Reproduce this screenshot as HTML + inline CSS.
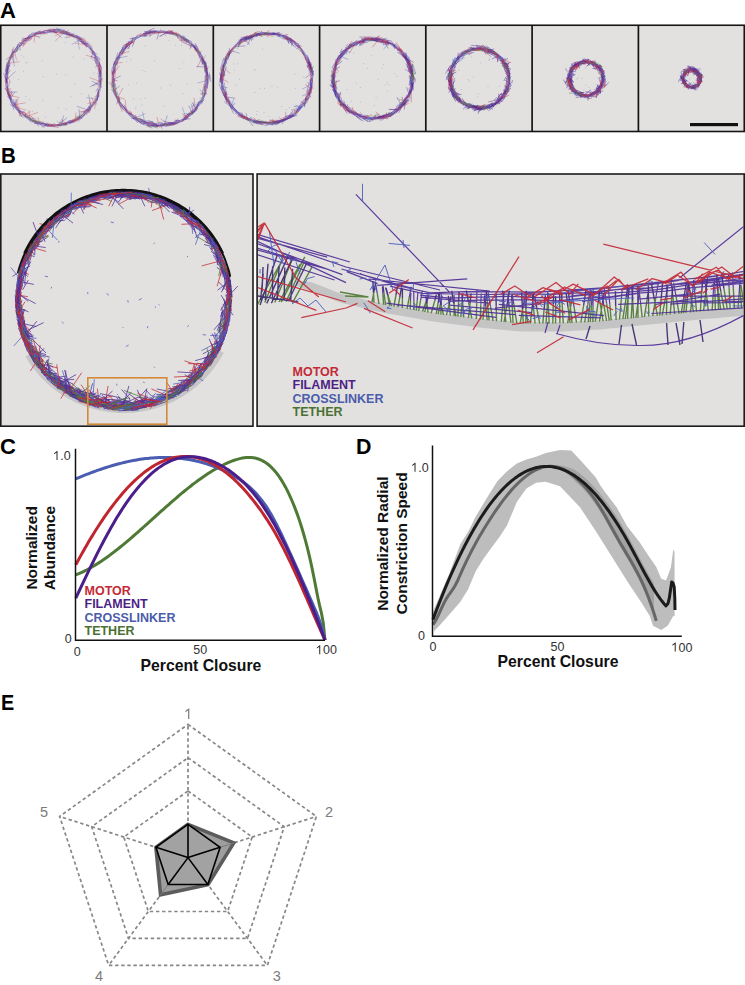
<!DOCTYPE html>
<html><head><meta charset="utf-8"><style>
html,body{margin:0;padding:0;background:#fff;}
body{width:745px;height:985px;overflow:hidden;font-family:"Liberation Sans", sans-serif;}
svg{position:absolute;left:0;top:0;}
text{font-family:"Liberation Sans", sans-serif;}
</style></head><body>
<svg width="745" height="985" viewBox="0 0 745 985">
<text transform="translate(0.0 17.8) scale(1.0 1)" font-size="22" font-weight="bold" fill="#000">A</text>
<text transform="translate(0.9 163.1) scale(0.93 1)" font-size="22" font-weight="bold" fill="#000">B</text>
<text transform="translate(0.1 453.6) scale(1.0 1)" font-size="22" font-weight="bold" fill="#000">C</text>
<text transform="translate(355.9 454) scale(0.97 1)" font-size="22" font-weight="bold" fill="#000">D</text>
<text transform="translate(0.9 710) scale(0.9 1)" font-size="22" font-weight="bold" fill="#000">E</text>
<rect x="0.75" y="25.25" width="743.5" height="106.25" fill="#e2e1e0" stroke="#151515" stroke-width="1.6"/>
<line x1="107" y1="25" x2="107" y2="131.5" stroke="#151515" stroke-width="1.7"/>
<line x1="213.3" y1="25" x2="213.3" y2="131.5" stroke="#151515" stroke-width="1.7"/>
<line x1="319.6" y1="25" x2="319.6" y2="131.5" stroke="#151515" stroke-width="1.7"/>
<line x1="425.8" y1="25" x2="425.8" y2="131.5" stroke="#151515" stroke-width="1.7"/>
<line x1="532.1" y1="25" x2="532.1" y2="131.5" stroke="#151515" stroke-width="1.7"/>
<line x1="638.4" y1="25" x2="638.4" y2="131.5" stroke="#151515" stroke-width="1.7"/>
<rect x="690" y="123" width="48" height="3.2" fill="#111"/>
<circle cx="53.5" cy="78.2" r="47.4" fill="none" stroke="#5a3ea8" stroke-width="2.4" stroke-opacity="0.3"/><path d="M5.7 74.6L10.5 63.3M10.7 100.6L7.1 90.1M101 86.5L96.4 95.6M67.2 123.6L62.6 124.3M97.8 72.8L100.2 84.8M45.5 125.2L41.4 127.2M61.6 30.5L70 32.7M7 75L7.1 64.8M96 102.1L88.2 110.5M46.3 125.5L44.9 123.3M11.3 100.5L7.1 93.1M74 120.8L68.3 122.8M90.8 107.5L83.4 112.3M25.9 38.1L32.3 36M100.6 69.7L100.6 80.1M15.8 51.9L22.6 42.2M6.3 81.6L6.2 77.6M98.9 68L99.2 74.1M77.5 41L84.1 42M23.5 41.3L28.5 38M7 80.1L9 68.1M102.2 77.9L99 82.4M69.1 35.8L77.8 37.2M12.5 92.4L7.1 88.1M61.7 125.1L53.7 126.4M83 43.1L91.3 48.7M62.8 33.6L68.4 30.3M60.4 32.3L67.9 33.4M71.2 120.3L62.9 124M8.4 67.5L8.9 60.7M87.7 109.5L83.3 113M34.8 34.8L37.8 33.1M63.2 123.3L57.2 125.6M34.7 120.3L32.1 121.5M97.7 67.8L100.9 77.3M91 102.7L88.4 111.6M77.4 118L75.3 118M98.5 62.6L100.9 67.8M11.5 99.8L8.9 92.1M97.6 94.4L97.5 101M15.6 106L7.4 96.3M69.4 34.4L74.6 34.2M18.8 42.6L25.4 44.2M5.7 71.5L9.9 65.3M99.1 89L97 100M71.4 35.1L82.7 39.6M9.4 95.8L5.3 87.8M101.7 67.7L98.9 77.5M99.5 61.6L99.6 72.7M17.8 109.4L11.5 103.2M38.6 124.4L29.2 118.7M42.6 34.1L46.3 32.2M98.1 89.2L95.6 91.2M46.6 31.8L57.7 32.7M11.3 102.6L8.4 93.3M50.3 125.2L44.1 125.6M12.7 100.5L8.6 94.7M10.4 60.3L13.2 48.6M84.9 114.8L78 118.9M43.6 32.7L51.3 31.8M55.8 27.7L61 30M47.2 124.8L38.8 123M90.5 48.2L94.4 53.4M62.7 30.9L64.8 30.7M7.2 68.8L7.2 62.7M61.4 33.2L73.3 34.9M65.9 32.2L74.2 36.2M53.3 30.5L56 30.8M43.5 30.9L48.9 30.2M88.9 48.1L97.3 54.4M87.1 43.1L88.9 46.1M75.6 35.8L84.1 44.4M31.4 34.3L40.8 31M60.8 126.1L57.9 125.3M73.7 119.3L64.3 124.6M63.8 123.3L60.2 122.9M97.6 98.6L95.6 100.7M5.4 70.6L7.1 62.8M9.8 97.3L6.7 86.3M74.1 122.3L63 123.3M59.2 33.3L71.1 34.9M25.9 117.4L25.5 113.6M93.3 51.5L98.4 61.7M13.8 53.1L19.4 48.4M82.8 40.9L86.1 46.7M56.4 31.2L60.1 30.2M78.6 36.6L81.2 40.3M8.3 94.5L7.3 86.3M91.8 105.3L89.2 113M6.5 70.9L8.9 60.5M20.5 114.4L19.2 109.3M22.5 44.4L30.6 37.6M24.8 112L19 111.1M22 117.1L18 109.8M47.5 30.8L54.1 31.6M64.8 37.6L70.1 37M16.7 108.4L13 99.4M53.6 29.4L63.6 29.3M91.1 109.2L85.9 115.3M54.1 31.7L57.3 32.6M94.8 53.2L96.6 65.8M47.1 124.4L38.7 121.6M14.4 106.2L9.9 100.9M100.5 70.1L98.6 81.8M49 124.6L37.8 122.2M30.9 121.1L21.4 113.5M81.6 43.4L88 43.8M16 106.6L16.1 101.8M13.3 53L19.3 42.6M44.1 122L40.3 125.1M85.7 114.1L77.7 121.9M38 34.2L40.6 32.1M6.3 74.8L8.9 65.4M89.7 46.3L94.1 55.6M73.2 120.8L69.2 124.2M80.9 116.4L77.9 119M20.9 114.1L19.6 112.6M55 123.4L50.9 125.5M35 33.2L40.1 30.8M37.1 122.8L34.5 123.6M11.3 55.2L18.6 44.4M27.7 38.4L29.2 34.9M54.7 32L63.6 31.3M21.9 40.4L25.8 38.2M30.4 117.8L25 114M26 117L18.6 109.3M98 65.1L100.3 73.7M60.7 32.6L70.5 35.2M22.3 41.1L30.5 39.9M34.6 119.3L25 116.2M99.9 63.4L101 67.4M52.5 124.4L48.2 125.8M97.5 95.9L95.9 104.9M96 58.9L98.3 67M85.4 41.5L87 47.2M52.9 125.2L45.1 124.3M12.7 57L13.3 50.7M7.7 88.8L7.5 82M15 105L15.2 99.5M100.3 78L100.6 86.5M100.6 82.8L101 88M80.1 41.2L85.2 43.5M6.4 83.1L7.2 70.8M5.9 59.6L11.7 56.2M76.2 35L85 43.9M40.1 33.5L43.9 32.5M20.2 50.8L19.7 44.4M97.2 91.3L98.8 96.4M38.5 121.8L31.7 120.6M98.6 90L98.2 97.4M44.5 127.5L40.6 124.6M8.8 57.9L14.1 51.8M85.7 113.3L81.6 117.6M65.1 33.7L76.6 37.4M100.4 72.4L100.3 77.4M6.8 82.6L6 78.7M27.9 37.7L32.4 32.4M66 32.8L72.1 35.9M81.9 117.9L72 121M28.9 37.8L31.4 37.4M67 124.4L63.5 124M7.1 82.9L5.2 73.7M18.3 110.6L11.7 104.5M6.6 82.6L7.6 76M33.3 34.6L45.1 32.1M7.2 74.5L7.6 66.5M89.6 51.2L100.6 59.8M69.2 120.8L64.8 125.1M51.8 29L59.6 29.9M82.6 118.4L77.9 116.5M21.9 38.1L32.1 38.9M8 83.2L3.4 73M21.3 40.4L26.4 38M33.7 34.2L44 31.7M76 35.4L84.7 39M5.2 72.6L6 70.6M84.6 43.5L88.3 47.2M88.7 106.3L86.6 113.7M78.3 39.5L83.4 43.7M11.4 99.4L10.4 97.7M81.9 112.6L78.6 116.1M39.3 124.3L33.9 123.3M17.8 108L12.7 105.3M89.9 105.5L88.3 111.5M49.1 29.7L61.7 30.4M34.2 118.4L29.2 120.3M49.9 30.9L55.3 31.3M41.7 124.5L34.6 121.2M7.9 87.5L5.2 86.2M84.4 40.2L92.8 48.5M72.5 122.5L69.6 122.6M48.8 30.3L50.6 30.1M80 119.3L68.4 122.5M8.3 87L9.8 81.5M99.5 95.7L92 106.2M25.7 39.3L32.9 35.7M67.2 125.1L58.5 124.7M20.7 112.6L15.6 108.8M48.9 30.3L51.8 31.6M13.9 110L11 101.6M54.2 126.7L43.7 125.9M16.9 51.8L17.9 44M89.3 106.4L83.2 113.3M8.5 91.8L4.3 88.1M56.4 125.5L46.2 125.2M79.2 118.1L75.9 115.6M14.3 104.8L18.2 98.7M24.8 40.4L19.3 47M100 87.2L96.4 84M96.7 58.8L90.7 56.1M93.2 52.3L90.8 58.5M6.2 75.3L10.6 70M100.9 80.3L89.9 87M30.3 36.8L35.6 35.4M100.4 85.2L91.9 81.2M52.6 30.8L61.9 37.7M79.7 117.7L79 109.2M9.5 60.5L9.1 66.4M99 64.8L95.2 67.4M12 55.4L13.5 62.1M100.7 82.5L92.1 86M61.4 124.9L63.6 115.5M88.5 110.2L76.9 106.4M10.5 98.2L15.2 91.7M6.1 80.1L15.6 71.3M17.8 109.4L23.6 113.1M57 125.5L67.1 117.7" stroke="#4a2896" stroke-width="0.6" stroke-opacity="0.55" fill="none"/><path d="M64.7 31L67.9 33.8M28.9 36.6L34.6 32.3M19.7 116.6L18.6 108M37.4 34.6L44.2 31.4M45.9 124L42.7 123.6M25.3 39L33.3 35.9M96.5 96.9L95.9 99.1M75.2 120.3L67.8 120.8M16.9 104.4L11.2 101.4M42.3 124.3L29.8 121.5M31.4 118.8L23.8 115.2M97.7 88.4L96.8 90.3M79 36.5L87.8 45.7M73.4 36.8L82.3 42.5M6.3 74.7L5.7 68.7M5.3 80.9L7.1 71.8M96.3 100.8L87.4 108.2M42.4 34.1L54.7 30.6M7.9 86.2L4.6 81M7.8 68.2L7.2 66.1M98.1 55.9L97 64.2M62.8 31.3L65.3 29.1M19.7 111.2L9.5 104M38.7 126.8L34.9 117.6M77.3 37.2L79.4 49.7M91.2 106.9L88.5 94.5M86.7 112L83 113.3M96.1 99L86.3 97.6M13 53.6L14.3 66.5M61 125L62.9 121.6M34.1 35L39.9 38.1M81.2 39.7L75.2 37.5M89.2 109.4L80.7 112.3M9.9 96.8L12.1 91.4M97.6 60.7L94.1 56.8M25.3 40.1L20.3 46.2M57.2 125.5L61.8 119.8M8.2 92.1L17.6 92M98.8 64.3L91.7 58.2M94.5 54.4L95.5 63.5M80.3 39.1L71.8 44.6" stroke="#5060c0" stroke-width="0.6" stroke-opacity="0.55" fill="none"/><path d="M37.9 123L31.9 119.9M6.6 69.7L8.4 63.1M15.1 52.8L16.8 48.4M77.4 38.1L82 39.9M101.4 67.1L99.9 70.9M75.2 36.8L85.8 41.9M58.8 32.9L63.3 30.5M78.1 119.5L72.8 122.2M28.4 116.9L23 111.5M55.5 124.5L50.9 125.7M38.3 33.3L41.5 33.4M66.9 122.4L62.4 124M63.8 32.3L68.9 32.7M86.2 110.7L79.2 117.4M67.9 123.7L55.3 124.7M8.5 95.1L7.6 91.1M80.1 116.9L74.4 122M66.3 35.6L75.9 35.7M50.4 125.8L46.2 122.6M18.6 108.3L15 104.3M20.2 46L22.3 43.9M64.5 31.4L74.9 37.4M76.7 118.2L73.5 122.3M98.3 91.7L97.8 94.1M52.3 30.1L55.3 32.8M45.2 125L34.4 120.3M6.8 85.1L4.5 76.3M62.2 125.3L58.5 124.7M99.7 78.8L100.5 82.3M92.5 51.3L92.1 54.8M52.4 32.8L57.9 32.6M8.6 97.2L6.5 88.9M32.9 117.6L22.9 111.8M58.9 127.9L48.8 125.6M21.6 116.9L17.1 110.1M23.2 45.2L32.6 37.7M91.7 48.5L93.2 53.2M5.3 85.6L7.5 80.4M58 124.6L46.7 126.6M61.1 32.1L65.9 30.9M13.2 96.4L6.2 86.8M99.1 62.1L99.2 72.9M40.2 32.3L51.4 28.7M9.2 98.2L12.4 92M87.3 41.5L92.1 46.9M68 34.3L72.9 36.4M57.4 125.6L47.1 123.2M91 108.9L80.8 115.8M99.2 57.9L99.3 70.9M51 31.1L63.3 32.9M6.2 72.6L9 68.6M83.7 42.7L86.7 47.7M19.9 43.6L27.2 37.5M88.5 110.6L85.4 113.4M99.6 94.8L94.1 97M102 78L97.4 89.6M78.8 38.8L86.3 40.3M9.6 59.1L13.7 46.8M27.7 39.6L37.7 33.4M47.5 30.5L55.1 29.8M7.6 61.8L15.1 54.5M77.8 117.8L69.6 122.4M11.5 97.3L7.3 88.1M79.3 116.4L75.1 122.5M93.8 57.5L98.1 68M23.6 117.8L19.9 113.2M33.8 34.3L41.8 31.5M100.8 64.7L101.9 76.6M25.6 41.7L29.8 34.2M20.3 43.5L28.8 37.2M8.1 61.8L11.9 54.6M25.5 113L18.2 112.5M96.2 99L94.5 109M95.3 98.6L90.8 107.3M20.5 45.8L23.9 44.8M100.8 81.8L89.5 77.5M30.1 119.4L28.9 110.2M8.6 63.1L19.5 61.6M63.7 31.9L55.2 41.3M32.5 35.7L40.4 36.9M79.4 38.5L85 45.6M88.3 110.3L79.5 111.9M6.3 73.4L10.3 82M14.5 51.2L16.5 60.1M94.4 102.1L87.4 103.6M34.9 34.6L34.1 42.4M78.7 118.3L69.8 120.8M62.4 31.6L55 36.1M18.5 110.2L16.6 99M25.7 116.6L37.9 112.5M13.1 103L19.6 107.6M14.3 104.8L25.8 102.7M94 102.8L91.4 97.1M7.1 87.9L11.4 89.1M96.5 58.2L85.9 55.2M38.8 33.1L47.6 33.8M16.2 107.4L26 110M87.3 45L74.6 43.1M9.3 95.3L19.4 97.7M35.6 122.1L31.4 116.2M66.4 123.8L61.2 119.2M39.3 123.4L38.1 117.2M27.8 38.4L22.6 47.4M90.2 108.2L89.7 99.8M23.7 115.1L30.9 111.5M74.4 120.8L76.1 112.6" stroke="#c8303f" stroke-width="0.6" stroke-opacity="0.55" fill="none"/><path d="M102.9 79.1L100.3 84.8M67.2 124.3L61.7 126M43.3 121.9L31.2 120.3M57.4 29.9L66.6 33.3M62.9 124.8L56.9 120.9M95.7 102.7L91.3 106.1M39.8 122.7L34.5 120.2M69.1 33.6L74.3 38.5M33.6 120.9L23.7 115.5M34.1 122L24.1 114.3M15.8 52.5L19.6 45.4M6.5 65.4L12.2 54.1M39.3 34.2L42 35.2M11 96.3L8.6 93.3M83.7 113.8L73.7 120.1M82.5 115.1L75.3 118" stroke="#4f8a40" stroke-width="0.6" stroke-opacity="0.55" fill="none"/>
<path d="M23.3 57.2h0.8M74.4 84h0.8M20.8 55.6h0.8M83.8 59.1h0.8M65.8 109.3h0.8M44.9 117.2h0.8M25.6 62.6h0.8M23.1 71.3h0.8M13.3 77.7h0.8M18.1 79.5h0.8M93.4 72.8h0.8M42.5 100.9h0.8M64.9 42.6h0.8M25.4 96.4h0.8M70.5 96.7h0.8M81.2 94h0.8M41.8 60.7h0.8M56 74h0.8M42.8 76.6h0.8M57.7 107.7h0.8M32.2 111.3h0.8M72.7 57h0.8M29 99.8h0.8M65.5 74.8h0.8M26.6 62.9h0.8" stroke="#7080c8" stroke-width="0.8" stroke-opacity="0.6"/>
<circle cx="160" cy="78.6" r="47" fill="none" stroke="#5a3ea8" stroke-width="2.3" stroke-opacity="0.35"/><path d="M156.6 124.9L152.2 121.5M153.5 31L157.4 31.3M144.5 36.5L146.1 32.5M114.8 73.9L115.4 65.8M134.1 120L130.8 112M146 33.5L152.3 30.5M175.5 122.7L172.1 123.8M205.2 84.3L202 94.3M124.3 44.9L131.2 41.5M118.1 57.5L124 51.2M142.2 34.5L150 33.1M202 57.9L204.7 67.9M182.7 35.6L185.4 37.2M114.1 71.8L114.8 70.1M165.9 33.4L168.7 31M207.6 71.6L207 80.2M123.9 110.2L119.7 104.8M115.7 65.2L120.8 56.3M205.9 69.2L207.4 71.1M149.2 32.1L153.2 32.7M205.7 79.5L204.2 90.8M157.7 126L151.3 122.6M145.1 35.3L147.5 34M143.1 33.6L154.6 31M124.5 107.7L119.4 101.7M147.2 122.4L138.3 120.8M139 35.7L146.8 36.4M200.1 52.5L199.2 58.3M158.6 32.6L160.8 30.8M114.7 82.2L111.7 70.4M177.7 123.6L170.3 123.2M126.5 49.2L130 46.1M205.6 65.8L204.7 69.7M210.1 75.1L207.1 87.9M121 50.7L125.4 45.7M130.9 114.5L128.8 112.9M125.2 46.8L127.6 44.3M144.4 120.3L134.2 117.3M138 123L135.2 120M145.4 123.2L143.9 120.6M169.3 123.2L167.6 124.3M183.8 39.7L188.5 42.5M157.8 126.7L151.3 124.4M144.2 125L133.5 118.4M149.1 36.8L153.7 33.1M183.5 118.7L181.8 122M127 109.8L124.1 104.7M112.6 82.5L113.9 70.2M178.2 35.9L187.6 42.7M162.1 128.7L159.7 123.2M165.4 33.3L174.5 33.6M175.5 34.1L181.2 35.6M198.8 103.9L194 112.6M168.9 32.2L171.3 31.9M192.1 112.5L184.9 116.8M124.6 45.5L127.4 43.8M143 120.3L131.3 118M173.8 124.9L168.8 121.9M126.4 43.2L129.1 43.4M114.2 64.8L117.9 52.6M126.7 47.4L133.2 41M158.7 33L160.7 31.1M112.7 86.1L113.8 81.8M127.1 112.6L124.9 108.4M185.3 39L188.5 40.7M180.7 37.3L189.6 41.9M205.7 86L207.7 89.2M151.5 123.1L141.4 120.7M124.8 48.6L133.1 41.7M119.2 57.9L120.1 52M172.2 32.8L174.1 34.1M113.7 87.2L108.8 82.1M202.3 59.5L206 67.3M117.4 58.1L118.3 56.6M205.2 62L205.2 64.4M198.1 104.8L192.4 114M143 33.8L155.6 32.9M185.8 116.4L183.3 118.5M188 117.7L183.6 118.5M119.8 101.3L119 98.1M143.6 35.6L150.9 34.7M168.4 124.2L158 125.8M157.6 128.2L147.6 124.2M205.2 60.5L205.9 70.8M160.4 29.5L164.3 32.5M202.3 58.4L206.2 66.7M122.8 53.5L125 50.6M123.3 51.1L122.5 46.7M206.5 62.5L206.1 68.1M187.6 39.9L190.6 45.6M209.1 72.4L210.9 81.8M112 74.5L114.6 67.6M176.9 121.8L164.6 123.4M157.3 126L148.5 125.1M166.7 125.2L163.3 124.6M115.9 65.1L119.3 57.4M204.2 67.9L205.3 71.4M159.9 123L151.6 123.7M120.3 52.7L123.8 45.2M206.7 73.9L206.4 78M190.5 118.7L181.4 119.6M175.3 124.2L166.7 125.4M193.6 46.2L195.5 48.3M165.6 32.8L173.4 31.6M164.7 124.4L160.3 122M114.2 70.5L115.1 68.2M157.5 125.6L146 122.4M145.1 32.3L154.5 28.1M175.8 122.5L167.3 124.1M152.6 121.7L142.7 123.9M132.1 115.3L129.8 110.5M172.3 122.9L162.2 125M119.6 53.2L128.6 44.9M202.1 58.6L205.9 65.2M188.3 118.4L182.2 120.9M115 91.9L111.2 89.5M194.6 44.8L196.9 47.1M198.9 102.5L195.7 111.7M207.9 77.5L207.2 87.7M198.3 103.4L195.4 108.2M128.5 112.2L122 105.4M176.5 33.6L177.7 38.3M128.4 43.8L129.3 41.1M119.5 102.7L114.8 93M182.8 121.1L175.5 123.2M202 57.8L202.1 64.5M116.4 89.4L114.7 83.3M205.3 92.5L200.8 102.8M197.9 51.2L201.3 62M205.5 64.4L207.4 74.2M129 114.3L123.5 106.7M170.1 31.1L173.3 32.5M116.7 104.4L119 97.7M209.1 74L206.5 86M154.4 126.1L146.2 125.4M119.7 103.4L118.8 95.8M134.6 116.9L129.7 113.4M121.5 53.9L128.2 44.2M179.4 40.4L185.1 39.7M111.6 69.9L115.1 61.4M205.4 92.8L201.7 104.1M124.8 51.1L126.6 44.2M200.7 100L196.1 106.7M205.4 74.7L204.8 79.6M206.2 89.6L204.7 96.2M205.1 70.1L208.8 78.3M115.6 58.8L120.2 57.2M190.9 45.3L198.6 50.1M131.1 114.5L127.7 112.6M193.5 45.6L197.1 51.8M156.5 32.4L166.2 32.6M197.6 109.1L191.4 114M144 31.4L155.2 32.9M200.6 56.5L202.7 64.2M114.4 92.5L113 89M189.8 114.8L186.6 114.5M132.9 118.5L128.4 113.9M204.4 99.7L198.4 104.8M121.9 105.7L119.7 103.1M190.8 43.6L195 49.5M195.6 108.1L190.4 111.9M202.8 56.8L201.9 59.4M178.9 122.4L174 124.4M203 59.7L205.2 62.9M157 124.9L147.1 123.1M191.6 44.3L195.9 46.2M141.4 123.9L133.8 116.8M115.6 96.8L112.9 91.3M205.3 76.2L207.2 81M194.5 110.9L185.4 118.1M114.5 86.4L112 81.7M113 88.5L113.4 84.9M195 43L198.4 49M205.7 65.7L207.9 75.9M207.1 80.9L206 84.1M115.5 65.9L116.3 63M191.3 110.6L184.3 117.8M146.3 123.6L139.8 120.7M167.4 122.9L155.4 126.6M154.6 32.4L157.8 30.8M164.6 125.3L156.2 125.9M190.3 42.4L197.7 50.9M114.7 86.3L113.8 84.4M116.2 98.3L116.9 94.7M117.3 57.2L121.3 51.9M178.5 118.9L174.3 122.1M193.2 113.5L182.8 120.4M202.2 100.5L197.4 102.5M144 33.2L151.1 30M126.9 45.5L134.9 41.1M185.1 38.2L192.1 42M145.3 122L139.6 118.2M149.4 31.6L155.6 30.9M199.9 55.9L206.4 64.6M112.6 74.2L115.8 71.7M182.2 36.9L186.8 40.3M207.9 68.7L204.9 71.2M206.5 68L208.1 76.4M152.3 128.2L140.8 122.6M128.2 49.3L133.1 37.5M172.3 124.1L169.7 124.5M113.7 81.4L114.8 79.4M130.3 38.7L137.7 36.9M197.6 108L190.4 114M112.6 73.5L114.4 60.9M192.9 44.8L199.2 50.6M150.3 127.2L146.1 121.7M113.3 64.8L119.2 55.4M203.9 61.7L205.6 66.5M195.1 47.2L198.8 56.3M125.7 108.7L119.5 101.4M170.9 124.7L160.6 123.6M146.7 33.7L155.7 30.9M181.4 41.7L192.2 46.6M117 66.5L117.4 58.4M169.8 30.8L174.2 33.4M207.3 66.2L206.1 73.8M158.9 125.2L156.3 123.6M194.2 111.3L191.8 114.9M166.1 33.3L178.2 35.7M163.7 31.2L168.1 31.5M202.7 61.1L202.4 64.7M177.9 36.5L179.3 39.4M193.9 46.7L200.8 55M123.5 49.3L127.2 46.3M167 32.7L176.3 33.5M205.3 83.6L204.4 93.8M202.3 93.4L202.9 96.5M121.4 56.2L123.8 50.5M190.7 113.7L183.3 119.3M180 36.5L184.4 37.5M134.7 118.2L133.3 114.7M204.4 94.1L199.7 89.5M135.4 38.5L132.3 46.8M191.5 43.7L190.1 49.1M113 79.7L117.6 80.9M136.5 119.3L135.4 115.2M196 108.9L191.8 102.1M158.1 125.6L148.4 120.3M192.2 112.9L188.7 105.5M167.1 32.1L160.1 36.5M167 32.1L158.8 36.7M113 79.9L120.8 75.7M181.8 37L187.4 42.4M205.6 67L196.5 66.5M179.9 121.2L176.2 120.9M180.5 120.9L175.1 120M159 31.6L156.9 39.5M173.2 123.7L163.5 121" stroke="#4a2896" stroke-width="0.6" stroke-opacity="0.6" fill="none"/><path d="M134.4 39.7L141.3 36M117.7 100.9L115.9 92.2M122.6 108.9L121 105.3M118.3 95L115 90.9M199.6 51.1L203.7 61.8M206 70.6L208.2 75.1M155 31.8L159.7 31.9M141.9 124L136.9 118.7M113.7 93L114 81.6M152.7 121.6L141.3 120M119.5 53.8L124.6 46.2M117 95.3L117.5 91.7M205.2 63.4L206.6 75.4M199 51.4L202.2 56.7M132.3 40.4L136.3 38.7M135.2 37.5L138 35.1M127.7 41.6L131.7 41.1M205.6 55.3L202.6 60.1M179.5 122.4L168.5 122.6M181.2 37.2L186.9 40.1M175 124.7L165.3 126.4M204.6 65.7L205.9 75.2M129.5 38.9L139.4 37.4M152.5 30.7L160.9 33.1M139.8 36.5L147.4 35.6M114.3 89.7L120 86M185.7 117.9L182.4 107.2M117.6 58.3L127.5 56.2M192 113L193.9 102.3M207 80.5L197.4 83M192.9 112.1L191.4 104.2M134.6 118.1L145.3 113.6M203.2 97L199.5 98.8M164 125.4L167.4 115.3M180.3 121L174.5 120.4M191.6 113.4L183.7 113.8M200.9 101.8L190.9 107.1M163.5 125.5L159.9 123.8M164.6 125.4L159 121.9M144.9 123.1L142.5 111.5M197.8 106.5L199.3 101.4" stroke="#5060c0" stroke-width="0.6" stroke-opacity="0.6" fill="none"/><path d="M167.7 31.1L173.4 30.6M139.8 35.8L150.4 32.2M125.6 48.8L133 41.1M122.2 111.9L117.5 99.5M209 66.6L206.6 69.7M195.9 45.8L197.5 48.4M205.4 67.8L208.2 69.1M125.4 44.9L132.1 41.6M132.2 115.2L126.4 108.9M118.2 101.9L118.4 96.6M201.8 55.4L204.7 62M150.1 33.2L156.6 31.3M125 46.6L132.8 42.2M200.7 56.4L203.6 60M112.6 73.6L116.5 68.4M163.9 124.8L160.4 126.6M120.9 107.3L117.5 100.3M116.4 96.3L113.5 88.1M132.2 41.3L133.1 37.8M197.9 49.4L199.9 52.5M204.6 87.1L206.8 94.8M168.1 30.7L180.1 34.9M112.7 82.8L111.8 71.4M188.8 115.8L184.8 117.2M181.6 120.5L170.9 122.8M203.6 63.3L206.8 70.1M111.7 88.2L112.2 77M195.3 107.8L190.3 114.2M136.4 36L141.4 33.3M197.4 106.4L196.1 108.1M188.7 116.1L182.4 121.3M139.7 122L137.1 119.5M153 122.8L143.1 121.8M204.5 65.2L207.4 76.5M130.5 114.2L126 109.3M177 123.8L166 125.7M207.4 74.4L205.5 77.5M192.6 111.5L182.5 117.2M141 35.5L146.8 35M205.5 79.2L203.1 88.6M175 32.1L178.8 33.8M168.3 32.6L176.8 33.7M115.6 95L115.7 87.8M166.7 124.7L162.2 124.3M115.8 92L113.9 88.2M141.6 119.3L133.7 117.6M208 78.5L204.7 80.2M194.4 49.8L198.8 52.7M153.6 33.9L163 32.2M163.1 31L166 36.1M120.2 55.6L125.2 48.6M174.6 34.7L184.8 41.1M114.1 88.1L112.3 85.4M149.9 35.9L150.5 30.3M179.3 39.2L187.1 43.1M154.2 33.1L163.7 31.6M114.4 68.3L117.2 58.2M123.1 45.3L133.2 42.6M159.9 127.2L150.7 124.6M122.7 54.2L122.8 51.6M194.9 48.8L200.7 56.6M205.6 85.7L205.7 90.9M149.3 125.5L146.2 123.9M166.8 32.2L172.7 33.4M195.4 109.5L194 97.6M113.1 81L115.8 85.2M127.1 112.2L136.8 116.6M113.4 72.3L114.5 82.6M159.2 125.6L156.8 117.1M113.2 74.2L119.5 65.8M115.6 63.3L122.5 62.4M114.6 66.5L115.3 77.7M126.2 111.2L125.3 100M168.3 124.9L160.6 118.8M198.3 51.3L194.2 48.5M117.2 98L123 88.1M116.1 95.3L120.5 99.8M185.7 39.2L191.5 47.9M204.5 93.8L200 93.8M187.1 117L182.1 113.9M119.7 54.4L129.4 51.4M132.3 40.6L133.4 44.1M116.6 96.5L124.8 99.2M181 36.6L181.8 41.6M202 57.6L197.2 67.4" stroke="#c8303f" stroke-width="0.6" stroke-opacity="0.6" fill="none"/><path d="M116.6 94L114 89.3M203.7 62.5L206.9 66.2M143 120.8L134.6 116.5M115.6 60L119.8 57.7M203.1 88.9L202.1 95M194.7 112.7L187.6 114M119 52.2L122.9 51M114.6 67.8L115.3 63.6M194.7 50L201.6 52.1M119.9 102.8L115.4 93.8M183.6 38.1L193 45.6M205 93.3L200.1 101.8M207 76.4L205.5 81M205.1 68.1L204.3 72.6M157.7 126.7L146.7 126.7M113.1 91.1L111.7 82.4M184.1 39.3L185 41.2M116.5 91.7L111.9 81.5M172.8 33.9L184.7 37.8M170.2 124.2L160 125.4" stroke="#4f8a40" stroke-width="0.6" stroke-opacity="0.6" fill="none"/>
<path d="M135.4 108.6h0.8M130.3 59.4h0.8M179.2 68.5h0.8M135.5 106.7h0.8M166.3 117.5h0.8M144.9 46.1h0.8M186.9 83.9h0.8M126.2 61.7h0.8M144.7 98.4h0.8M141.5 105h0.8M140.4 99.2h0.8M160 88h0.8M175.2 45.3h0.8M127.9 84.6h0.8M181.1 45.4h0.8M142 70.5h0.8M168.7 40.5h0.8M136.2 83.2h0.8M183.5 62h0.8M132.9 98.8h0.8M182.7 93.5h0.8M163.7 106.4h0.8M170.2 85.2h0.8M154.2 61h0.8M144.6 71.6h0.8" stroke="#7080c8" stroke-width="0.8" stroke-opacity="0.6"/>
<circle cx="266.7" cy="78.3" r="45" fill="none" stroke="#5a3ea8" stroke-width="2.4" stroke-opacity="0.4"/><path d="M305.9 101.7L302.3 104.4M225.9 96.5L224.5 89.8M300.3 107.4L296.3 111.7M263.2 32.7L275.2 34.5M248.8 120.4L237.5 116.2M273.5 32.3L275 35.4M307.7 59.5L310 62.8M248.9 38.7L258.4 34M294.5 114.8L286.4 119.7M285.8 119.1L276.2 120.8M278.4 32.4L279.5 37M276.8 122.1L265.9 122.7M220.6 80.4L221.5 69.2M224.6 66.1L228 57.6M236.8 110.8L231.2 105.2M226.7 64L225.8 59.6M223.5 70.7L223 66.6M222.5 83.7L222.7 81M241.3 116.8L238.1 113.4M229 56.8L229.3 53.8M254.3 34L257.2 34.8M244.6 40.7L248.3 36.5M268.4 122.5L265.2 121.6M222.9 68.1L226.6 56.8M245.7 41.1L255.2 35.5M308.1 61.2L311.7 68M293.3 40.4L295.4 44.6M262.3 124.7L252.8 122.7M223.1 94.4L218.8 83.4M241.9 117.1L235.3 109.3M242.3 37.7L254 36.1M244.7 40.3L249.5 38.6M276.8 34.2L283.7 35.6M257.8 33.2L260.5 33.8M261 122.7L255.3 121.5M242.7 40.5L251.7 37.7M228.1 95.2L223.1 90.4M303.5 52.2L307 62.9M256.6 35.4L266 33.4M244.6 38.7L250.3 38M284 120.1L281.9 124.2M220.6 82.6L222.1 71.9M283.2 34.9L292.5 40.1M224.9 61.4L225.4 57.5M224.5 75.7L223.2 64.8M284 119.7L272.1 124.4M223.9 88.8L224.4 82.6M309.8 79.1L311.1 85.7M288.8 41.3L293.4 45M310.6 91.9L308.1 95.6M247 117.5L246.1 113.2M261.1 31.5L266.2 34.3M228.8 55.1L230.2 51.3M287.6 38.6L288.8 43.5M278.3 36.6L280.9 34.6M262.4 122.7L256.9 121.5M278.5 122L269.1 122.5M313.2 70.8L312.2 82.6M225.2 57.4L228.3 52.7M309.3 93.8L310.6 97.6M220.3 80.4L222.4 73.8M294.5 43.9L298.8 47.1M264.2 33.2L273.5 33.7M228.1 59.2L230.5 51.3M309.6 64.4L310.8 66.4M281.8 34.7L288.3 41.8M282.9 38.3L291.5 39.7M284.2 120.5L274 122.6M254 33.2L259.8 33.9M224.1 71.5L221.7 67.5M229.8 51L232.4 49.3M308.5 62L310.2 67.7M271.1 124.1L261.5 121.2M229.9 104.4L224 94.8M285.8 119L278.9 122M236.8 112L234.4 109.2M311.6 78L312.4 81.8M310.4 79.4L311 89.8M311.3 86.7L308.5 95M239.4 45.3L247.4 35M281.5 120.2L275.4 121.7M302 106.2L295.7 114.9M254.9 36.3L262.7 33.6M251.1 41.3L252.5 37.2M255.8 35L263 32.6M306.3 102.1L303.2 105.8M240.1 40L250.9 37.4M226.9 54.9L228 53M285.7 119.6L284.7 121.5M225.4 67.4L225.1 64.2M229.7 101.7L223.1 95M219.4 82.2L221.4 74.1M291.6 117.9L281.4 119.4M309 63.4L312.2 70.1M286.2 35.5L289.7 40.2M287.7 39.4L298.9 43.8M279.2 121.8L275.6 122.5M305 58L308.9 63.3M309 63.2L310 66.7M243.9 119.2L240.6 114.9M288.3 39.4L295.4 47.7M239.3 41.1L250.8 36.4M233.6 113.6L228.2 102.2M307.3 98.9L306.5 101.6M238.1 40.3L246.7 38.1M293.2 110.6L287.8 117.9M293.9 115L285.1 116.4M262.1 123.3L254.1 119.6M231.4 109.3L228 97.2M271.5 35.1L277.8 33.3M247.8 118.5L237.6 113.5M245 39.8L254.4 35.8M310.6 65.9L310.9 70.7M296.9 47L299.7 47.7M256.3 36.9L257.6 35M264.1 34.2L274.4 33.8M292 115.4L286.1 118.5M283.2 120.3L275.4 124.9M256.7 121.5L249.4 118.9M228.4 55.4L229.5 48.1M306.9 97.7L302.7 100.9M233.3 109.2L230.8 106.8M290.3 38.1L290.6 42.9M242.6 113.4L236.1 111.8M240.6 41.5L241.4 39M263.4 34.8L269.5 34.5M227.1 59.9L230.5 51.5M305.2 102.3L304.6 106.8M293.2 114.8L286.2 116.3M255.2 120.8L249.9 117.5M226.4 102.8L226.1 99.9M301.7 101.9L296.3 112M265.2 122.5L253.4 122M225.8 99.9L225.5 93.6M268.7 34.6L276.4 34.2M274.6 120.6L269.4 120M311.7 82.7L309.7 95.3M223 89.7L221.1 84.5M290.2 37.7L292.1 41.1M275.5 120.9L270.9 125.3M308.9 59L311 70.1M222.6 81.8L221.2 71.9M243.9 115.5L242.4 114.2M248.9 37.8L257.5 34.3M220.8 68.2L223.7 58M310.7 67.5L313.6 75.8M248.6 119.8L237.9 114.6M245.9 38.5L254.3 33.8M302.8 51.6L303.5 55.1M275.9 122.3L264.7 125.9M271.3 34.5L279.8 32.4M247.6 118.8L239.7 113.4M253 126L245.8 116.8M291.4 40.1L291.9 46.2M251.3 37.4L261.3 35.1M267.6 122L264.9 123.1M309.2 97.7L304.8 101.2M228.8 52.2L236.4 44.1M222.8 76.5L226.5 67M307.2 98.9L305.1 100.3M294.3 116L286.3 119.4M271.7 32.7L276 34.4M309 82.7L306.4 93.6M223.2 81.2L224.4 72.5M295.1 46L300 45.7M307.8 62.4L312.5 71.6M237 114.3L234.9 113.1M259.9 34.8L268 34.1M234.7 110.6L231.5 104.1M236.4 44.9L239.6 40.4M223.7 89.8L219.9 78.6M222.5 65.5L226.2 61.2M309.9 65.2L312.9 74.9M250.9 38.2L261.9 31.6M268.7 123.3L256.7 120.7M308.6 89.3L307.7 93.5M310.1 61.9L311.3 65.6M286.6 119L279.1 122.4M278.8 123.1L271.8 125.1M298 44.9L302.7 51M223.1 70.9L219.9 68.1M308.8 98.5L305.3 99.8M312.6 67.1L312 72.6M273.4 32.5L278.5 34.7M308.2 56.8L310.2 67M307.9 63.2L308.4 67M279.9 122.6L272.2 121.3M221.4 83.2L220.2 73.9M227 101.6L226.1 91.1M275.8 33.3L280.8 35.5M310.9 63.7L309 72M238.7 45.8L241.7 36.8M299.1 111L297.1 111.8M267.3 122.8L259.5 122M310.5 83.6L311.6 93.5M292.6 111.6L288.6 116.1M238.1 47.1L241.5 38.7M288.3 118.4L277.5 123.9M220.9 88.2L222.7 85.5M225.8 99.6L221.2 88M313.3 71L312.8 75.7M260.9 35.4L262.6 34.8M256.9 33.4L259.7 34.4M223.6 76.2L223.1 65.9M280.9 120.7L276.8 122.4M225.7 98.3L224 93.7M293.2 116.1L281.5 120M309.7 65.5L312.1 73.5M283.5 36.8L287.8 39.9M311.1 85.2L312.7 88.3M301.5 104.4L300 109.4M281.7 36.1L287.8 34.5M222 74.5L222.4 71.5M242.9 37.7L250.6 38M225.2 90.1L222.7 89.1M300.4 104.7L296.9 110M295.7 114.5L285 119.3M310.5 96.3L306.9 98.6M244 40.9L253.3 34.7M284 118.5L279.2 122.4M291.3 39.2L294.7 42M292.1 39.8L292.2 44.5M226.4 94.8L225.4 86.9M241.8 117.6L242.2 113.3M227.2 56.2L232 52.3M312.2 82.6L310.8 91M282.5 35.9L291.5 38.7M309.2 87.1L309.4 94.5M245.9 116.5L244 116.3M294.6 42.2L301.5 46.5M249.3 36.8L252.1 35.5M307.1 55L308.6 62.9M286.8 36.7L288.9 43.7M222.8 84.3L219.8 72.3M222.9 67.1L227.4 56.4M293.5 114.7L291.8 117.6M311.7 83L310.8 84.6M264.2 125L252.7 121.3M306.3 94.5L304.3 107.2M309.2 94.8L305.6 98.2M258 123.9L247.2 117.8M296.5 115.7L288.8 117.1M250.5 120.5L246.9 116.7M236.8 113L228.7 104.7M224 68.2L224.6 66.4M243.7 37.1L251.5 36.9M287.3 116.7L282.7 117.8M301.1 50.2L306.9 59.7M264.8 123.6L257.5 120.6M240.7 39.3L246.6 36.3M308.4 61.4L313.3 71.6M253.5 121.3L257.7 121M225.7 96.8L235.3 98.3M251.4 36L247.5 44.9M311.2 71.3L308.4 73.7M225.2 95.6L225.6 91.9M311.5 73.7L305.3 78M223 67.6L224.4 72.7M310.4 67.5L306.6 65.8M311.7 77.8L309.3 83.6M303.6 104L301.2 100.8M301.2 107.3L293.7 106.4M232.1 107.1L234.8 102.7M311.4 73.1L306.8 65.4M235 46.4L245.4 46M276.2 122.3L271.9 121.9M299.7 108.8L295.2 110.4" stroke="#4a2896" stroke-width="0.6" stroke-opacity="0.62" fill="none"/><path d="M221.7 83.8L222.2 76.2M233.6 109.2L223.8 101.4M284.1 36.7L293.9 41.3M222.1 75L222.3 69.7M297.3 115L286.7 118.2M277.7 124.2L266.1 124.1M235.2 45.5L242.7 38.9M234 110.8L230.3 100.7M277.7 32.6L280.4 34.4M275.8 34L286.1 38.1M227.2 101.3L227.2 98.6M277.1 36.5L279.4 34.8M307.7 59.9L307.9 68.1M240.7 43.6L241 39.7M302.9 106.3L296.8 110.1M284.3 120.4L276.3 123M221.8 90.5L222 86.4M285.1 36.4L291.4 42.7M310.6 61.8L312.1 68.2M303.5 100.2L299.3 109.7M305.7 55L306.4 58.1M276.4 35.1L284 39.2M225.9 98.7L222.9 92.7M244.8 117.7L236.3 112.3M292.7 113.4L292.6 116.2M236.8 43.1L246.6 36.8M301.8 49.2L303.3 52.2M222.2 79.8L223.1 75.5M302.8 106.4L298.2 110.5M311.5 79.6L311.3 87.8M248.9 119.6L251.7 116.8M222.5 86.5L227.4 87.7M299.4 47.4L295.9 49.1M311.1 85.6L306.9 81.8M243.8 39.6L250.1 44.7M267.3 123.3L264.1 121.6M281.5 120.8L275.5 120.1M243.8 39.6L254.1 38.9M231.3 106L233.8 98.8M309.2 93.1L302.1 96M301 107.4L291.1 110M305 54.7L301.8 52.5M301.1 107.3L295.4 105M231.2 50.7L239.7 53.3M311.3 84.3L302.2 89.2M231.7 106.6L228.8 98.9" stroke="#5060c0" stroke-width="0.6" stroke-opacity="0.62" fill="none"/><path d="M251.8 35.8L255.9 32.3M264.4 34.8L273.5 36.3M300 46.4L301.3 49.1M259.5 123.1L253.2 117.4M305.1 57.5L308.9 60M223.6 60.3L228.6 51.5M308.1 92.6L305.5 100.1M221.9 79.7L221.4 69.3M238.3 43.9L246.3 40.8M277.1 121.4L269.6 120.6M313.2 84.6L309.6 93.1M237.8 44.9L243.9 36.4M272 123.3L269.6 121.5M311.2 91.4L306.9 103.1M292 114.7L287.4 118.8M226.5 98.8L222.3 91.1M276.9 121.1L267.6 122.3M275.5 35.1L282.1 33.3M244.8 39.4L251 34.8M284.6 36.8L288.7 38.2M222.8 77.9L223.5 68.7M253 35.6L257 31.8M221.7 78.6L225.2 74.4M251.1 120.1L241.9 116.6M228.7 55.3L232.6 49.3M294 40.5L296.9 45.4M294 109.6L295.6 114.2M244.9 118.4L244.2 115.2M313.2 88.1L308 94.1M247.1 36.3L255.8 34.8M264.1 33.9L269.6 30.3M239.8 42.3L247.2 40.8M224.6 59.8L229 53M311.1 90.6L304.3 99.5M310.8 77.5L312.6 83.6M220.1 82.3L222.1 74.3M221.7 81L223.5 74.6M232.2 49.4L236.7 45.9M271 122.6L258.7 122.8M285 118.7L275.3 123.5M250.9 119.8L240.6 115.1M232.8 107.4L225.6 97.7M249.6 119.2L240.3 115.5M310.6 63.5L311.5 70.2M297.6 112.4L294.4 113.8M227.4 104L223.9 91.6M284 37.3L292.4 41.5M303.9 55.9L308 64.5M284.9 34.8L295.7 41.8M298.6 44.6L304 56.1M248.3 38.3L252.5 36M307.2 62L311.2 71.6M222.2 72.2L222.9 65.6M278.3 121.7L275.1 121.1M296.5 110.6L296.2 113.7M229.8 103.2L225.1 92.3M266.2 121.9L261.8 122.2M264.8 32.7L267.1 33.8M227.4 52.4L236.1 46.6M246.3 119.1L237.5 115.2M254.8 32.6L259.9 31.4M257.5 34.3L262.1 36M302.7 105.3L303.7 101.3M310.6 88.3L305 84.3M285.3 119.3L285.8 111.7M230.9 51L234.2 51.4M274.4 122.6L272.5 118.7M283.4 120.1L278.7 117.5M311.7 76.2L310 72.5M271.6 33.6L266.5 36.9M297.2 111.4L293.7 110.3M311.5 74.4L310.8 79.3M309.9 65.6L309.2 69.3M223.1 67.1L230.3 73.7M308.2 60.8L308.8 69.7M308.8 94.2L306.8 90.2M221.7 78.6L228.4 82.4M288.7 39L284.5 39.4M263.2 33.4L259.3 36.1" stroke="#c8303f" stroke-width="0.6" stroke-opacity="0.62" fill="none"/><path d="M236.9 49L241.4 42M296.7 112.6L293.5 113.4M270.6 124L266 121.6M261.3 34.6L269.4 32.2M305.7 101.3L305.9 104.4M313.5 65.7L310.9 72.7M221.3 71.9L220.6 69.1M263.2 122.6L251.2 121.8M221.3 73.5L226 62.6M260.7 36.9L266.6 33.9M247.1 120.4L245.6 116.6M224.5 60.6L229.7 52.1M297.2 48.2L304 54.6M246.1 39.5L257.1 33.5M276.8 122.7L273.2 123.1M251 120.7L247.1 120.3M266.6 122.5L257.8 119.3M275.4 121.5L270.3 123" stroke="#4f8a40" stroke-width="0.6" stroke-opacity="0.62" fill="none"/>
<path d="M253.6 70.4h0.8M256.5 111.5h0.8M235.9 85.4h0.8M233.5 64h0.8M268.5 116.4h0.8M259.6 88.7h0.8M234 70h0.8M303.4 77h0.8M285.9 109.6h0.8M262.2 49.3h0.8M288.9 107.5h0.8M294.9 88.3h0.8M237.1 63.7h0.8M277 87.2h0.8M239 79.3h0.8M294.5 74.3h0.8M256 114.6h0.8M264 88.4h0.8M263.7 112.7h0.8M255.2 69.5h0.8M281.3 106.5h0.8M271.5 86.2h0.8M254.7 92.5h0.8" stroke="#7080c8" stroke-width="0.8" stroke-opacity="0.6"/>
<circle cx="372.7" cy="79" r="39.6" fill="none" stroke="#5a3ea8" stroke-width="2.8" stroke-opacity="0.5"/><path d="M412.4 64.2L412.7 71.6M344.3 106.9L340.8 97.5M332.1 67.5L338.5 57.9M389.6 113.6L382.4 116.2M397.1 106.2L393.8 112.5M407.6 69.7L411.4 74M409.7 64.1L413.2 71.2M334.5 81L334 72.6M335.3 88.6L334.7 83.5M411 69.8L415.7 80.5M405.4 59.7L409.3 65.5M346.1 105.3L339.3 104.3M411.1 68.1L413.7 79M386.7 41.6L389.1 43M375.7 116.5L368.7 121.5M361.7 41.4L364.6 43.1M333.2 79.2L332.1 74M408.3 94L407.3 97.8M334.7 83.6L335.1 80.9M340.1 56.1L347.8 47.8M359 41.9L363.8 40.6M370 38.9L373.6 38.1M412.2 81L411.3 85.5M347.7 107.8L341.1 104.1M344.9 48L353.9 43.6M335.9 70.7L335.8 59.8M392.8 44.9L397.5 48M406.8 61.6L410.8 69.3M344.3 108.9L342.5 104.3M406.2 98.7L401 104.6M406.5 87.1L410.3 98.2M344.7 51.9L347.2 48.2M402.7 54.1L405.9 60.4M409.2 57.6L407.9 67.8M403.4 103.1L396.7 111.3M332.4 87L334.2 83.7M330.8 86.1L333 75.8M412.7 64.1L415.7 74.1M358.3 113.8L351.9 111.2M371.2 118.6L366.9 119M392.6 115.3L388.4 116.6M334.9 68.1L337.2 62.1M405.9 102.5L402.7 105.2M370.8 40.1L382.2 39.5M402.8 55.6L413.7 62.4M372.9 120.2L370.9 117M359.4 37.1L371.9 37M333.8 83.7L333.3 72.9M411.4 73.8L413.1 79.8M358.6 41.9L362.2 43.4M353.6 113.7L345 108.8M336.4 95.5L332.6 89.4M373.1 120.6L370 118.8M407 100.3L401.2 106.4M336.8 65.3L340.9 59.4M410.7 79.8L412 88M405.2 104.1L396.9 105.4M334.6 74.3L333.4 71.2M369.3 41.1L373.4 40.3M348.2 47.9L350.4 47.8M384.8 114.9L377.3 118.8M340.8 106.8L341 100M383 116.3L377.8 117.9M345.2 50.8L354.9 44.8M370.1 117.5L359.3 116M397.4 49.6L403.3 52.6M358.3 115.1L353.9 114.2M404.5 56.2L406.8 57.8M410.2 79.8L409.2 85.7M389.1 115.4L383.2 114.7M402.9 103.1L395.4 112.4M373.1 40.4L380.4 39M409.8 98.8L404.4 105.5M402.3 56L408.8 60.5M338.6 59.1L345.8 52.7M399.9 107.2L395.8 113.3M387.3 115.2L381.1 117.4M407.5 101.3L403.3 105.8M374.9 38.8L386.8 38.7M412.2 76.2L413.2 85M407.1 97.7L405.2 99.9M392.8 45.9L402.3 50.9M403.8 57L410 61.7M361.3 116.2L357.3 115.2M387.6 42.4L393.9 44.5M366.9 118.5L364.3 117.9M401.7 106.8L396.7 107M351.4 111.8L343.2 103.6M332 83.6L331.9 74.7M352.1 111.2L349.6 108.8M381.2 42L383.3 40.6M405.4 99.9L404.3 109.5M359 46.4L365.4 37.5M337.9 93.3L329.6 84.8M353.9 44.6L356.5 43.6M333.1 88.2L335.7 84.9M347.3 48.9L352.4 44.7M336.7 98.4L332.8 89.4M409.5 81.5L412.9 86.8M392 112.7L382.7 116.6M350 112.7L347.1 110.1M362.6 40.4L369 38.9M342.5 104.6L338.5 98.6M407.2 94.8L401.9 104.7M385.5 115.6L374.7 118.6M336.4 93.8L333.6 89.4M382.1 120L379.3 119.8M409.2 70.5L411.7 75.4M404.8 102.3L400.7 107.8M340 56.2L348.3 50.4M361.4 43.2L369.2 37.4M382.6 39.1L391.3 41M384.7 42.4L388.2 48.5M382.7 41.5L387.1 41.6M392.5 115.3L388.9 116.7M412 70.5L410 81.6M372.3 40L381.7 43M369.4 39.1L378.1 38.8M413.5 75.1L410.6 79.1M374.1 38.2L380 38.9M351.8 112.3L346.6 110.5M407.1 59.9L409.4 64.7M412.2 69.6L412 77.3M348 108.1L343.2 104.5M337.5 73.2L331.8 67.5M411.2 82.7L411.2 85.3M384 118.8L375.3 118M362.8 43.5L364.3 41.3M412.5 84.6L409.9 93.7M360.1 41.2L367.2 42.7M405.2 56.7L407.2 61.2M393.6 114.5L391.3 113.9M384.8 44.2L388.2 44.9M394.8 112.7L386.9 114.8M335.4 96.2L335.3 89.6M410.6 65.2L411.9 75.6M395.9 108.7L390.5 113.5M404.8 53.5L409.6 64.1M390.5 112.3L387.8 113.4M347.9 46.4L357.8 44.5M337.4 59.5L345.2 53.6M406.2 101.6L402.6 105.9M390.7 114.2L389.3 115.7M339.8 58.5L342.8 55.9M347.4 110.5L343.7 100.7M333.2 87.4L332.9 81.1M337.2 59.4L343.2 50.6M363.5 121.2L356.6 116.5M349.3 113.6L347.1 104.2M412.4 82.7L412.4 88.7M409 76.7L412.8 85.7M393.6 46.5L395.1 49.2M401.1 106.6L399.7 110.4M335.9 92.9L332.1 82.1M339.5 101.7L337.4 93.8M333.7 79.2L335.9 76.5M361.2 39L373.6 39.9M412.8 85.9L413.3 90.4M367.8 115.8L356.7 114.3M382.3 40.7L393.5 44.4M414 81.7L410.9 93.1M334.9 90.6L331.6 85.5M410.2 60.5L410.9 71.4M399.8 102.8L398.2 110.7M391.2 40.8L394.9 46.6M371 39.5L382.6 40M406.8 62L408.7 70.3M353.7 44L358.3 42.6M409.3 100.8L404.6 100.5M333.6 83.2L339.9 80.4M347.2 113.7L345.2 109.9M330.4 76.5L335.4 72.7M356.3 42.4L364 41.6M337.4 94.1L334.6 89.9M361.9 114.7L350.5 112.3M347.2 48.9L353.7 45.5M372.5 40.1L382.9 41.6M337 92.7L334 89.7M403 53L409.2 61.7M367 117.7L362.7 116.6M337.6 56.4L346.6 51M331.8 76.8L334.6 73.3M356.5 112.4L347.9 106.3M370.7 38L375.3 39.2M387 40L388.1 44.9M411.7 64.7L410.6 71.1M333.2 80L335.8 74.7M395.4 43.7L396.5 45.7M409.6 67L413.3 76.5M405.6 97.7L400 105.4M401.3 107.9L398.7 112.8M404.1 102.7L399.9 102.7M388.1 118.8L377 115.7M398.8 52.1L404.2 55.2M408.4 71.3L412.3 72.9M335.9 96.2L333.9 84.7M370.6 38.7L378 41.6M397.2 52.2L405.6 57.5M413.7 87.5L409.9 93.2M366.6 119.1L365.3 117M394.4 113.5L390.2 115.5M340.5 102.3L339.9 100.6M354.4 115.2L351.6 110.6M403.4 53.5L407.5 60.9M397 50.2L399.4 50.1M411.5 87.6L409.8 94.9M367.9 38.9L378.4 37.2M409.8 65.2L412.1 74.9M359.1 42.2L361.9 45.4M340.1 102.2L337.7 93M360 114.9L353.5 112.6M339.5 52.5L349 47.7M367.9 121.7L363.2 118.5M332.3 81.7L335 74.4M391.2 116.4L379 117.4M341.1 106.5L338.7 98.5M396.8 110.6L391 115.3M371.6 121.1L369.1 121.2M346 46.2L348.3 43.9M349 45.1L357.3 40.4M394.2 44L394.8 47.6M381.1 42.5L391.2 43.4M412.2 89.6L409.1 95.6M374.2 40.2L378.6 40.5M409.2 59.5L409.2 70.3M406 63.6L412 73.4M335.9 60.5L342.9 51.9M375.8 40L378.7 36.9M371.6 38.8L373.6 36.5M335 73.8L335.3 63.8M348.9 44.1L352 45.3M408.9 96.5L406.2 98M350.1 109.3L342 103.2M404.3 52L409.1 58.1M383.1 115.3L372.9 118.5M404.5 102.3L399.9 108.2M374.5 40.6L384.3 42.4M364.9 117.2L359 116.4M385.2 116.4L378.5 116.8M335.6 62.2L343.5 55.4M407.2 99.4L401.4 106.2M410.3 83.8L411.6 90.3M353.4 46.7L360.5 41.8M411.5 73L415.4 82.2M334.6 88.7L331.2 85.5M382 40.7L384.9 39.5M339.1 100.5L336.8 94.5M402.2 54.3L408.8 62.9M411.4 66.1L412.7 73.7M406.3 52.7L406.2 60.3M361.2 120.4L355.7 115.9M334.3 68.1L336.9 61.7M363.2 116.8L360.3 115.2M409.6 75.3L413.3 87M369 121.5L361.8 118M410.5 89L407.9 97M339 98L335.5 96.3M334.8 86L330.5 79.8M361.7 41L367.2 39.7M355.8 46.2L359.8 41.8M413.9 82.2L411.3 86.7M407.7 60.2L408.1 64.1M333.8 87.7L332.2 81.6M397.6 109.8L388.7 109.3M402 105.6L396.8 97.3M411.7 72L409.2 69.5M373.3 118.6L376.4 114.2M404.3 102.8L401.8 96.9M390 43.4L385.4 43.3M336.2 94.4L341.1 93.9M374.2 118.6L383 115.8M382.2 40.6L383.9 45.5M333.1 79.7L337 88.3M409.6 93.5L409.3 89.5M338.8 99.4L340.6 92M398.1 109.3L389.6 109.6M334.2 69.8L339.9 66.9M335.1 66.4L342.1 61.2M333.9 87L334.8 79.5M408.4 96.2L404 99.3" stroke="#4a2896" stroke-width="0.6" stroke-opacity="0.68" fill="none"/><path d="M340.6 97.9L332.2 89.5M339.9 56.7L341.7 48.7M405.2 98.2L398.8 106.9M361.2 39.2L366.3 38.5M400.5 53.5L404.9 59.1M374.8 41L383 39.7M347.6 110.2L342.8 102.3M336.3 69.6L336.2 64.5M407.9 58.3L408.5 61.8M410.6 67.8L411.7 75.6M372.3 40.6L377.1 38.7M340.8 56L346.9 49.9M412.1 77.6L411.5 84M375.5 117.9L367.2 119.7M337.6 57.5L345.9 53.1M346.6 110.2L343.8 102.3M360 45.8L367.9 40M340.2 57.6L342.7 53.7M388.3 114.4L386.2 117.3M388.6 115.1L382.3 119.9M375 117.5L363.2 119M395.4 113.1L388.8 115.6M410.6 76L411.1 83.8M351.5 42.8L360.4 43.6M386 42.2L388.5 44.2M354.7 115.5L346.4 108.3M365.2 38.1L373.4 38.9M338.7 101.4L339.8 94.1M401.5 50.4L409.3 58.7M371.1 118.6L366.6 115.3M402.8 104.7L398.7 105.7M344.7 51L350.1 52.2M385.3 116.5L386.8 112.7M340.2 56.4L348.3 59.4M389.8 43.3L383.4 49M370.3 39.5L367.1 42.6M336.1 94.2L336.7 87.5M348 110L357 112.8M346.6 49.2L346.6 54.6M412.3 80.8L408.9 84.3M412 73.8L404.7 69.3" stroke="#5060c0" stroke-width="0.6" stroke-opacity="0.68" fill="none"/><path d="M408.9 75.4L414.1 80.5M376.7 117.1L374.3 116.5M403.5 105.5L395.6 113.5M378.7 38.8L384.3 39.8M345 50.1L354.4 44.9M349.4 53.3L354.4 44.7M392.8 114.6L382.7 117.6M361.5 38.7L372.1 38.6M353.5 113.2L353.3 110M342.5 107L337.1 102.8M335 71L336.5 62M399.2 49.5L403.1 55.8M371.3 39.9L381.7 37.4M346 111.6L339.2 102M408.8 60.7L413 66.1M336.2 90.1L334.5 82.3M410.2 60.6L406.9 67.7M365.2 38.6L368.9 37.5M342.2 103.5L339.3 101.1M340.9 54.1L345.2 49.7M398.4 45.9L403.9 57M408.1 69.5L413.3 70.3M363.2 44.4L364 41.3M410.3 93.3L404.3 100.6M335.8 67.5L336.1 64.4M352.3 113.6L344.2 109.6M335.2 89.1L336.6 80.3M383.8 117.8L382 117.8M335.6 59.9L342.1 52.8M346.4 105.5L337.6 101.7M381.4 40.5L388.4 41.3M331.9 82.9L334.7 72.8M368.2 117.8L362.5 116.5M383.4 41.6L389.1 40.6M334.9 66.5L338 59.8M408.1 67.9L413.4 77.6M414.5 78.6L414 80.3M400.9 48.4L403.1 51.9M401.8 105.9L393.7 110.3M389.1 113.4L379.8 118.1M405.5 102.7L402.2 103.8M370.8 40.3L380 35.7M372.2 114.6L363.3 117.3M389.1 117.2L382.4 118.8M350.1 112.2L341.7 104.5M386.3 112.6L386 118.8M411.3 90.1L411.3 102.4M361.5 113.4L360.2 112.6M357.4 42.9L363.9 39.1M410.2 67.1L410.1 74.3M347.5 48.8L351.7 41.3M375.1 119.6L372.1 119.7M395.4 48L400.5 50.4M378.8 118.5L373.6 116.7M335.2 63.9L337 61.8M405.2 57.2L411.1 65.5M347.5 107.1L343.8 107.1M408.5 63.3L410.4 66.6M384.8 43.3L391.2 43.4M399.3 48.1L400.4 49.3M365.2 39.9L372.2 39.3M346.9 107.6L343.3 108.8M412.4 84.7L408.4 89M340.9 97.8L337.3 92.4M364.1 37.7L372.2 37.9M332 81.9L333.6 79.3M332.9 77.2L333.3 70.1M354.8 42.4L364.9 41.5M395.9 42.4L402.6 51.8M379.7 40.6L386.7 42.6M355.6 114L346.3 107M408.8 102.9L402.3 107.1M335 74.5L334 68M405.6 101.1L399 99.3M378.6 39.8L372.2 47.4M367.2 39.8L370.5 40.2M405.4 56.7L402.4 56M343.4 52.4L346.5 50.5M382.2 117.4L375.7 111.9M351.4 112.4L352.9 107M334.7 67.9L338.9 71.4M333.3 83.1L335.5 85.3M359.8 116.4L355.4 111.7M402.9 104.6L407.1 95.6M384 41.1L385.2 45.3M385.8 41.6L376.3 41.2M336.2 63.8L341.7 58.1M361.6 41L359.2 45M355.7 114.7L353.4 111.1" stroke="#c8303f" stroke-width="0.6" stroke-opacity="0.68" fill="none"/><path d="M332.5 81.9L331.6 70.1M335.4 85.8L333.8 80M370.2 118.1L368.1 116M379.2 114L370.4 117.2M412.7 74.6L413 82.9M412.1 63.1L413.7 74M368.1 39.8L374.8 41.1M394.5 114.3L388.6 112.9M349.7 48.8L353 44.5M412.6 71.8L411.9 80.9M415.1 72.5L411.7 79.5M406 100.1L403.4 101.8M414 72.7L412.3 79.6M402.5 99.9L401.6 105.9M343.6 106.4L337.4 99.7" stroke="#4f8a40" stroke-width="0.6" stroke-opacity="0.68" fill="none"/>
<path d="M375.7 97.6h0.8M381.9 67.9h0.8M397.5 97.9h0.8M363.2 63.6h0.8M346.6 89.6h0.8M371.2 55.7h0.8M394.3 73.4h0.8M387 91.1h0.8M388.6 84.8h0.8M353.5 53h0.8M387.2 82.4h0.8M351.3 101.4h0.8M359.9 87.5h0.8M384.9 84.9h0.8M377.7 79.3h0.8M360 102.2h0.8M356.2 83.3h0.8M374.1 105.7h0.8M366.9 68.4h0.8M382.9 64.4h0.8M396.6 76.4h0.8" stroke="#7080c8" stroke-width="0.8" stroke-opacity="0.6"/>
<circle cx="479.4" cy="78.4" r="29.6" fill="none" stroke="#5a3ea8" stroke-width="3" stroke-opacity="0.6"/><path d="M458.5 97.2L453.1 94.8M506.7 78.3L506.4 85.2M466.8 53.1L467.6 50.1M451.8 77.8L451.1 72.5M489.8 50.2L492.6 54.2M488.5 49.7L490.9 53.3M453.5 77.3L451.1 71.2M453.3 97.5L450 87.2M488.2 50.4L491.5 50.9M495.3 55.8L498.7 59.2M460 57.3L468.6 53.4M505 91.2L500.7 99.4M477.8 108.9L472.7 104.2M488.8 104.5L485 107.6M449.2 82.1L446.4 76.2M486.9 51.8L491.4 53.4M497.5 102.9L494.6 104.9M485.5 107.6L478.5 109.3M452.7 93.8L448 86.9M455.8 101.8L451.8 93.9M497.5 59.4L503.1 62M449.7 82.7L448.2 73.2M446.2 80.1L448.6 72.6M512.8 81.9L507.3 84.9M447.9 78.1L449.9 71.5M508.7 62.9L506.9 67.5M490.6 108.7L485.3 106.4M493.7 106.8L490.6 103.7M456.3 58.9L463.2 51.1M457.2 95.4L451.7 88.9M504.7 97.9L498.3 104.3M459.9 94.9L451.5 88.9M457.3 100.9L455.9 95.7M483.1 106.7L481.3 109.3M495.8 102.9L487.6 109.4M502 60.3L506.8 69M453.6 96.1L449 88.6M508.6 68.3L506.3 74.9M489.1 51.1L492.9 51.8M450.1 78.4L452 68.5M450.1 83.3L450 73.7M479.5 109L475 107.1M488.6 104.8L481.7 106.3M503.6 89.8L506.5 94.6M480.5 107.9L471.9 105.7M506 66.2L510.5 74.4M470 105L464.7 102.6M478.6 109.6L470 103.9M470.1 50.2L480.6 46.6M456.1 64.6L455.5 61.7M450.9 74.5L454.5 67.4M452.6 67.7L452.7 65.8M487.3 49.2L495.7 55.2M506.1 90.2L504.2 94.4M504.5 62.7L505.6 72.1M492.3 51.3L500.8 57.2M481.5 110.1L473.7 109M489.6 104.1L488.3 108.2M492.8 103.3L486 107.2M502.7 63.7L508.2 63.1M486.2 109.1L477.6 108.9M494.3 103.5L489.3 107.7M451.4 86L451.2 83.6M505.5 71.1L508.3 77M471.6 103.7L468.4 108.4M473.7 107.4L464.8 107M482.6 109.1L476.3 106.5M505 97.7L497 99.3M451.8 88.8L448.4 79.7M447.3 71L454.7 65.8M506.4 68.3L510.9 68.9M453.5 72L455.2 64.4M454.8 96.1L452.6 87.3M454.1 95.9L451.7 91.1M468.2 54L474.1 52.3M460.2 102.6L459.4 97.5M461.6 94.6L453.8 93.4M467.3 50.8L468.7 49.9M453.1 87.5L450 84.4M501.3 93.4L498.7 96.6M500.9 60.3L502.3 62.6M449.3 79.3L454.2 72.5M452.3 91.4L450.2 90.7M477.8 105.9L467.4 107.9M506.8 89.9L501.5 96.4M481.8 108.8L472.6 107.3M502.1 101.6L497.2 98.6M496.4 100L488.2 102M487.8 107.7L478.9 106M451.7 67.4L456.4 60.4M449.5 80.5L450.7 78.1M505.2 90.6L503.8 94.9M445.6 73.5L450.5 65M503.5 58.8L502.7 62.5M469.7 108.2L466.3 109.1M485.4 108.3L480.2 109.4M451.2 80.8L452.7 73.2M481 106.8L478 113.8M482.3 50.1L485.5 45.6M457.7 61.5L459.1 57M450.8 86.5L449 84.2M507.5 88.8L509.2 92M487.1 53.8L490.5 52.6M480.5 49.5L489.5 52.1M507 85.8L503.5 93.8M484.9 106.8L475 108M499.8 95.1L494.9 104.6M452.2 67.5L454.4 64.6M510.9 83.9L505.8 87.4M452 82.3L449.6 80.8M487.1 51.2L491.7 52.5M497.2 57.9L503.3 59M511.7 84.5L508.1 90.4M506.7 88.5L505.1 91.4M499.4 101.8L490.9 105.1M486.3 46.1L495.5 52.3M462 55.2L462.5 52M452.4 65L453.2 61.3M463.6 51L470.7 51.6M460.6 98.5L454.2 90.9M488.1 50L494.2 49.1M501.9 62.3L505.2 71.3M449.5 86L448.4 79.4M506.9 75.2L509.4 76.4M471.4 47.6L475.3 50.4M454.3 62.7L461.2 55.6M493 109.7L489.2 105.9M481 108.7L473.9 110.6M483.8 107.1L473.7 111.1M494.4 104.8L489 107.2M449.3 71.9L451.3 67M454.9 68.2L455.8 65.9M481.2 106.8L470.9 107.4M500.7 99L495.3 103.9M448.8 86L450.6 77M453.3 86.9L450 79.6M455.6 62.2L460.9 55.2M461.1 99.7L452.1 93.4M500.4 63.2L507.4 63.4M479.4 47.5L485.5 52M506.9 75.6L503.9 80.9M508 76.9L510.4 86M452.8 90.8L450.9 88.1M453.2 66L458.4 56.9M494.3 106.2L488.4 110.9M451.5 83.9L448.5 82.8M470.1 103.2L465.8 105.5M476.1 106.7L471.1 107M487.1 47.8L490.2 52M468.5 47.9L475.8 49.8M486.8 49.3L488.6 49.9M496.1 103.9L494.1 104.2M461.2 53.6L468.2 52.2M479.5 48.6L483.5 45.7M503.6 61.7L502.5 66.5M469.4 47.7L480 48.9M456.2 97.6L452.1 96.3M470 51.4L474.1 47.3M502 98.3L496.6 100.5M502.8 60.7L509.4 67.4M498.7 100.8L493.6 106.9M488 109.6L484.9 107.2M505.4 95.5L498.3 102M479.7 108.6L477.9 108.8M501.9 60.5L505.7 68.7M508.9 71.3L509.6 79.3M456.8 97.9L452.4 88.9M479.8 106.7L473.8 106.1M491.8 53L498.6 55.9M499.6 59.2L501.7 62.2M456.1 97.8L453.6 96.8M459 103L452.7 94.2M502.6 97.7L498 101.1M476 45.6L481.3 49.8M464.6 105.1L456.2 99.3M451.1 85.5L450.5 83.8M458.3 58.9L458.7 57.3M460.7 102.4L459.4 98.9M484.7 50.2L487.3 53M477.9 107.5L468.4 105.6M451.7 85.1L449.5 80.9M492.8 52.7L497.8 54.2M506.9 92.8L502.8 96.4M498.3 54L497.4 62.1M488.5 52.7L496.5 57.4M463.7 105.8L458.2 97.3M480 48.2L482.4 49M452.4 88.1L450.3 83.5M468.3 106L465.2 105.5M494 106.1L486 106.9M461.4 55.7L468.8 51.1M507.2 63.4L508.6 73.7M505.8 90.4L504.2 94M499.6 99.6L498.4 100.9M452 91.2L451 88.2M448.7 92.8L453.2 85.2M486.7 52.3L491.5 51M449.8 74L448.3 67.9M458.1 99.2L451.4 93.2M470.5 46.9L476.5 50.5M459.2 102.2L454.3 94.8M502.6 94L500.4 100M478.6 106L469.2 105.5M482.9 107.7L472.1 109.7M448.6 76.3L450.1 70.5M453.7 83.8L449.5 77.9M503.7 62.8L506.5 64.7M452.5 94.5L451 87.2M505.5 77.9L507.6 79.2M508.9 85.8L506.2 91.8M485.7 107.8L477.8 111.7M454.5 95.2L451.2 85.7M470.4 107L463.1 103.3M457.4 99.4L453.7 95.5M510.2 72.9L507.8 78.3M487.8 107.6L479.6 109.8M459.5 100.4L451.9 93.1M478.9 105.3L472 107.3M454.8 64.3L460.4 60.5M454.2 66.6L460.2 58.9M452.5 88.4L454.4 78.5M499.5 101L498.6 102.7M476.9 48.6L486.4 49M496.5 104.9L493.8 103.3M502.1 60.4L508 58.7M504.9 80L510.4 83.8M510.4 69.5L505.3 73.3M499 96L498.1 97.9M450 84.2L451 76.5M490.9 54.6L494.1 52.9M451.4 83.4L450.3 75.2M500.3 98.6L497.1 102.8M448.8 80.5L449.9 78M475.1 106.2L468.6 104.2M497 97.4L494.2 100M451.4 88.1L450.2 86.2M461.1 99.6L457.5 96.2M497.6 101.3L489.3 108.8M451.7 95.3L455.2 88.2M510.8 88L506.7 93.9M455 99.9L453.5 91.9M481.1 108.9L471.8 106.3M471.1 45.4L482.8 46.2M466.4 106.4L463 109.3M507.7 88L507.5 89.9M456.3 64L452.4 59.2M509.2 75.7L509.7 82.8M451.2 67.4L454.5 63.8M499.8 103.6L497.3 103.6M508.9 86.5L505.9 92.2M454.2 92.7L454.1 90.1M505.7 96.5L500.4 97.3M505.2 63.2L508.7 66.4M509.6 62.4L504.6 68.3M506.5 69.6L506.2 71.3M491.7 105.9L487.4 108M470.1 49.2L474.8 50.5M491.2 103.3L488.6 106.3M466.3 102.8L458.7 99.8M504.5 91.2L505 93.2M512.4 80L512.1 81.7M457.4 58.7L458.3 52.7M488.8 49.6L495 52.2M509.5 74.3L508.8 80.8M458.7 99.5L455.9 93.4M498.8 56L492 58.9M483 49L486.1 54.7M450.7 85.8L455.1 80.7M450.6 71.4L450.8 74.1M457.4 98.3L457.5 95.8M499.6 100.1L498.4 93.7M493.2 104.6L491 103.1M507.9 86.3L505.4 86.4M466.9 51.6L465.7 53.9M466.7 105.2L462.5 99.5M450 74.9L456.3 72.2M505.1 63.6L503.7 66.2" stroke="#4a2896" stroke-width="0.6" stroke-opacity="0.74" fill="none"/><path d="M465.1 50.7L473.4 50.6M456.5 99.7L455.3 91M497.7 57.4L503 57.8M450.8 78.2L450.8 70.4M464.4 50L470.1 55.1M479.5 106.2L477.6 106.9M454.8 92.4L451.3 86.5M483.4 105.6L479.9 106M476.2 45.2L487.5 47.9M478.1 48.2L488.4 47.5M505.1 57.9L505.2 61.6M452.1 93L449.6 87.6M491.9 51.6L496.5 59M507.7 92.3L502 102M505.2 64.1L507.8 72.5M451.6 67.1L455.7 57.2M497.6 55L500.9 60.5M495.3 53L504 59.1M505.1 67.6L508.8 71.5M481.5 49.5L483.1 48.8M509.8 81.5L506.9 88.8M454.9 96.1L455.3 93.6M461.4 60.5L463.7 55.4M499.8 55.9L500.9 57.6M482.7 50.7L492.5 50.1M505.6 85.4L507 92.4M498.6 55.7L504.4 61.5M511 76L509.2 80.8M453.1 95.5L453.2 90.1M450.6 67.6L454.9 57.3M501.2 93.3L496.2 100.1M464.1 56L463.6 50.8M500.7 97.9L497.9 100.5M493 50.9L494.4 52.2M456 60.2L464.6 57.6M504.4 85.2L507.6 91.9M500.6 97.9L498.6 100.2M504.3 94L501.7 96M459.3 100.6L454.6 97.2M456.1 61L457.1 59M491.8 51.9L496.8 53.9M470.1 103.5L463.4 104.4M469.1 107.4L466.1 106.6M450.2 83.1L453.5 85.4M502.9 96.3L504.2 88.9M507.8 69.9L502.8 65.6M450.8 86.2L455.7 90.4M492 51.6L484.6 52.9M457.4 98.2L458.1 93.4M504 94.9L499.4 94.4M508 85.9L506.2 83.8" stroke="#5060c0" stroke-width="0.6" stroke-opacity="0.74" fill="none"/><path d="M508 90.6L500.3 94.7M502.6 60.5L505.1 69.4M506 94.3L497.6 99.1M461.1 56.1L462.4 53.7M452 80L450 73.2M468.2 52.8L472 52.9M465 102.6L462 98.1M506.9 80.7L504.5 90.3M464.1 51.9L470 50.2M453.8 91.8L452.4 85.7M494 53.7L498.4 56.2M484.2 48.2L490.8 50.7M505.9 71.2L509.6 77.9M460.5 102.7L456.1 94.9M448.5 87.2L452.2 81.9M494.2 51.5L497.1 58.2M501.2 100.5L498.5 103.4M485.2 104.5L475.2 109.3M448.7 81.5L450.6 75.1M483.4 48.5L489.1 52.8M451.9 86.8L449.3 83.1M482.5 45.1L487.9 49.4M485.1 51.6L491.2 56.9M504.5 60.1L511.1 62.8M491.9 52.2L500.5 57.2M485.4 104.3L478.5 107.8M509.1 95.1L502.8 97.8M504.2 63.2L509.7 72.1M475.7 108L472.6 106.4M482.4 51.1L489.7 52.4M508.7 89.7L505.8 95.7M474.2 50.5L483.3 48.7M463.7 52L469.4 48.2M471.1 105.5L467.6 107.3M499 102.4L494.8 100.7M451.1 73L448.8 70.4M508.9 80.7L507.2 88.9M501.9 61.4L504.8 64.1M448.6 89.5L450.3 79.3M466.2 104.8L459.6 102.9M448.5 68.6L453.1 64.1M487.2 108.8L476.5 106.8M458.3 54.8L461.6 52.1M506.8 65.8L508.1 67.6M452.2 88.2L449.1 81.1M502.8 59.5L507.2 68.9M483.4 48.9L485.2 48.6M475.8 48.6L486.1 49.6M491.3 50.7L493.9 51.2M476.3 47.1L485.1 47.2M451 79.2L450.7 73.6M506.3 70.4L509.1 73.5M507.4 71.3L508.4 81M450 70.5L451.9 66.9M489.7 49.9L497.1 54M450 85.9L453.3 78.3M457.5 93.5L448.4 88.8M477.6 50.1L482 49.3M453.7 72.9L448.4 70M492.8 102.5L489.9 104.4M504.1 59.4L502.4 63.4M470.8 49.7L478.3 50.1M458.4 97.6L452.3 93.5M509 86.2L506.9 92.6M457.2 100.6L456.1 97.4M477.3 50.5L481.2 46.8M448.4 78.8L451.4 71.6M500.9 58.1L503.6 63.6M449.8 79.4L452.5 78.6M450.2 83.4L452.3 79.7M449.8 79.8L451 74.4M486.8 49.7L488.1 51.8M500.5 99.1L501.7 92.8M490.6 51L486.7 52.7M496.7 54.4L497.9 61.6M475.9 49L479.7 50.8M450.6 71.6L456 70.2M500.5 99.2L500.1 96.4" stroke="#c8303f" stroke-width="0.6" stroke-opacity="0.74" fill="none"/><path d="M489.3 51L497.7 54.1M503 60.7L505.3 69.5M474.6 49.9L483.1 50.9M467.3 105.4L463.3 102.2M490.9 106.2L481.9 107M468.1 104.1L462.5 102.2M471.4 106.7L466.4 104.5M454.7 94.1L453.2 85.6M464.8 104L459.8 101.8M461.3 98.6L454.4 96M470.7 105.3L467.5 103.6M449.2 80.5L451.1 71.7M509.1 88.6L505.8 92.8M501.8 65.1L510.3 70.9M485.9 106.4L483.6 111M473.6 106.8L469.6 107.5M451.3 65.7L456.9 60.5M447.8 75.1L450.3 72.9M507.9 75.5L509.4 80.1M480.3 50.8L489.4 48.3M462.5 55.3L467.9 51.6M465.4 52.8L474.5 48.4M484.8 109.7L477.7 105.3M456.8 99.6L453.6 96.8M448.1 76.9L451.9 71.2M481 47.4L483.2 45" stroke="#4f8a40" stroke-width="0.6" stroke-opacity="0.74" fill="none"/>
<path d="M471.2 56.9h0.8M487.6 86.7h0.8M479.8 63h0.8M461 89.6h0.8M488.5 60.4h0.8M473.1 76.9h0.8M489.4 58.9h0.8M467.7 79.6h0.8M477.9 93.6h0.8M458.5 70.1h0.8M477.5 97.2h0.8M498.9 86.2h0.8M454.6 78.3h0.8M468.7 81h0.8M489 59.4h0.8" stroke="#7080c8" stroke-width="0.8" stroke-opacity="0.6"/>
<circle cx="586.1" cy="78.7" r="17" fill="none" stroke="#5a3ea8" stroke-width="3" stroke-opacity="0.65"/><path d="M574.4 75.8L571.1 71.3M600.4 67.6L601.6 71.5M597.3 66.2L602.4 71.6M594.9 65.1L597.6 64.5M569.5 74.1L572.4 66.9M570.7 68.6L576.2 69.7M573.9 87.8L569.1 84.9M589.9 59.6L594.3 67.2M594.7 91.3L588.1 96M590.9 89.8L584.9 94.1M605.6 78.2L604.7 84.1M598 85.1L598.3 91.7M586.1 96.1L579.7 94.7M602.3 82.9L599.8 85M598.3 89.7L596.2 97.9M568.3 86.9L563.2 79.6M584.8 95.7L581.6 96.5M594.7 65.6L597.6 65.5M573.8 64.2L576.7 64.6M600.5 91.8L597.3 96.2M600.3 64.6L603.3 73.3M596.6 93L590.1 93M576.2 63.7L578.8 64.7M591.4 64.2L593.8 66.5M571.3 68.8L577.1 65.2M602.5 84.9L597.7 87.1M577.1 90.9L573.4 89.4M587.7 96.7L585.8 96.4M598 84.7L596.2 89.1M601.5 82.9L599.4 87.1M582 62.2L588.1 61.3M596.9 88.2L595.8 92.1M584.4 92.7L580.5 93M579.5 94L577.7 94M569.3 82.9L567.6 78.2M597.4 87.9L598.7 91.4M595.3 66.2L598 70.5M599.1 69.6L602 71.6M581.6 96.3L575.7 91.5M587.3 93.4L584.6 97.5M578.8 61.5L583.7 63.9M592.2 61.7L596.5 66M602.5 83.7L597.2 89.2M599.6 64.3L603.5 71.7M598.2 65.6L603.9 71.7M573.5 67.5L575.2 63.5M573.6 90.1L570.3 85.3M567.3 71.5L565.5 68.3M599 64.2L599 73.3M573.5 87.4L571.3 83.2M605.8 84.2L597.7 89M603.2 90.9L597.4 92.1M582.1 59.2L589.2 59.4M572.7 85L571 79.1M578.8 93.7L576.9 93.4M604.5 80.5L603.8 83.1M571.1 83.2L571.2 75.7M568.8 71.2L573.2 70.9M592.7 92.1L589.9 94.9M589.6 98.3L581.2 97M600.5 70.3L605.6 77.1M604.2 70.4L602.6 79.4M584.6 63.7L588.8 59M572.3 75L573.3 74.3M572.7 67.5L574.9 64.6M570.3 77.2L573.4 73.3M578.6 62.9L583.8 60.4M581.6 63.6L584.9 63.2M565.2 84.3L568.1 79.3M568.7 90.1L571.4 85.8M569.5 73.8L573.4 70.7M569.8 82.6L569.8 75.1M602.1 82.1L600.7 84.4M593 63.2L595.8 62M569.3 88.2L569 84.3M601.9 80.6L602.7 83.3M599.1 88.4L592.9 92.8M567.8 79.8L569.4 72.7M583.6 62.8L586 62M602.4 73.7L602.3 77.5M601.1 70.3L603.1 75.9M569.8 82.8L567.6 75.9M593.8 94.8L585.4 95.9M598.7 68.8L601.5 69.7M595.4 92.5L590.7 95.6M567.6 79.8L566.3 78.4M597.3 64.5L600.5 70.4M583.8 60.2L585.4 62.2M569.1 74.6L568.2 72.2M598.6 73L602.3 76.7M574.5 88.2L569.3 83.1M575.8 93.8L574 89.7M602.5 85L599.1 88M572.5 84L569.4 78.4M580.4 93L576.2 96M590.6 62.9L597 64.3M596.6 87.6L597.8 92.1M579.4 68.5L578 62.7M569.7 72.2L571.8 69M578.7 90.7L570.5 89.7M572.9 85.4L568.6 82.7M570.9 73.8L570.8 70.8M576.6 67.7L579.3 61.8M597.4 89.7L597.1 94.5M594.1 92.7L586.9 97.1M603.2 79.4L601 86.1M590.7 61.7L593.4 61.8M575 91L571.6 92M574.2 92.8L570.5 89.5M574.2 86.2L571 83M601.6 86.7L598.1 93.3M575.8 94.4L575 92.3M573.4 82.6L570.6 78.9M578.2 62.2L582 65.2M597.2 97L589.3 96.3M582 60.1L589.1 64.4M583.4 92.3L579.9 93.1M599.7 91.8L592.2 92.6M572.6 66.2L579.7 67M585.2 94.7L579.8 97M573.4 91.2L570.9 90.8M576.8 92.8L574.9 88.3M574.6 64.3L580.1 65.8M604.7 75.3L603.6 82M572.7 71.9L576 71M573.1 88.1L568.7 86M603.6 80.1L600.8 83.5M596.7 66.4L601.1 68.9M582.3 64L589.9 62.5M600.8 84.4L598.8 87.9M571.6 70.8L574.2 69.3M573.2 91.3L568.3 84.5M602.2 75.7L603.7 79.6M595.2 66.7L599.4 67.9M579.8 96.7L575.6 97.8M588 63.4L592.9 63.2M598.7 70.5L602.4 70.6M597.3 64.6L599.2 66.2M575.2 88.2L568.8 88.3M574.7 64L582.4 61.4M582.7 60.8L588.8 59.8M586.9 65.9L590.4 63.6M570.6 79.1L571 77.7M568.1 78.8L567.6 73.6M608.9 82.3L603.3 88M569.8 68.3L574.1 66.5M576 65.7L578.5 63M582.9 92.6L575.7 91.7M601.4 76.5L605.4 80M566.3 78.8L570.7 75.3M591.6 62.8L595.5 69.9M604 75.6L603.6 81.7M601.6 76.4L598.7 78.4M567.8 79.1L570.9 74.2M573.6 66.1L579 62.6M603.2 74.6L602.4 80.9M567.9 83.5L572.7 76.5M568.7 80.5L571.3 77.8M590.7 92.3L585.2 91.9M582.2 63L584.1 63.6M582.6 95.6L573.9 94.6M570.6 72.2L573 71.1M564.8 82.4L569.5 80M591.6 62L595.1 65.9M571.4 77.2L571.8 70.8M591.8 64.9L594.2 64.9M590.2 92.5L587.7 100.5M573.3 65.7L577.5 64M583.4 94.6L578.5 95.8M588.8 98.4L584 94.8M601.9 86.5L597.5 88.6M595.8 63.9L600.6 69M584.2 61.2L585.7 59.5M579.2 63.4L582.4 62.8M569 84.5L572.5 76.8M580.7 98.1L579.1 90.9M570.5 89.7L571.9 80.6M571.8 68.3L572 65.8M581.8 96.7L580.3 91.3M580.3 66L584.4 58.7M596.7 89.8L591 94.8M573.5 81.8L568.3 77.3M599 88.4L600.6 93.2M577.4 66.9L579 64.3M578.3 93.5L574.9 90.5M568.1 75.9L571.5 73.9M570.4 69.2L575.7 66.1M576.9 66.9L575.3 62.2M569 85.6L570.9 78.7M601.5 78L602.9 83.7M574.7 66.4L580.2 63.5M590.5 65.1L593.2 62.6M575.2 89.4L571.2 86.5M586.7 66.3L592.3 61.2M600.1 86.6L600.5 93.6M566.7 88.3L568.5 80.3M599.7 79.9L602.9 89M579.6 61.4L582.2 60.9M574.1 62.7L577.8 61.6M592.6 61.9L596.7 68M577.5 92.4L573.8 93.1M570.2 82.9L566.2 77.3M571.9 72L575.8 65.2M599.1 65.4L602.5 66.5M600.6 92.2L595.5 95.9M572.3 65.2L580.2 64M571.5 71.9L569.7 67.1M592.4 68.4L597.6 68.8M580.7 95L573.3 91.8M602.3 71.5L601.6 78M595.5 65.3L596.1 66.3M572.8 80.1L568.1 76.9M583.7 93.5L578.5 92.4M598.1 90.3L596.2 92.4M570.2 71.5L571.6 64.1M569.7 70.9L569.7 68.8M595.6 65.1L597.6 66.2M566.1 81.6L569.4 76.7M600.2 90.3L596.5 92.1M585 61.6L589.6 62.3M601.6 78L603.8 79.5M573 69.1L572.3 64M585.9 95.2L577.9 93.9M604.9 72.9L601.8 75.4M568.8 78L575.6 74M595.4 63.9L597 65.2M572.2 85.2L570.1 79.1M578.8 63.4L576.8 68.4M599.4 68.1L595.8 67M601.9 72.5L602.5 77.5M599.6 89.1L597 84.5M581.8 95.1L585.8 94.5" stroke="#4a2896" stroke-width="0.6" stroke-opacity="0.78" fill="none"/><path d="M576.5 96.1L572.7 90.1M572.9 75.3L569.6 72.4M591.2 63L598.3 66.9M600.7 84.4L596.7 88.7M573.7 81.8L572.6 80.4M591.3 95.3L584 97.4M604.2 72.3L603.2 80.1M601.4 82.1L605.3 85.1M595.3 60.7L594.8 65.4M584.1 94.7L576.6 92M601.3 87.1L597.8 90M578.3 64.6L581.6 60.8M570 86.6L569.1 79.5M593.8 60L595.9 66.4M598.5 67.8L602.5 71.3M569.1 78.6L567.6 74.1M588.9 64.1L592.6 64.1M588.4 60.1L590.1 64M571.6 72.8L573.4 72.4M601.5 89.5L597.5 91.6M570.1 70.6L577.3 66.9M586 62.5L593.6 63.6M571.4 63.4L577.2 63.5M600.5 87.7L596.1 90.7M602.7 68L602.9 76.7M569.9 75.9L572.5 73.8M588.9 65L590 64.7M600.9 69.1L603.1 77.1M579.3 95.2L573.4 89.5M599.2 77.8L603.7 81.6M595.6 94.3L590.5 91.2M584.8 95.6L579.8 93.2M600.8 70.1L600.6 72.3M569.2 80.2L569.8 76.1" stroke="#5060c0" stroke-width="0.6" stroke-opacity="0.78" fill="none"/><path d="M594.9 66.6L596 67M604.7 84.5L604.5 87.8M575.5 67.8L576.8 66.4M569.6 85.3L568.5 79.7M567.8 84.1L570.1 78.5M587.4 97L580.5 94.9M587.7 63.9L592.8 63.2M591.5 95.1L583.4 94.9M580.6 95.4L579.2 93.7M572 83.4L568.9 81.2M592.7 60.9L594.1 61.9M571.9 84.3L566 81.8M567.9 71.7L573.6 66.7M580.7 63L585.6 64.5M572 67.8L577.5 69.2M602.2 72.2L600.9 74.3M566.2 81.5L567.1 78.4M572.3 86.4L569.7 83.7M592.1 98L589.1 98.5M600.5 82.7L599.8 91.1M592.9 93.8L591 92.8M570.9 87.5L568.9 81.7M606.7 85.5L601.3 86.6M600.1 67.5L603.8 71.4M569.9 80.1L568.1 78.3M584.1 96L576.4 92.4M592.1 93.5L589.8 93.1M595.1 64L597.6 71.2M577.7 90.2L573.9 90.6M573.7 62.9L578.4 62.7M601.6 87L598.7 91.6M569.3 84.8L572.8 81.4M597.1 65.1L601 66.8M596.1 94.4L592.9 92.2M599 69.6L604.2 71.6M581.2 97.3L579.4 91.7M572.3 68L578.8 66.3M571.5 91.9L571.2 84.5M598.9 78.8L602.5 82.6M570.7 86.4L568 84.7M575.2 92.7L571.6 89.6M570.8 70.1L573.2 66.4M603.4 77.5L600 85.1M568.6 81.4L569.1 76.2M583.8 62.9L589.9 61.8M595.7 89.4L594.2 89.5M598.7 87.4L595.8 97M575.6 70.5L578 61.8M591.9 61.2L594.8 66.2M585.7 62L594.2 62.2M597 65.8L602.1 66.5M600.5 71.8L601.5 77.4M601.4 71.2L603.3 75.3M569.3 75.9L572.3 69.4M582.9 61L591.1 61.2M574.7 90.2L570 86.6M598 91.7L591.2 97.2M574.1 86.7L572.8 85.9M589.7 95.2L584.1 96.1M589.3 94.5L584.6 95.2M573.8 68.7L574.8 65.6M594.8 93.7L593.6 96.5M582.4 61.6L588.4 59.9M589.3 62.1L596 62.7M584.2 92.3L580.9 94.3M600.7 88.4L599.5 92.2M577 91L570.3 87.5M569.2 84.3L568.1 77M606.4 81.2L603.1 85.7M581.6 95.6L579.5 93.1M595.8 92.7L593.4 91.1M596.5 65.2L598.2 69.9M596.7 65.4L592.5 65.8M577.9 63.8L576.2 67.9M574.5 66.3L577.5 65.3M576.4 64.7L573.4 69.3M582.2 62.2L586.1 62.6M600.9 87.1L600.3 82.8M580.8 62.6L579.8 65.4M602.5 83.4L599.3 81.1M577.7 63.9L576.6 68.9" stroke="#c8303f" stroke-width="0.6" stroke-opacity="0.78" fill="none"/><path d="M600.4 74.8L605.7 76.5M590.1 63.5L598.8 63.2M567.7 81.4L567.9 79M573.5 89.1L569.1 82.6M581.2 93.7L574.1 90.8M569.7 73.1L574.2 66.3M580.1 62.5L585.1 62.6M595.3 64.5L601.5 67M599.2 70.9L599.3 73.8M583.7 95.6L576.1 93.8M573.9 93.3L568.9 93.1" stroke="#4f8a40" stroke-width="0.6" stroke-opacity="0.78" fill="none"/>
<path d="M597.6 78.1h0.8M581.6 78.5h0.8M588.6 87.5h0.8M573 75.3h0.8M583.6 89.7h0.8M585 68h0.8M585.5 85.1h0.8M577.9 78h0.8M576.3 79h0.8" stroke="#7080c8" stroke-width="0.8" stroke-opacity="0.6"/>
<circle cx="691.6" cy="78.5" r="8.9" fill="none" stroke="#5a3ea8" stroke-width="3" stroke-opacity="0.65"/><path d="M685.7 72.6L690.5 71.4M699.6 70.4L697.7 73.4M685.2 78.3L684.4 75M699.8 80.8L695.5 80.1M699.5 74L697.6 78.2M699 79L702.1 81.5M684.4 86.2L685.8 83.7M696.4 74L700.1 75.4M691.1 68L692.5 69.4M687.1 87.6L686.4 85.5M698.9 77L701.7 78.7M697.7 72.3L702.3 75.1M684.3 75.1L683.5 70.9M701.5 80.9L697 84.7M691.7 72L692.7 69M697.6 84.3L692.5 85.7M697 73L699.7 74M699.8 74.9L698.2 76.3M693 73.5L695.8 73.2M694.9 88.4L691.7 84.1M686.1 81.9L680.4 77.5M698.8 76.2L699.9 77.9M689.2 67.1L693.7 70.6M695.1 90L692.9 86M695.6 72.2L699.2 69.9M688.6 73.8L688.6 68.7M692.2 71.9L698.6 69.5M691.7 88.1L690.1 86.2M695.9 86L691.9 88.4M701.4 74.5L699.6 78.7M695.1 87.7L690.9 89M699.6 85.3L693.9 83.9M696.6 86.6L697.1 89.9M699.9 75.5L697.8 78.3M686.8 71.2L687.8 70.3M693.9 74.3L697.2 73.3M693.3 85.9L691.4 86.4M691.7 71.4L696.4 68.6M692.3 69.7L693.8 69.8M697.4 74.6L700.9 75.3M688.8 67.2L690.8 70.5M693.4 74.9L699.3 73.2M692 70.1L693.7 70.2M691.5 69.6L698.4 68.9M696.6 70.9L700.1 74.6M692.3 66.8L697.2 70.3M686 83.8L680.8 83.4M686.4 82.9L683.2 81M695.7 71.1L699.3 75M697.2 75.5L702.7 74.7M695.7 86.8L691.8 87.4M696.2 90.3L689.4 86.6M685.1 79.6L684.8 78.9M689.5 67.8L693.6 66.9M698 84.8L698.9 87.6M696.7 72.4L699.9 74M682 76.3L681.1 72M684 78.6L683.4 72.6M697.7 81.2L698.6 83.8M692.2 69.4L695.7 73.1M700.2 74.9L702.1 76.2M700.6 76.5L701 80.6M687 81.2L680.2 78.8M690 66.8L691.3 70.8M689.6 67.9L693 72.1M686.6 73.1L688.9 70.6M691.6 71.4L696.8 69.4M684.3 80.1L682.3 76.1M684.4 83.3L681.7 80.1M685.2 84.4L683.2 81.8M694.2 73.5L698.9 71.5M683.3 81.4L680.8 76.5M685.3 76.1L685.3 71.3M682.8 83.3L684.4 80.7M698.2 78.5L696.8 80.1M683.4 73.9L688.1 70.4M696.8 73.9L697.3 76.5M694.6 72.9L698.9 74.6M682.1 81.1L684.7 78.1M690 72.6L693.5 71.7M695 71.1L696.7 73.3M686.2 71.6L688.6 70.3M682.9 79.8L680.7 75.6M685.4 81.7L681.6 77.8M688.3 85.3L685.6 82.4M686.4 70.7L690.5 69.7M691.3 86.2L688.4 86.2M683 81.8L683 77.6M689.9 86.7L685.6 83.5M696.4 86.5L693 87.6M693.1 72.9L696 69.8M683.2 83.3L683.9 78M693.1 67.8L694.9 69.8M689.9 82.3L686.8 86.8M699.3 78L702 82.8M702.9 75L700.2 79.9M696 88.5L692.9 88M696.3 75L701.5 77.1M697.3 78.6L698.5 83M690.6 87.3L685.5 86.8M681.5 77.5L679.8 75.9M682.9 69.4L688.3 70.6M692.2 67.1L696 70.8M697.9 70.9L700.1 73.6M684.2 80.1L681.4 78.4M690.3 87.4L687.1 85.4M697.4 73.4L699.2 75.7M681.1 71.4L688.4 70.1M686.8 83.7L682.8 81M700.6 80.9L700 84.1M684.8 75.3L687.1 71.6M686 76.7L685.6 75M685.2 72.6L689.1 68.6M686.8 67L691.9 66.4M696.1 76.1L701.2 75.3M691.3 69.1L695.1 68.1M697.1 77.9L698.2 81.5M692.6 73.4L694.4 69.4M683.2 80.9L683.5 76.8M690.4 84.1L688.6 86.8M680.5 81L681.4 77.6M687.3 86.2L684.3 82.6M691.9 69.8L694.1 72.1M690.9 70.1L693.1 68.7M696.8 84.1L692.2 87.5M696 75.6L698.5 75.3M694.1 66.9L697.9 72.8M697.8 76.2L700.9 81.3M684.3 83.4L686.6 79.9M684.7 84.5L682.2 82.1M691.8 68.8L695.8 69.8M692.5 86.9L690.2 87.7M685.2 85L685.8 81.7M689.1 71.4L693.5 69.6M699 80.1L699.1 83.1M685.4 73.4L688.5 71.9M696.6 78.2L697.7 79.8M699.7 75.9L697.1 77.4M685.2 76.4L684.9 75.3M699.5 80L698.7 86.4M688.1 65.4L689.9 68.3M693.3 87.3L692.4 87.6M695.4 84.2L691.2 89M699.5 84.3L698.2 86.4M695 70.9L698.7 72.8M693.2 71.8L696.8 70.8M688.9 67.3L693 69.4M687.4 87.9L686 85.5M701.7 81.5L697.4 86.9M680.8 77.7L684.4 74.9M686.1 73.1L689.8 71.9M701.1 77L701.5 81.1M699 81.3L698.2 83M700.9 72.3L701.6 79.3M691.4 83.2L686.6 87.3M697.5 77.4L700.4 78.7M698.6 85.6L697.8 87.4M683.1 73.6L686.8 72.9M697.9 85.8L691.8 86M684.6 79.7L680.2 75.3M694 72.6L699.3 73M683.2 69.6L687.9 70M681.6 77.8L683.4 76.6M685.2 82.3L683.2 78.3M699.1 75.3L698.2 80.2M687.9 75.6L684.4 71.1M696 88.7L692.2 85.2M694.9 71.8L698 75.3M688.5 81.7L684.8 79.4M686.3 71L688.4 69.6M678.4 81.9L681.7 75.4M694.2 86.1L692.1 85.1M701.5 74L700.7 75.4M695.3 70.3L698.1 72.8M688.8 89.5L688.2 86.8M685.4 74.1L684.8 72.3M687.6 76.1L688.9 71.5M693.2 71.8L694.8 70.1M682.7 78.6L684.3 77.2M684.4 83.8L686.6 84.3M689.2 87.1L685.8 84.7M700.5 78.5L699.8 81" stroke="#4a2896" stroke-width="0.6" stroke-opacity="0.78" fill="none"/><path d="M686.4 73.1L688.8 69.2M697.4 71.7L699.7 76.1M698.8 83.5L696.1 87.1M698.9 78.2L702.1 79.9M690.7 87.9L687.6 85.8M693.7 86.6L690.5 85.2M693.1 87.2L691.2 89M699.2 79.4L699.4 84.3M688.9 70.4L691.6 68.1M699.1 82.4L699.9 85.6M690.8 70.3L694.1 67.6M697.7 78.4L699.2 79.8M687.1 86L686.3 83.4M699.6 83.3L695.7 86.7M698.2 70.5L698.4 73.7M688 84.6L683.2 84.2M687.5 71.5L688.2 66.3M691.4 83.7L686 84.7M680.6 77.4L686.4 74M695.9 84.3L693.5 86M699.5 68.5L701.1 69.3M683.4 71.4L689.2 68.7M688.7 86.9L690.4 86.9M700.5 77.9L699.4 79.2M699.9 81.8L697.6 84.5" stroke="#5060c0" stroke-width="0.6" stroke-opacity="0.78" fill="none"/><path d="M687.7 74.7L690.6 70.1M687.3 83.6L683.4 82.2M696.2 84.8L693.9 86.7M698.5 73.7L703.2 76.5M698.6 86.6L694.9 87.1M683.4 74.4L687.2 74.4M683.4 81.5L683.7 75.8M691.2 70.6L695 70.4M699.2 73.9L699.7 78.7M699.8 81L699.8 82M698.2 76.8L697 80.5M694.4 86.6L690.9 85.5M688.2 84.9L683.8 83.4M686.8 74L686.6 71.4M684.3 69.2L690.1 67.9M699 74.2L699.1 76.3M692.8 88.6L687.1 85.8M688.3 71.2L692.6 68.7M689.7 72.2L692.9 71.5M685.2 75.8L686.2 72.7M687 70.4L689.3 72.9M691.9 71L694.4 70.2M688.4 70.9L689.7 68.1M699.8 83.3L698.9 85.8M690 71.5L691.5 69M685 75.5L687.8 71.2M699.5 80.8L696.4 81.6M684.8 73.4L688.7 68.3M702.9 80.9L695.5 83M684.6 75.3L684.7 71.4M698.6 82.4L695 86.7M684.3 70.1L687.3 71.8M701.2 82.8L697.5 82.4M704.2 76.7L700.1 79.3M688.2 86.9L683.3 86.9M697.6 84.5L697.9 87.7M699.8 79.2L700.4 84.5M685.8 83.8L684 81.3M694.7 70.3L698.4 71.5M699.8 76.5L698.1 81.6M691.8 86.2L687.7 85.7M684.5 84.1L683.5 80.7M700.7 76.1L697.7 77.5M689.3 89L686 83.3M699.3 82.9L697.5 83.3M693.6 70.2L697.5 73.3M682.1 79.4L684.1 73.7M688.3 89.3L684.5 84.2M699.3 74L695.4 74.4M699.3 83L697.3 82.6M697.4 71.8L693.5 72.6" stroke="#c8303f" stroke-width="0.6" stroke-opacity="0.78" fill="none"/><path d="M682.2 80.4L682.5 77.9M683.8 73.5L687.4 71.7M700.2 74.3L700.3 78.2M686.4 85.2L682.7 83.5M694.1 83.7L694.2 87.8M691.9 70.2L693.1 72.2M696.3 73.3L697 75.1M689.5 87L687.7 85.2M693.8 73.1L695.9 74M698.9 74.6L698.9 75.8M683.8 71L688.2 70.6M697 85.2L696.6 86.1" stroke="#4f8a40" stroke-width="0.6" stroke-opacity="0.78" fill="none"/>
<path d="M698.9 80.4h0.8M689 79.1h0.8M696.4 84.2h0.8M693.1 82.5h0.8" stroke="#7080c8" stroke-width="0.8" stroke-opacity="0.6"/>
<rect x="0.8" y="174" width="252.2" height="252.2" fill="#e2e1e0" stroke="#1c1c1c" stroke-width="1.6"/>
<path d="M221.2 351.4L219.9 353.7L218.6 356L217.2 358.2L215.8 360.5L214.3 362.6L212.7 364.8L211.2 366.9L209.5 369L207.8 371L206.1 373L204.3 375L202.5 376.9L200.6 378.7L198.7 380.6L196.7 382.3L194.7 384.1L192.7 385.7L190.6 387.4L188.5 388.9L186.3 390.5L184.1 391.9L181.9 393.4L179.6 394.7L177.3 396.1L175 397.3L172.7 398.5L170.3 399.7L167.9 400.7L165.4 401.8L163 402.7L160.5 403.7L158 404.5L155.5 405.3L152.9 406L150.4 406.7L147.8 407.3L145.2 407.9L142.6 408.4L140 408.8L137.4 409.1L134.8 409.4L132.1 409.7L129.5 409.8L126.8 410L124.2 410L121.6 410L118.9 409.9L116.3 409.8L113.6 409.6L111 409.3L108.4 408.9L105.8 408.6L103.2 408.1L100.6 407.6L98 407L95.4 406.4L92.9 405.6L90.4 404.9L87.9 404.1L85.4 403.2L82.9 402.2L80.4 401.2L78 400.2L75.6 399L73.3 397.9L70.9 396.6L68.6 395.3L66.3 394L64.1 392.6L61.9 391.2L59.7 389.7L57.6 388.1L55.5 386.5L53.4 384.8L51.4 383.1L49.4 381.4L47.5 379.6L45.6 377.7L43.7 375.9L41.9 373.9L40.2 371.9L38.5 369.9L36.8 367.9L35.2 365.8L33.6 363.6L32.1 361.5L30.7 359.3L29.3 357L27.9 354.8" stroke="#c6c6c6" stroke-width="6" fill="none"/>
<path d="M194.7 373.9L187.4 385.5M166.4 203.6L177.5 212.4M154.7 396.7L146.2 403.6M172.9 392.9L170.6 396.6M187.9 214.4L194.7 218.1M196.8 221.9L204.5 236.2M102.4 193.5L122.1 192M227.9 318.5L225.8 324.5M201.5 372.8L192.4 380.1M39.8 355.2L25.4 342.8M16.4 307.2L17.7 297.2M177.3 387.6L176.9 393.5M168.1 400.9L153.5 406.1M204 232.4L214.5 247M226.1 282.6L222.9 290.2M81.2 206.6L92 205.6M23.3 331.3L16.7 318.8M16.7 316.3L22.1 307.3M76 203.9L87.4 197.8M22.2 329.3L16.2 311.9M71.5 391.7L51.1 380.4M163.5 199.1L168.5 202.8M20.4 312.3L15.8 300M229.2 312L223.7 319.5M146.8 388.7L143.2 406.1M28.2 258L38.7 238.1M37.9 235.4L51.8 220.7M199.2 222.7L201.1 231.2M21.6 331.4L19.9 315.4M29 247.9L39.7 236.4M33.2 337.5L18.7 320.8M213 242.1L218.1 259.7M212.1 347.3L217 355.2M225.9 333.5L216.9 352.7M22.6 330.3L19.7 323.4M61.5 382L55.6 374.5M208.8 360.1L202.4 374.6M201.2 369.5L191 381.6M223.6 263.1L230.3 281.6M29.6 245.7L45.1 233M19.4 307.3L18.7 297.3M86.3 397.7L67.9 394M158.4 199.9L175.8 204.6M19.7 324.3L16.7 301.3M38.4 368L40.6 350.5M59.3 382.8L41 372.2M64.9 381.5L47.2 375.4M157.3 404.3L134.9 409.4M25.4 264L28.7 248.9M92 198.3L114.5 195.5M180.1 383.8L172.8 396.4M195.4 381.2L181.7 390.1M225.7 304.4L224.6 324.7M34.7 238.1L40 232.6M117.9 197L138 197.2M197.3 375.3L190.3 382.6M188.4 384.2L166.6 391.7M227.3 330L219.8 348.9M75 204.1L81.1 203.6M229.4 319L223.4 341.6M43.6 372.4L30 355.3M27.2 337.8L23 334.3M42.3 231.4L52.3 227M214.3 350.1L210.4 365.6M208.7 234.5L212.3 247.2M231.1 305L225.4 324.3M215.2 347.7L213 352.1M45 229.5L54.4 216.2M19.3 322.7L19.6 315.9M168 201.1L181.3 215.1M50.4 220.8L69.6 214M154.4 403.2L134.6 401.2M98.5 399.9L90.6 392.6M180.4 207.5L190.9 222.3M118.7 193.1L128.2 197M19.8 328.7L18.4 325.5M111.7 193.5L123.2 192.1M223.4 309.8L220.6 316.5M98.7 404.5L94.8 395.6M200.4 228.9L211.3 243.8M57.1 379.5L40.6 370M78 399.2L68.2 386.4M210.8 244.3L223.9 262.1M86.4 202.1L100.7 193.8M65.8 376.3L47.8 378.2M29 252.8L31.2 246.4M41.8 238.2L52.7 223.8M82.9 200.1L97.1 195.9M229.9 292.1L229.2 295.4M40.1 363.9L34.7 351.2M34.7 352.7L26 337.7M175.9 395.7L156.4 394.7M162 402.1L138.4 397.3M230.3 312.1L225.4 332.8M72.9 387.5L57.2 386.3M71.1 396.1L69.3 387M221.2 295.2L226.8 304.9M215.6 347L211.4 358.9M226.7 268.9L228 274M162.7 199.2L180.8 210.1M145.2 405.4L122.6 401.9M111.8 409.3L102.3 395.2M158.7 197.2L165.2 200.5M126.5 406.7L112.3 407.2M159.2 198.5L169.7 208.6M93.5 200.2L97.6 197.5M120.3 402.3L116.7 397.6M139.8 193.8L148.5 198.5M200 376.4L192.3 382M46 225.8L61.7 211.3M25.1 339L22.5 334.2M228.4 322.6L218.2 338.9M227.2 281.4L229.8 285.2M19.1 285.3L24.3 264.9M179.7 384L171.9 392.7M34.7 243.7L42.5 241.2M120.4 397.8L100.1 393.6M74.7 205.4L85.7 199.7M59 389.1L46.9 378.8M227.6 269L230.2 281.9M150.4 202.3L169.6 203.7M79.9 395.5L62.9 391.9M29.4 246.4L42.7 230.1M67.3 209.4L85.3 201.9M28.6 248.6L33.3 242M42.7 367.7L35.5 357.1M146.3 198L165.8 203.9M56.8 377.1L42.5 365.2M120.3 193.7L125.4 192.8M25.4 264.2L29.2 248.4M176.9 206.5L187 215M222.1 342.9L210.3 355.1M214.3 242.8L220.7 251.9M208.6 362.7L195 378.6M122.8 191.5L137.9 195.8M31.1 247.3L39.8 244.2M177.3 393L156.9 389M226.4 310.5L226.2 326.7M109.9 399.5L87.9 400.4M161.1 205.6L174.8 205.7M174 206.3L178.4 208.6M220.2 329.3L219.8 344.3M52.7 217.4L68.9 206.7M201.2 231.2L212.2 240M38.8 368.6L35.7 364.8M27.1 346.7L18.4 328.2M118.2 191.6L139.4 197.3M221.8 265.7L228.1 271.6M93.8 391.4L83.7 396.1M226.9 311.3L223.8 331.3M211.4 241L215.8 248.7M79.8 398.3L67.9 387.7M16.3 308.4L21.3 292.6M25.6 333.4L19.4 322.1M16.3 313.6L16.6 298.3M60.6 211.8L71.7 208.8M20.8 292L18.3 285.7M27.4 346.4L22.9 336.3M201.6 368.9L200.7 376.6M18.9 322.9L18 319M103.2 193.3L112.5 194.5M21.1 331.7L20.5 318.7M59.1 381.4L42.2 371.6M231.6 302.4L228.2 313.4M17.6 316.5L17.7 298.6M93.7 200.4L112.1 191.7M217.3 247.5L221.5 266.1M20.8 285.2L21.2 271.4M223.8 298.7L229 321.4M219.5 256.7L223.7 273.9M18.8 296.3L16 291M222.8 338.3L219.6 350.8M61.2 386L48 374.7M55.1 375.9L38.1 362M174.6 392.1L166.2 397.7M16.1 295L19.3 281.6M152.1 399.3L135.4 401.6M225.8 274.6L230.4 281.8M19.8 279.4L20.3 271.4M82.4 401.2L69.6 395.8M60.5 214.3L74.8 205.3M46.9 227.7L53.4 221.1M229.6 309.7L226 329.6M35 347.5L23.2 339.2M88.2 393.4L74.9 394.2M51.7 219.9L70.5 207.1M33.2 357.8L25.6 340.5M31.5 246.6L47.6 237.3M21.9 267.6L32.7 251.9M110.3 407.6L93.5 402.3M36.8 243.6L40.7 235.2M194.2 383.7L189.7 386.8M216.8 249.9L221.8 261.5M37.2 237.7L48.9 224.6M223.4 342.8L217.3 352M31 354.7L25.3 339.5M138.9 409.9L118 410.8M220.6 341.3L209.6 359.8M230.9 308.3L225.5 324.7M231.5 305.8L229 309.5M110.1 192.5L131.8 195.5M18.2 324L19.3 302.3M41.1 359.8L27.2 342.6M230.3 281.5L228.5 304.9M87.4 399.2L69.1 385.8M117.1 403L107.4 409.7M136.9 409.2L132.3 403.3M152.4 200.6L158.9 200.6M157 401.7L149.1 405.1M65.4 219.4L71.5 211.4M225.5 267L227 289.4M33.2 250.2L36.5 234.9M121.8 404.2L118.5 396.3M125.6 198.4L135.1 196M45.3 372.4L48.6 359.6M227.2 279.8L226.2 284M157.5 198.8L168.5 207.6M200.6 228.3L211.9 244.8M113.5 196.8L135.2 191.9M224.8 327.8L225.3 336.2M24.5 322.9L20.7 308M219.5 252.2L222.7 265.8M228.4 312.7L213.9 329.9M230.4 290.8L229.5 299.5M15.9 307.3L17.2 287.3M172.8 209.9L188.1 218.5M39.7 365.4L35.2 355.9M115.8 192.8L126.8 193M82.3 390.1L73.5 389.5M96.5 392.8L82.4 398.6M146.9 388.8L138.6 398.2M27.7 276.7L21.6 269.5M17.9 280.7L22.2 276.8M142.2 406.3L121.8 407.7M196.3 223.4L208.8 233M134.3 199.1L143.6 196M44.8 236.4L55.7 215.8M211.1 251.1L214.6 254.5M92.7 199.4L99.2 194.4M28.2 301.5L16.7 291.1M34.7 255.2L35.3 240.9M45.1 226.3L60.8 212.8M211.4 351L211 364.1M83.7 395.4L68.7 393.5M190.5 384.3L170.5 391.5M66.4 392L51.3 382.6M75.2 394.1L58.8 388.5M171.1 204.3L182.4 215M167.9 200.8L182.8 213.3M42.4 229.2L52.8 218.2M33.4 361.1L29.9 353.8M22.6 320.2L21.4 311.4M144.4 196.2L158.3 202.6M202.7 225.4L204 229.4M124.1 402L103.2 402.4M175.7 205.3L193.1 217.5M25.9 254.7L37.7 237.5M20.5 277.2L24.5 266.1M122 194.3L136.9 196.1M27.1 347.2L20.5 330.9M74.4 396.4L62.4 388.4M124.7 400.1L118.7 408.9M68.5 386.5L52 379.5M33.7 356.2L32.5 345.2M135 195.6L150.8 201.3M228.8 319.3L215.6 336.1M208.8 234.2L215.8 247M225.6 320.6L220.1 339.7M171.3 396.6L165 394.4M68.2 390.2L56.9 387.8M202.8 373.9L184.9 386.9M33.9 250.4L39.1 244.6M231.1 301L227.9 314.6M28.7 338.6L21.1 327.5M16.2 308.7L19.3 304M182.2 392.2L176.8 395M153.6 195.5L156.3 199.9M87.3 200.4L98.7 196.3M15.2 301.8L17.5 296M62.3 382.1L47.4 371.2M133.7 192.7L145.8 198.4M167.1 204.4L181.7 208.8M82.7 204.7L92.9 198.5M21.8 311.1L19.3 291.1M20.1 295.8L18.9 280.2M125.4 403.2L112 401.1M218.6 348.5L203.9 363.3M27 342.6L22.8 331.4M204.3 227.4L214.9 244.8M18.8 322.3L17.7 311.3M22.4 265L33.6 244.5M220.2 260.2L224.9 266.5M63.3 388.2L60 379.5M221 264.1L229.8 277.8M81.9 397.1L72.4 393.5M209.5 247.3L222.6 262.5M219.8 332.5L224.1 339.7M88.3 400L92.6 383.3M143.6 404.1L137.3 389.9M78.8 202.9L83.7 213.5M200.4 373.3L177.4 371.9M214.3 355.3L195.1 360.7M23.9 337L36.9 321.1M60.7 213.6L73 223.1M22.4 332.7L43.7 322.6M20.6 326.5L33.6 335.9M27.3 254.1L34.6 256.7M218.4 348.1L214.6 332.4M230.9 293.5L237.8 286M19.8 271.7L12.5 276.4" stroke="#4f2f96" stroke-width="0.9" stroke-opacity="0.85" fill="none"/>
<path d="M45.7 224.6L55.1 218.9M209.8 242.7L219.7 256.6M18 287L24.6 266.8M77.1 393L60.2 389.6M212.7 239.1L219.6 252.4M56.1 221.6L69.9 210.8M116.3 410.5L98.9 405.4M224.6 328L223.3 337.2M176.9 396.5L156.9 396.6M207.2 239.1L217.4 246.6M150.7 197.4L162.7 209.1M161.8 201.7L181.8 210.1M32.6 359.1L34.1 351.6M85.6 398.9L64.7 391.3M171.4 203.1L182.9 212.7M196.4 236.3L211.6 245M191.4 384.9L178.3 392.5M20 284.2L17.9 277.2M94.6 403.9L91.1 394.9M109.8 193.4L121.2 196.2M83.8 202.3L90.4 204M77 396.1L57.1 387.9M197.1 220.1L199.4 230.7M15.7 294.5L23.7 276.8M177.8 390.7L161.9 401.4M101.5 407.4L81.8 394.9M53 374.1L47.5 374.9M27.5 254.7L32.9 246.6M32.9 359L27.9 345.2M155 196.2L161.1 207.3M205 369.3L202.9 373M201.5 375.8L191.1 377.2M227.4 301.5L226.5 323.3M84.7 199.3L97.6 197.4M175 386.4L162.9 396.2M148.6 202L160.4 199.8M228.4 271.9L227.9 285.9M104.7 196.1L124.3 192M25.7 347.4L28 331.6M73.9 388.4L55.3 383.1M45.8 229L60.5 218.7M231.2 299.3L228.6 317.7M113.5 192.1L132 193.2M227 307.1L231.1 313.2M77.5 391.4L60.4 380.7M128.7 194.3L142.6 198.3M225.1 280.2L228.2 290.5M161.4 395.3L143.1 406.2M217.8 346.6L205.8 362.4M55.2 384.9L49.1 367.2M86.2 200.4L107.7 193.7M24 324L21.6 304.7M27.5 263.7L29 260.1M189.4 374.2L180 388.3M62.4 387.4L57.8 380.8M220.9 344.3L210.3 352.7M51.8 372.5L45 374.5M54.3 383.3L49.2 373.4M48.1 374.6L40.6 367.8M184.6 385.1L173.9 390.3M118.6 409L112.4 408.6M155.5 402L145.9 406.8M87.5 400.9L83.2 400.9M102.3 401.2L92.6 405.1M94.8 404.9L83.8 401.2M155.2 398.9L146.6 406.9M221.5 344.8L212.6 350.7M223 341.2L216.5 352.1M199.1 373.2L195.8 380.1M74.4 394.1L65 387.7M215 347.3L210.6 358.2M127.6 408.3L116.7 407.5M51.5 379.1L42 371.4M201.2 371.4L196.6 377.5M175.4 395.8L164.2 400.7M203.5 369.9L200.9 372.1M80.9 397.8L69.8 391.8M198 378.3L189.4 382.1M209.7 356.8L209.2 364.1M153.4 402.3L148.9 404.3M221.4 339.2L220.5 342.6M195.5 380.8L185.6 383M193.2 378.8L186.9 385.9M187.8 388.1L178.2 389.8M66.6 387.6L58 385.2M197.2 375.1L195.2 380.9M203.5 371.6L194.3 379.8M133.8 409L126.8 408.4M33.7 357.2L26.3 346.9M110.1 402.8L97.2 405.8M95.3 404L91.3 404.3M128.2 409.7L123.4 404.6M51.8 375.3L41.7 370.6M38.3 362.7L30.2 353.4" stroke="#4e7a34" stroke-width="0.9" stroke-opacity="0.85" fill="none"/>
<path d="M158.5 196.9L176 208.6M86.2 200.8L103.9 194M189 382.7L179.5 391.1M64.7 392.2L50.8 379.5M48.9 375.8L48.4 367M86.3 396.9L73.9 397.9M224.8 280.6L228.7 284.9M54.6 378.9L46.8 377.6M34.2 248.7L36.9 237.4M229.6 278.1L231.8 295M85.5 203.4L93.9 196.1M132.1 406.3L112.9 406.6M65.3 214L76.2 203.2M199.6 372.6L189.5 377.8M53.6 220.3L55.8 215.2M134.8 198.6L156.1 198.4M171 204.3L182.9 210.7M16.8 293.9L20.9 272.7M174.5 395.2L157.2 400.1M29.1 349.9L29.4 341.9M199.8 366L197.8 378.7M200.4 376.4L196.4 379.2M209.5 359L198.1 372.6M78.8 393.6L66.2 383.7M136.4 192.2L157.4 201.9M47.8 231.8L55.3 223.5M224.2 267.4L227.3 281.4M68.8 384.7L66.8 379.3M26.8 348.5L28.2 343M194.9 374.3L180.1 393.2M231.4 311.5L219.7 329.8M226.5 324.6L227.6 330.6M183.4 390.3L161.5 398.8M63.2 209.6L71.9 206.2M196.8 379.5L193.8 383.8M70.2 393L58.4 386.9M90.3 197.4L113.3 197.1M175.1 204.6L177.4 207.3M35 243.8L46.2 230.7M17 283.2L23.8 267.3M221.3 256.7L222.7 263.9M152.2 195.4L168.7 201.7M204.6 227.6L209.7 241.3M41.3 233.6L48.1 225.6M42.2 238.1L49.7 224.3M110.6 410L93.6 402.5M66.3 211.2L78.5 208.2M227 331.1L220.2 338.7M186.9 213.1L195.7 222.4M229.7 308.9L224.5 324.2M98.5 405.7L87.5 393.9M21.9 331L17 308.8M198.8 378L177.5 387.7M22.2 264.1L35.9 245.1M64 387.8L57.6 384.8M86 199.6L99.9 193.8M26.3 333.5L24.8 330.1M229.7 316.1L223.2 325.9M50.3 379.3L42.9 373.7M148.6 194L152.8 199.6M212.2 354.8L207.8 359M91.5 201.7L110.9 193.1M35.3 363.7L29 342.2M230.8 288.7L226 293M78.6 204.3L97.9 199.5M54.8 219.1L69.3 208.2M16.7 317.6L18.7 313M20.5 274.2L23.8 266.3M95.8 201L104.7 195.3M191.3 223.5L204.1 234.6M33.9 359.3L31.1 338.9M192.4 381L173.1 384.1M158.4 207.8L165.1 202.1M215.1 243.8L222.9 259.5M45.6 227L57.4 240.1M223.5 336.3L210 335.3M170.5 395.1L165.7 389.7M191 217L192.7 233.8M202.6 334.7l3.5 0.3M127.8 300.2l0.4 2.4M155.4 306.4l0.1 1.2M106.6 293.5l2.3 1.7M147.8 326.1l-0.5 2.1M141.7 298.5l-3 1.6M59 240.9l-0.3 1.7M18.5 277L10.8 267.5M197.7 377.4L203.2 381" stroke="#4f5fc0" stroke-width="0.9" stroke-opacity="0.85" fill="none"/>
<path d="M226.1 285.4L229.6 307.2M124.2 409.3L118.3 402.7M22.9 333.7L18 319.8M29.4 339.4L25.9 329.1M17.3 314.6L16.4 300.7M216.7 246.4L216 253.2M228.7 290.4L229.6 311.7M36.7 366.2L33.7 356.5M132.4 193.4L140.6 198.2M155.7 198L165.8 201.6M101.5 398.8L96.3 400.5M21 325.4L15.5 309.9M230.8 296L225.6 309.3M26.7 337.5L24.5 331.9M22.6 323.3L18 317.4M42.5 233.9L48 224.1M155.9 198.5L176.9 208.2M127.1 191.9L135.5 198.4M202.3 226.6L207.6 242.2M21.9 332.5L19.8 318.7M26.1 262.2L31 243.3M83.8 209.9L88.9 201.3M145.1 197.7L163.3 199.1M69 394.7L64.8 392.6M72.6 213.7L88.2 198.6M79.1 202.6L86.7 198.9M177.1 394.1L171.7 396M74.4 208.9L80.1 202.4M74.5 394.6L68.1 383M29.3 254.6L32.5 251.4M57.4 367.9L33.2 361.6M96.9 405.8L83.5 399M95.9 194.7L112.6 196.5M201.8 370L194.9 378.9M202.1 373.2L193.7 370.8M200.3 375.7L173.9 377M182.7 391.7L175.5 387.4M29.8 246.4L35.4 241M224.2 308.8L225.2 317.7M231 285L226.8 291.5M207.8 354.4L209.3 366.6M56.2 216.7L65.8 213.1M173.9 394.2L168.1 398.3M155.5 405.5L133.3 407.4M38.3 360.1L29.3 347.7M226.2 314.6L228.3 322.2M231.4 290.2L229.1 312.8M213.9 243.5L224.4 263.4M108.5 192.2L126.3 192M99.3 405.2L97.4 388.6M197.6 221.2L202.1 224.6M90.2 404.9L74.2 395.4M21.3 267L32.3 250.6M15.8 301.9L17.7 296.2M37.3 245.8L40.5 231.3M57.6 381.9L46.6 374.4M97.2 398.3L92.3 400.9M94.8 197L100.7 193.4M187.6 213.6L197.1 226.9M106.6 194.6L129.2 194.7M58.3 218.9L70.8 208.7M48.8 221.8L58.2 217.3M30.2 245.3L48.2 235.2M25.3 341.9L24.2 319.3M219.4 253.9L227.8 272.5M93.7 199.4L98.6 197.3M118.2 409L96.4 404.5M123.9 403.9L111.1 406M108.8 408L98.3 398.8M227.4 312.8L226 333.8M120.5 195.1L138.2 192.8M229.7 281.3L228.8 290.1M189.2 221.9L201.5 226.8M199.3 228.8L206.6 234.7M36.6 235.5L46.9 223.4M220.9 347.6L210.5 365.4M216.7 339.9L217.4 345.4M198.2 223.5L181.5 224.3M170.4 203.9L152.1 210.5M195.4 378.2L194 363.1M37.4 362L40.2 345.2M30.9 247L46.1 251.4M104.9 404.3L108.1 386M17.2 295L27.8 296.7M155.7 401.1L137.4 393.2M208.3 364L188 363.6M50.1 222.4L48.3 230.6M89.4 401.4L89.5 405.9M46.1 225L39.5 223.7" stroke="#c42a36" stroke-width="0.9" stroke-opacity="0.85" fill="none"/>
<path d="M221 252.3L220.5 257.7M18.9 310.3L17 300.1M88.5 197.4L98.7 196.1M196.1 374L183 386.1M121.3 196.3L125.3 192M22.9 263.1L29 248M31.8 353.7L23.8 341.5M193.5 217.2L197.1 223.2M19.1 271.6L30.2 265.9M212.8 353.3L205.8 368.6M199.5 377.5L192.9 376M36.7 237.6L40.2 230.3M41.1 370.1L48.8 358.5M82.5 199.9L93.9 195.5M141.2 406.2L119.3 408.2M96.4 196.5L118.3 192.6M186.9 389.8L171.6 395.3M192.1 225L205.5 232.7M176.3 388.7L167.8 388.7M206.3 357.6L204.7 367.4M36.1 241.1L45.2 226.5M197.5 227.1L203.3 234.5M200.1 228L206 234.6M230.8 304.2L225.9 318.2M20.8 311.8L17.7 291.4M129.6 191.9L146 198.6M24.2 273.8L30.8 261.7M222.3 271L227.3 280.5M111.6 408.2L91.4 403.1M121 197.3L142.6 194.3M18.3 273.4L24.6 267.3M126.4 401.9L111.2 399.8M19.2 318.4L19 313.7M25.4 275.2L31.5 255.5M136.6 399.5L125.2 408.6M36.1 237.5L48.6 225.6M201.5 376.2L186.6 381.3M112.5 391L96.6 405.6M205.3 241.9L215.1 246.2M80.8 206L93.1 199.3M110.2 195.1L121.6 191.2M146.6 407.1L124.3 400.5M70.6 395.7L68.5 384.9M40.9 233.2L56.5 215.9M43.8 372.1L31.1 353.1M63.5 381.8L47.9 377.5M16.5 285.9L22 264.1M195.9 220.5L201.7 227.3M136 192.4L138.9 197.6M97.6 406.3L93.2 399.3M157.6 200.8L173.6 204.7M90.9 403.7L78.2 387.6M32.2 242.3L39.6 236.3M98.3 194.9L108.8 196.4M22.4 271.8L25.6 264.4M143.5 407.2L132.2 410.5M118.8 400.1L108.6 399.2M23.4 267.7L30.7 246M21.8 262.5L33.5 247.2M129.4 199.5L147 194.2M205 238.1L212.7 246.4M185.4 385.9L167.9 396.3M152.9 399.6L150.6 405.3M229.8 318.4L227.9 321.9M202.5 369.5L188.3 376.3M71.3 395.4L56.4 384.4M38 362.1L40.2 355.9M64.1 212.7L76.9 201.6M26.8 329.3L20.6 317.3M214.5 243.3L219.8 251.5M217.2 349.1L212.7 360M227.7 275.6L227.2 293.1M50.8 376.5L47.4 363.8M134.6 195.8L149.9 199.1M183.3 211.5L188.1 215M18.7 321.7L19.2 306.1M21.8 330.1L17.3 315.4M57.9 214.7L65.5 208.4M44.1 230.3L52.7 221.5M27.2 252.8L32.6 251.6M40.6 235.6L42.7 229.2M24.7 337.9L18.7 323M58.6 223.5L64.1 217.7M231.7 290.7L225.3 296.1M78.6 202.9L95.7 196.3M23.3 335.5L23.5 329.7M117.1 404.6L113.4 404.7M66.9 388.8L56.6 381.5M31.2 339.6L19.4 325.3M19.4 278.1L25 273.4M185.1 386.3L168.5 397.4M144.6 196.7L161 199.9M39 240.8L39.2 235.6M223.9 312.8L217.2 330.7M39.2 233.8L52.2 218M36.2 247.8L39.9 241.2M41.7 232.5L54 218.8M229.6 277.5L230 291.8M94.3 406L74.2 392.5M204.5 364.5L197.8 378.8M15.7 306.4L20.9 287.8M110.9 403.8L91.5 395.7M188.8 386.9L173.4 395.8M53.8 219.7L66.1 211.4M36.1 240.9L38 236.6M153.8 401.9L150.2 405.7M225 329.5L221.2 346.2M31.5 250.2L39.7 240M229.3 324.1L218.8 338.7M132.1 192.2L138.3 192.3M47.4 378.2L43.3 374M225.4 270.1L229.2 288.6M176.6 205L177.5 214.2M113.6 193.6L132.9 192.2M126.8 410.1L122.1 410.5M177.3 394.6L165.1 394.5M228.1 276.9L221.4 292.3M218.2 343.3L206.9 360.4M51.6 218.8L67.8 209.2M183.2 209.5L198.3 222.9M20.9 266.3L29 250.8M49.9 228.6L63.2 213.1M221.6 337.6L214 357.2M218.6 281.9L230.1 294.1M68.7 386.6L56.5 380.4M166 397.3L150.5 400.4M28.6 254.6L36.3 241.9M155.6 393.4L144.2 406.3M175.7 204.7L186.3 214.9M60 377.3L46.4 364.4M220.4 349.1L207.3 366.9M68.6 208.1L90.4 206.7M27.4 254.7L32.3 242.5M51.6 380.1L43.4 364.9M68.3 217.3L74.5 204M169 202.9L186.3 212.1M87.4 392.6L70.5 389.8M28.2 342.4L23.2 338.9M187.1 382.5L182.6 386M196.6 377.5L194 382.7M19.9 322.3L24.9 309M130.2 194.4L152.1 196.9M190.7 382.8L178 395M49.7 357.2L29 351.3M21.1 274.8L21.1 270.1M46 353L31.3 338.2M21.8 262.8L29.8 248.8M103.3 402.8L83.4 399.4M156.7 403.9L150.6 400.1M26.6 341.5L22 330.6M206.3 369.2L202 374.3M192.7 217.6L205 230.4M76.4 203.8L83.3 205M213.8 252.2L222.4 265.4M202.3 366.7L195.5 379.3M228.7 291.1L229.7 306.3M20.2 324.1L23.6 309.1M209.8 236.5L212.4 250.6M213.4 254.9L223.7 274M228.9 298.9L222.6 305.2M31.4 246.3L42.1 236.4M16.9 315.4L15.2 294.9M209.2 353.4L198.4 369.1M222.4 258.1L220.7 275.9M59.1 383.4L41.5 371.4M114.2 405.4L103.9 396.4M113.3 409.3L90.5 402.1M48.7 226.9L50.8 219.1M77.1 204.1L81.1 199.7M215 255.3L220.7 265.3M77.8 397.3L62.3 388.2M95.1 406.5L88.3 401.9M127.2 198.2L138.2 192.9M227.6 297.2L224.4 307.9M179.9 209.4L187.6 212.4M173 205.3L174.9 210.3M72.8 396L64.5 370M222 342.9L209.4 352.5M83.5 399.6L78.6 388.3M217 244.4L217.4 265.1M39.8 239.5L41.6 232.4M230.9 314.3L225.6 324.9M215.5 352.5L203.4 358.5M213.7 346.5L218.1 353.3M63.9 210.9L83.3 198.8M19.7 293.3L21.4 273.4M45.1 230.8L49.2 221.7M130.2 402.9L118.5 409.8M221.9 307.3L224 330.5M202.7 227.2L207.1 238.4M223 338.9L215.1 344.4M219.6 254.1L218 261.5M17.2 281.3L22.4 268.3M212.4 345.4L212.7 360.6M115.7 405.8L92.1 404.3M179.9 216.3L188.2 216.6M53.4 219.2L67.9 216.5M124.9 195L141.7 198.2M228.4 321.9L218.7 328M78.7 201.2L95 199.3M55.7 219.4L59.9 218.7M121 403L101.1 402.8M173.8 206.1L178.1 210.3M53.1 367.4L46.9 363.2M38.7 364.5L31.6 349.6M118.4 408L101.5 401.3M116.2 197.2L126.1 196.4M157 198.3L176.4 210.2M186.1 220.1L197.3 223M18.3 308.1L18.8 289.4M22.1 334.1L20.8 325.2M169.6 207.4L189.1 215.8M91.8 405L88.1 404.2M127.2 192.9L139 197.6M30.4 255.5L38.6 233.7M179.7 215.8L197.6 229M18.4 325.5L19.2 310.7M26.3 259.4L26.4 253.1M102.4 402.6L94 404.2M18.2 306L22.1 300.6M21.9 262.2L34.8 245.4M45 375.6L37.1 352.8M204.4 368L189.4 378.4M208.6 352.1L204 369.6M64.4 212L72.5 207.3M213.4 241L218.3 258.3M220.1 345.5L209.7 356.1M46.1 354.7L28.1 349M224.7 263.3L224.9 278.5M224.9 332.7L218.4 351.7M77.6 201.3L95.6 195.1M231.4 301.2L223.5 306.4M167.1 392.7L148.8 404.5M114.1 192.1L122.6 194.2M19.7 273L27.4 262.5M24.6 341.3L23.2 321.5M94.9 196L113.8 192.2M31.5 245.1L41.4 230.9M74.2 379.3L66.5 380M32.3 241.8L35.7 238.5M41.3 229.3L48.3 226.4M204.4 366.4L198.5 367.6M77.4 390.3L68 394.9M78.5 201L94.7 199.6M175.5 396.1L166 400.6M30.3 339L21.9 320.2M117.4 194.9L135.2 194M38.5 358.5L27.6 345.7M127.2 193.9L142.4 194.4M32.8 337.2L23.9 332.8M182.8 212.8L199.5 222.1M231.1 293L230.2 306.3M230.3 280.3L228.1 288.2M181 211.5L194.8 229.7M227.5 279.8L231.3 297.2M75.7 393.3L69.9 388.6M159.2 401.8L140.3 406.9M16.4 287.2L18.9 283.6M118.1 410.3L100.4 398.9M49.7 220.9L56.1 216.9M63 214.3L70.3 211.6M105.2 408.5L86.8 395.2M131 404.2L112.2 409.7M163.9 400.7L157.5 398.8M29.9 251.7L33.6 244.1M40.9 359.3L30.5 350.9M80.7 393.8L61.8 386.9M90 202L95.7 197.4M224.2 332.1L221.9 339.5M77.8 207L96.7 195.7M42.8 233L46.1 226.1M44.4 230.4L48.6 222M212.3 359.2L202.3 370.5M223.8 266.6L223 277.2M177.3 208.2L190.4 216.8M230.4 306.4L230.5 311.4M226.1 294.4L227.6 304.7M221.5 263.3L222.8 274.6M21.9 327.3L18.7 312.6M105.2 193.5L128.3 193.4M71.1 208.6L89.5 197.2M95.2 198.4L100.6 194.2M111.2 194.9L114.1 191.7M18.1 323.6L20.3 314M149.6 195L167.1 203.5M75.7 206.1L96.6 198.8M140.3 400L137.4 407.3M122.1 405.2L104.1 408.8M25.3 338.6L19.7 324.6M151.4 395.9L146.3 390.5M96.5 197.9L106.3 194.8M213.4 247L219.2 263.2M227.8 269.3L225.4 275.2M62.1 378.2L50 379.8M49 227L56.7 218M22 264.4L24.1 257.7M28.1 265.1L28 251.6M120.7 406L125.6 401.8M178.3 390.9L181.7 382.3M37.1 361.6L43.3 360.5M215.3 353.6L209.2 338.8M85.5 399L81.8 393.2M118.8 405.9L131.3 392.2M109 194L123.4 208.9M228.6 281.7L217.6 290.2M150.7 196.5L144.8 200.2M34.7 358.2L44.2 348.3M52.4 218.9L46.4 219.1M230.4 311.7L233.2 315.1M188.7 385.1L187.6 391.4" stroke="#4f2f96" stroke-width="0.9" stroke-opacity="0.85" fill="none"/>
<path d="M20.9 326.1L17.1 309.3M41.7 231.8L45.1 229.7M229.2 320.5L226.1 328.2M54.5 222.4L67.9 211.1M181.2 389.5L172 391.1M211.9 347.6L214.8 357.3M97.5 194.7L111.5 201.5M17.2 314.5L19.5 305.9M138.6 409.2L120.7 408.3M145.3 398.6L124.1 390.4M104.7 402.5L92.3 395.6M223.3 306.7L230.9 312.1M115 197.4L124 192.4M214.6 246.9L221.8 259.5M166.5 203.8L188 213.2M45.6 370.2L41.2 365M136.9 193.2L144.1 196.1M172.4 203.6L188.4 212.9M22 271.3L26.7 254.4M71.5 394.7L62.3 382.5M226.3 278.4L226.7 282.8M22.1 261.6L28 250.2M41.8 367.6L36.5 364.7M24.3 262.8L32.5 251.8M22.1 306.8L15.6 292.5M18.8 272.5L22.8 259.5M129.3 401.6L119.9 398.4M52.7 364L37.4 360.4M100.1 399.2L90.1 404.8M207.8 363.7L194.7 371.7M164.7 200.1L177.8 210.3M27.3 252.1L28.8 247.7M82.3 397.8L68.3 394.2M116.4 410.2L97.2 404.1M38.9 241.8L48.8 222.6M73.9 397.8L56.7 381M230.5 285.1L231.5 302.4M220.5 257.4L227.7 272.8M30.9 351.3L20.4 333.7M32 249.8L42.4 230.3M51 224.5L56.9 214.2M200.9 372.2L199.1 376.2M26.3 332.2L23.5 325.6M196.5 379.2L188.5 380.5M75.1 202.8L88.9 201.1M88.1 396.9L71.8 383.6M223.8 317.8L217.9 332M153.9 198.6L163.9 200.6M219.3 349.3L211.5 359.3M165 200.2L170.4 204M33.9 243.7L46.5 225.4M134.5 409.3L129.7 408.7M173 208.7L191.1 218.2M194.6 378.8L185.4 385.9M189.7 386.5L182.9 387.9M162.9 401.2L158.7 402.5M111.2 408.1L103.2 404.1M187.2 384.2L178.6 393.7M79.6 398.9L70.3 395.3M85 400.6L82.5 398.1M172.8 396.2L169 398.8M200 374.6L190.9 380.5M216 347.6L212.1 350.7M197.4 379.1L194.9 381.4M61.7 381.9L52.6 379M37.4 365.6L37.8 361.1M26.9 336.4L21.6 330.7M129 409.4L115.9 408.1M29.6 344.2L24.7 336.4M150.9 405.6L146.8 405.5M84.9 399.3L81.5 397.8M122.7 406L115.8 408.8M114.3 404.1L101.7 403.5M84.9 402.4L77.4 398.7M109.4 407.7L103.9 404.5M189.8 386.3L184.3 387.4M84.8 402.3L80.4 395.9M76.7 393.1L69.4 394.6M129.4 408.4L121.9 408.9M42.3 364.1L32.3 356.2M182.7 391.2L173.3 393.6M57.4 384.8L55.1 374.9M112.5 405.9L106.6 403.3M81.4 396.3L71.6 392.9M162.7 401.2L155.6 401M139.4 408.1L132.8 405.8M120.2 407.5L110.6 403.5M195.4 373.8L192.5 383.7M133.5 407.5L129.3 406.7M180.7 392.1L176.9 392.7M205.8 365.8L201.2 370.3M124.4 406.9L117.9 405.5M215.5 353.2L213.9 357.1" stroke="#4e7a34" stroke-width="0.9" stroke-opacity="0.85" fill="none"/>
<path d="M73.7 204.1L81.3 203.1M49.5 224.3L53 219.2M57.9 381.8L43 371.3M202.3 363.2L187.6 376.4M73.3 398.2L62.8 382.4M151.4 197.1L164.2 206.4M215.5 244.6L225.3 265.7M217.3 354.1L207.4 357.5M49.8 227.4L54.2 223.1M200.4 374.5L193.4 383.4M211 357.2L199.7 371.2M133.5 410.4L129.4 410.1M190.1 220.9L207 235.5M188.8 215.4L189.1 222.9M152.1 199.1L175.1 204.3M35.5 238.8L45.8 225.9M20.3 269L28.9 257.3M170.4 391.4L159.2 402.1M74.7 208.7L90.6 201.7M95.9 407.3L74.8 398.3M147.8 396.8L135.5 402.6M226.4 313L227.4 320M51.1 225L60.2 214.6M228.4 313.6L225.9 320.1M88.3 200.1L93.1 195.5M141.7 195.1L160.9 199.4M205.3 358.4L203.4 373M180.2 209.8L187.1 211.8M66.2 212L71.3 204.5M16.4 312L21.2 291.9M137.8 193.3L158.2 200.3M49.1 379.1L46.2 373.8M185.9 217.7L193.9 220.5M230 319.5L223.1 341.8M172.1 206L186.5 215.4M45.4 357.3L30.4 352.8M55.8 374.4L39.4 367.4M84.8 203.1L99 197.4M156.6 400.4L149.3 397.1M191 372.4L191.5 382.6M33.4 241.1L41.8 237.5M207.5 363.9L200.7 377.3M23.5 274.4L23.9 261.5M84.9 399.2L76.5 399.7M198.6 223.2L206.5 232.5M21.5 263.4L31.1 245.6M101.7 403.2L96.8 407.6M230.6 310L221.2 316.7M135.6 403.2L122.7 410.1M216.7 342.7L201.5 350.7M68.1 206.6L73.5 203.9M104.4 192.9L119.3 202.3M121.5 193.6L140.1 195.7M70.3 396.4L62.4 370.4M90.5 397.7L86 387.5M44.7 226.7L51.3 221.2M195.7 379.5L179.9 390.5M21.9 272.4L26.6 267.4M131.8 407.1L126.5 407M19 326.5L18.7 314.5M100.9 394.6L83 402.4M136.7 408.8L120.7 406.6M176 396L153.4 401M203.8 231.5L208.9 233.7M122.5 401.9L108.9 403.8M213.5 360.8L200 373M19.3 296.4L16.1 292M63 210.7L69.9 214M19.2 288.5L23.1 285.2M204.8 230.8L214.1 244.6M179.5 394.9L156.7 394.3M201.6 230.3L208.4 238.2M159.5 404L140.8 399.9M54.6 218.3L52.3 238M24.3 338L36.5 338.2M137.2 193.9L142.9 199M185.1 386.4L172.5 386.5M66.8 209.4L74.7 214.2M128.7 345l-2.8 1.6M158.5 304.3l1 0.7M186.9 256.1l1.2 0.9M87.7 292.1l0.2 2M51.7 286.9l-0.5 1.6M154.8 242.8l-1.2 0.9M143.1 382l1.6 0.7M149.7 195.2L148.7 187.9M22.5 336L13.9 345.9" stroke="#4f5fc0" stroke-width="0.9" stroke-opacity="0.85" fill="none"/>
<path d="M129.6 196.3L133.7 193.4M99.9 402.9L88.6 389.6M95.1 200.2L113.1 191.7M212.4 348L216 357.5M225.9 326.8L220.8 345.6M77.5 202.7L97.1 194.3M228.6 307.5L225.3 310.5M116.2 405L107.4 401.1M21.2 265.8L28.6 258M229.8 277.8L227.8 287.9M220.6 258L227.4 269.9M84 200.2L100.8 200.7M53.5 220.5L70.9 214.2M96.4 196.5L105.2 194.4M206.6 364.6L202 370.1M96.1 197.7L104.2 192.9M199.2 378.9L188.8 380.6M133 195.3L144.6 197.5M220.4 347.1L205.6 363.3M25.3 256.1L27.5 250.9M26.8 349L26.1 333.5M86.1 203.1L104.5 195.6M76 393.6L58.5 387.9M229.5 289.3L231.3 311M22.7 265.6L24.4 256.7M214.5 247.1L222 259.3M20.2 322.8L20.1 302.1M37.9 234.1L54.4 223.4M40.2 362L29.3 353.6M20.3 289.2L19.9 283.7M80.3 392.6L64.9 384.8M153.5 197.5L156.8 204.7M118.6 204.3L136.6 194.5M201.6 228.9L206.3 236.4M210 365.2L196.7 363.2M97.7 199.8L108.5 198.7M223.2 260.8L228.7 274.8M84.1 199.5L90.5 197.4M47.3 375.7L41.7 372.1M224.3 266.5L229.7 286.1M68.1 208.8L89.1 201.6M71.3 387.8L62 390.9M212.1 359.8L203.7 370.2M149.3 197.1L168.1 202.9M36.2 353.8L23.9 337.5M94.1 399.6L82 399.8M175.2 389.8L170.9 396.1M47.1 225.7L50.1 223.3M111 193.5L126.3 191.1M195.1 367.3L197.4 379M43.6 230.2L45.8 223.9M157.2 401.4L144.6 407.7M220.4 323.4L224.8 330.1M227.4 274.9L226.3 282.7M173.2 211.9L193.7 217.1M69.4 206.3L91.6 204.1M102.7 402L93.4 401.2M144.3 400.4L128.6 406.7M178.3 383.4L169.6 394.4M203.2 229L216.7 245.1M24.8 318.1L16.3 310.9M139.2 193L149.6 195.5M119.5 406.3L109.7 396.2M137.8 195.4L155.4 195.8M148.2 404L134.9 401.2M228.9 321.9L227.2 329.2M41.4 368.9L27.1 350.1M148.8 197.2L163.8 201M25.5 336.1L18.3 314.1M25.6 337.2L25.6 331.4M222.2 258.7L228.7 275.5M30.4 348.8L24.5 331.3M34.9 244.1L38.4 236.7M21.1 325.8L19.9 317M103.7 402.5L94.8 401.9M15.4 304.6L17.7 299.8M109.2 193.8L126.5 196.4M217 248.4L210.9 248.7M173.8 393.4L167.1 382.9M69.3 391.1L81.7 372.7M82.6 201.2L96.6 208.1M189.5 383.1L193.8 365.5M158.3 198.8L163.7 219.6M18 313.1L25 301.7M221 342.7L214.2 341.4M20.9 271.4L28.8 274.4M152.6 197L151.2 207.5M36.2 362.1L30.3 371.1" stroke="#c42a36" stroke-width="0.9" stroke-opacity="0.85" fill="none"/>
<path d="M17.8 273.1L18.7 269.9L19.6 266.8L20.7 263.7L21.8 260.6L23 257.5L24.3 254.5L25.7 251.5L27.2 248.6L28.8 245.7L30.5 242.9L32.2 240.1L34.1 237.3L36 234.7L38 232.1L40 229.5L42.2 227L44.4 224.6L46.7 222.2L49.1 219.9L51.5 217.7L54 215.6L56.6 213.5L59.2 211.5L61.9 209.6L64.6 207.8L67.4 206.1L70.3 204.4L73.2 202.9L76.1 201.4L79.1 200L82.1 198.7L85.2 197.5L88.3 196.4L91.4 195.4L94.6 194.4L97.8 193.6L101 192.9L104.2 192.2L107.5 191.7L110.7 191.3L114 190.9L117.3 190.7L120.6 190.5L123.9 190.5L127.1 190.6L130.4 190.7L133.7 191L137 191.3L140.3 191.8L143.5 192.3L146.7 193L149.9 193.7L153.1 194.6L156.3 195.5L159.4 196.5L162.5 197.7L165.5 198.9L168.6 200.2L171.5 201.6L174.5 203.1L177.4 204.7L180.2 206.3L183 208.1L185.7 209.9L188.4 211.8L191 213.8L193.6 215.9L196.1 218.1L198.5 220.3L200.8 222.6L203.1 225L205.3 227.4L207.5 229.9L209.5 232.5L211.5 235.1L213.4 237.8L215.3 240.5L217 243.3L218.7 246.2L220.2 249L221.7 252L223.1 255L224.4 258L225.6 261.1L226.7 264.2L227.7 267.3L228.7 270.4L229.5 273.6L230.2 276.8" stroke="#111" stroke-width="2" fill="none"/><path d="M24.9 253.5L26.1 251L27.4 248.5L28.7 246.1L30.1 243.7L31.6 241.3L33.1 239L34.6 236.7L36.3 234.4L38 232.2L39.7 230.1L41.5 228L43.3 225.9L45.2 223.9L47.2 221.9L49.2 220L51.3 218.1L53.4 216.3L55.5 214.5L57.7 212.8L59.9 211.2L62.2 209.6L64.5 208L66.9 206.6L69.2 205.1L71.7 203.8L74.1 202.5L76.6 201.3L79.1 200.1L81.7 199L84.3 198L86.9 197L89.5 196.1L92.1 195.2L94.8 194.5L97.5 193.8L100.2 193.1L102.9 192.6L105.6 192.1L108.4 191.7L111.1 191.3L113.9 191L116.7 190.8L119.4 190.7L122.2 190.6L125 190.6L127.8 190.7L130.5 190.8L133.3 191L136.1 191.3L138.8 191.7L141.6 192.1L144.3 192.6L147 193.1L149.7 193.8L152.4 194.5L155.1 195.2L157.7 196.1L160.3 197L162.9 198L165.5 199L168.1 200.1L170.6 201.3L173.1 202.5L175.5 203.8L178 205.1L180.3 206.6L182.7 208L185 209.6L187.3 211.2L189.5 212.8L191.7 214.5L193.8 216.3L195.9 218.1L198 220L200 221.9L202 223.9L203.9 225.9L205.7 228L207.5 230.1L209.2 232.2L210.9 234.4L212.6 236.7L214.1 239L215.6 241.3L217.1 243.7L218.5 246.1L219.8 248.5L221.1 251L222.3 253.5" stroke="#111" stroke-width="3.6" fill="none"/>
<path d="M191.7 379.7L178.2 393.9M215.3 352.3L204.5 370.8M183.7 212.1L195.5 221.5M208 234.7L208.4 239M126.6 397.6L106.5 405.3M61 383.4L54.5 382.2M226.7 286.1L228.8 290.9M20.4 326.1L19.6 303.4M225.7 335.2L221.7 341.9M23.9 333.3L21.5 328.2M103.1 199.4L114 192.3M66.6 393L65.7 370.5M227.7 271L227.1 281.7M219.4 345L202.8 353.9M194.9 378.6L175.9 387.8M48.8 376.7L34.3 360M15.8 296.8L20.7 286.5M219.5 262.6L225 280M223.8 311.2L226.4 334M78.3 389.1L64 385.4M55.8 218.6L73.8 206.6M224.5 270L225.1 286.8M118.5 195.4L141.8 192.7M24.8 336.3L23.9 320.9M21.7 288.8L25.1 268.3M54.6 384.1L53.9 375.2M182 215.9L196 232.5M147 400.1L127.2 404.5M21.9 334.2L22.5 323.4M114.1 410.1L93.6 400.3M156.4 401.3L142 400.7M170.7 202.5L174.6 206.3M171.4 205.1L174.7 208.1M67.2 207.9L80.2 200.2M216.8 267.5L225.3 272.7M73.4 395.4L64 381.7M110 192.2L122 191.8M195 219.8L207.6 231.4M181.2 390.5L168.5 397.5M205.4 359.3L202 369.5M15.8 308.5L18.2 288.5M27.9 259.8L33.7 244.2M184.4 210.3L188.8 214M39.7 359.9L33.8 353.9M213.3 241.3L218.9 248M115.3 406.7L96.5 398.5M224.9 338L212 345.1M131 194.1L151 197.4M17.1 292.1L25.6 272M191.9 382.8L187.3 384.6M212.3 333.6L219.6 348.5M48.3 224.3L63 209.6M187.3 380.4L183.7 391.5M226.9 271.4L229.7 289.7M202.9 375.1L194.5 379.7M24 265.2L24.4 261M125.6 408.5L114 405.3M173.9 393.1L158.6 398.7M130.1 398.8L124.8 407M24.1 334.5L21.1 327.3M190.9 218.6L197.3 238.2M194.7 226L203.8 226.5M203.5 372.2L193.5 383.4M228.1 278.4L227.9 297.2M18.7 301.9L19.1 286.4M51.4 373.1L47.8 369.5M65.8 213.9L82.2 202.2M22.4 261.9L27.7 259.5M159.8 400.9L140.6 406.9M230.3 280.3L232 296.8M34.1 359.7L28.9 349.5M66.7 388.7L64.5 378.6M214.6 350.8L204.5 371.4M109.1 400.4L91.7 393.4M64.4 382.8L51.8 377.5M200 234.8L208.8 233.4M94.8 394.8L76.4 390.3M91 403.4L85.6 398.7M64.9 386L46.3 378.1M128.4 191.2L138 197.4M226.7 278.6L228.8 292.2M35.5 364.1L26.5 349.1M148 401.2L129.7 408.5M208.9 366.3L198.3 370.8M225.4 278.8L229.7 281.9M118 202.5L125.4 193.5M208.5 236.3L211 243.2M22.5 289.9L28.3 280.2M26.2 256L31.5 245.2M59.2 383.6L50.6 381.4M75.7 203L96.8 200.2M154.9 404.2L148.9 406.8M97 396.2L91.6 397.3M55.4 224.2L68.1 209.5M17.2 289.7L19.2 273.9M194.8 379.8L181.5 389.1M159.8 202.2L169.6 212.1M91.2 395L71.3 395M29.8 335L24.6 329.9M34.3 255.1L29.4 247.3M222 269.2L226.3 273.7M178.9 386.9L164.9 394.3M168.7 397.9L150.1 402.7M70.1 209.7L87 198.1M55.6 228.2L67.1 209.7M221.7 312L219.4 332.3M113.2 409L96.7 396.8M181.3 384.1L174.8 387.3M66.5 388.8L54.6 382.2M180.2 212.4L190.6 215.5M207.6 232.1L214.2 246.3M63.4 390.7L49.7 375.5M41.7 372.3L42.5 363.6M83.7 198.7L99.5 203.3M67.6 387.7L55.4 381.5M136.6 409.8L122.6 407.3M33.4 245.7L45.7 247.6M228.3 276.6L230.9 286.4M197.8 222.1L205.6 229.7M87.8 198.4L101.2 193.9M133.4 402.9L124.6 400.4M212.9 361.1L205 365.1M224.5 301.9L226.7 308.6M107.5 199.3L127.5 191.3M228.2 277.6L232.1 297.6M139.3 192.6L159.8 201.3M38.4 245L37 237.3M61 211.2L68.7 208.7M45.4 365.6L36.3 364.6M142.1 402.9L128.6 393.8M34.3 359.1L32.8 351.7M31.4 346.7L24.9 329.5M138.2 407.5L125.7 409.9M184.3 214.5L190.3 221.1M195.3 377.3L186.2 382.5M22.7 267.4L25.8 258.8M207.2 237.6L210.4 239.4M196.1 381.5L184.7 374.7M121 192.3L130.3 194M20.2 328.1L17.4 314M17.8 291.6L19.2 285.4M68.3 393.7L64.9 387.3M25.9 336.6L24.4 320.5M128.7 199.3L148.5 193.9M216.1 256.6L226.9 276M114.9 197.9L137.2 192.1M141.9 399.7L120.4 409.1M61.9 215.3L65.3 208.6M65.7 391.1L52.3 377.2M91.7 402.1L78.2 400.8M101.6 198.5L112.2 192.4M166.7 202.5L179.8 211.1M23.9 258.5L27.7 256.3M40.5 366L38.7 356.2M224.3 337.5L218.5 347.9M222.6 267L230.1 281.5M18.5 304.3L19.5 292.8M147.5 397.6L138.5 406.4M69.6 206.1L84.2 199.6M112 400.5L105.6 407.9M197.1 220.8L202.1 231.3M40.5 233.8L51.3 221.4M149.8 195L168.3 205.1M229.3 300.4L228.3 314.6M18.5 281.5L19.7 269.9M229.5 297.3L222.8 313.3M202.9 231.3L214 242.3M111.9 404.1L97.3 406.9M82.2 402.1L71.4 394.6M15.5 300.3L18.4 279M135.7 405L113.7 403.8M230.2 305.3L228.7 319.2M229.3 282L229.4 287.7M23 338.1L25.1 328.8M18.3 302.7L15.7 289.8M171.7 205L187.6 216.8M109.6 399.5L101.9 402.4M24.7 284.6L25.9 269.9M57.1 373.8L47.9 372.5M215.3 350.2L206.1 369.3M158 197.5L178.8 207.7M83.6 200L103.1 204.5M20.8 331L18.3 321.1M144.4 401.8L130.2 406.6M201.2 363.1L195.6 376.3M70.7 388.9L56.8 386.8M157.8 197.9L165.8 200.1M27.5 261.7L26.2 252.5M220.1 346.5L213.9 357.5M20.8 290.6L22.7 270.6M78.8 200.9L84.1 200.1M48.6 224.7L56.1 219M95.2 197.1L114.6 198.1M116 195.5L123.6 192.9M228.7 313.2L230.1 318.4M225.6 277.3L230.8 286.7M73 394.4L65.6 392.7M50.3 368.8L46.5 360.5M99.6 408.1L88.6 403.5M27.2 350.5L20.7 332.2M109.9 401.2L103.7 397.4M227.2 322.5L221.9 336.2M147.4 395.3L131.8 409.8M215.8 348.4L206.9 358.6M85 390.3L70 395.7M216.9 356.1L205.7 364.4M127.3 193.9L150.8 194.6M138 408.1L122.2 401.8M200.6 233.3L212.4 242.2M219.4 347.4L208 364.9M32.2 336.6L21.8 335.8M152.5 399.9L143.8 403.4M45.4 376L40.5 362M200.6 229.4L210.1 240.5M41.9 232.7L50 222.1M192 373.6L189.5 384.9M65.3 217L70.7 210.3M208.6 234L217.1 245.2M108.3 197.8L129.4 192.3M73.8 389.4L64.9 378.1M43.2 373.6L34.2 359.7M59 385.9L57.6 381.4M25.2 346.3L22.5 330.8M118.3 194.4L124 191.7M224.1 339.1L213.3 350.5M187.5 385.6L178.7 385.9M174.3 397.9L159.7 397.4M162.7 203.4L180.8 210.9M194.7 379L178.2 380.6M24.1 320.8L15.8 307.6M45.2 227.6L52.7 226.8M220.5 259.1L225.4 279.6M145.9 407.4L133.7 408.9M228.7 300.1L229.5 318.1M125.5 191.8L130.8 197.6M39.2 232.1L47.5 230.9M74.6 209.5L92.6 196.8M38.1 233.4L43.9 230M19.3 277.3L21.7 262.4M34.2 250.7L38.1 234.3M220.8 258.4L221 262.7M88.3 199.8L110.4 193.3M150 404.8L134.8 405.1M130 399.1L121.5 389.4M214.3 345.9L210.8 364.1M199 375.2L180.8 382.6M52 372.7L43.1 371M231.1 309.8L228 314.6M222.1 335.9L212 353.9M83.7 209.4L86.5 199M225 261.7L227.1 281.6M29.3 348L27.8 341M189.7 219.4L202.2 225M75.8 395.5L57.9 385.8M24 333.6L23.8 327M212.6 352.6L206.3 367.5M138.5 397L121 404.8M52.7 371.1L37.4 364.6M204 244.5L218.9 248.1M206.2 233.1L216.9 252.5M41.2 233L53.1 220.8M34 362L29.9 347M196.1 379.7L180.7 381.1M51.3 221.3L64.8 220.3M129.8 198.1L147.3 197.9M19.8 287.4L19.6 271.8M216.3 250.7L219.6 258.2M30.3 340.5L24.6 333.1M201 368.2L187.1 384.8M21.9 334.4L21.8 324.9M228.9 317.2L224.1 329M122.8 407.1L116.1 405.2M133.7 193.1L139.5 199.5M231.8 299.2L226.4 320.8M132.7 191.8L148.8 195.1M66.5 210.1L83.3 200.2M97.7 400.5L77.3 391.5M175.7 205.6L180.2 210.8M90.3 404.2L68.9 395.3M19.6 324.4L19.7 308.6M207.4 237.3L217.6 246.9M33.9 241.2L37.2 238M16.8 308L16.6 301M18.6 272.8L21.1 266.2M159.3 198.4L179.7 208.1M171.6 212.1L181.8 216M39.9 360L35.5 345.7M113.7 196L127 192M73.2 384.2L53.8 374.7M80.4 203.8L91.5 197.5M76.3 397L67.1 392.7M139.4 193.4L147.3 195.9M41.9 232.1L57 220.4M141.1 194.8L154.7 196.1M120.3 198.7L124.7 193M214.3 341.9L217.9 347.5M230 294.1L220.6 310.3M59 384.2L76.1 374.6M17.2 294L35.7 303.6M19.3 277.8L24.3 280.9M123.4 406L128.9 385.9M17.4 306.9L28.5 311.9M139.3 194.2L144.8 206.3M19.7 322.9L36.2 326.5M118.6 193.1L111.9 206.4M18.7 281.4L33.9 284.4M41.1 232.1L45.1 241.9M189.4 214.5L189.7 206.8M37.7 234.8L33 222" stroke="#4f2f96" stroke-width="0.9" stroke-opacity="0.85" fill="none"/>
<path d="M202.4 369.5L199.9 373.9M177.3 391.8L166.1 398.7M128.9 192.7L146.2 195.7M128.4 403.6L114.7 408.2M183.2 209.5L183.8 215.8M222.9 322.2L220.5 326.1M198.4 374.3L190.6 379.2M229.8 296.7L226.2 300.8M181.4 212.3L190.1 217.7M204.2 373.1L189.8 383.8M40.8 237.4L49 236.2M41.8 356.9L27.7 341.1M95.2 397.6L88.5 394.1M201.8 376.9L193.5 379M136.1 401.1L123 407.9M49.3 231.1L63.8 214M17.9 279.8L19.1 271M25.7 260.6L34.6 239.7M228.1 301.1L228.6 314.2M112.8 192.3L116.3 192.9M133.5 404.8L113.7 407M121.7 192.9L129.9 195M66.1 213.5L84.2 201.4M41.2 237.5L45.7 225.8M225.1 319L219.3 339.2M19.2 275.5L21.2 267.9M172.9 393.2L170.5 396.6M130.3 408.7L118.7 406.4M64.4 391.1L49.1 376.1M220.9 260.9L226.8 274.5M206.8 348.2L209.8 356.5M101.4 405.5L83.5 400.6M45.7 228.5L55.5 220.5M27.8 249.5L41.1 239.7M212.1 246.2L221.7 259.3M33.3 341.8L20.8 335.2M38.6 240.4L49.9 220.7M216.6 352.6L206.4 369.9M229.8 281.6L226.9 285.5M78.4 202.4L92.3 198.9M28.4 254.6L30.9 246.9M198.6 222.2L212 238.5M223.6 259.9L226.3 271.9M143.6 196.4L158.9 197.6M77.4 201.6L87.6 201.8M229.9 300.9L226 318.2M129.5 397.7L109.3 404M39.7 235.2L43.8 230M90.1 385.6L78.4 395.9M75.7 390.4L70.8 388M219.3 264L224 269.2M37.1 350.7L32.5 347.9M222.7 256.7L218.7 276.1M212.1 355L208.7 363.3M44.5 374.3L39.5 364.2M66.4 390.7L63.1 387.4M89.9 401.5L85.3 396M94.5 401.5L83 401.8M100.8 400.2L90.4 404.7M208.4 365.4L198.6 372.8M158.2 402.8L146.2 402.2M58.4 382.4L53.7 380.1M92.2 404.1L86.4 401.6M145 403.3L134.1 405.6M129.9 407.8L124.6 409.9M23.9 336.3L24.5 328.5M23.8 338L21.1 326.2M88.3 401.3L78.5 397.9M174.9 394.3L164.9 399M113.4 409L108.1 407.5M140 407.3L131.7 405.5M71.7 396.2L67.4 392.7M37.8 358.2L31.4 351.2M132.2 407.1L128.8 405.7M33.3 357.9L29.5 346.5M77.6 395.1L69.8 389.2M64.6 391.8L62.2 386M214.6 343.3L215.2 353.1M215.9 347.8L210.7 353.5M111.2 405.4L104.9 404.2M123.9 407.2L111.6 402.8M38.6 366.7L32.8 358M178.4 392.7L167.8 396.7M63.7 389.5L60.8 386.2M27 337.5L24.2 332.4M50.8 375.6L44.7 371.8M32.3 351L26 344.6M46 371.2L38.2 361.7M193.2 379.1L188.4 385.3M94.9 405.3L85.1 398.8M23 337.2L22.7 326.2M129.9 406.4L119.7 407.9M58.8 385.5L51.1 380.9" stroke="#4e7a34" stroke-width="0.9" stroke-opacity="0.85" fill="none"/>
<path d="M212.2 358L207.6 359.1M216.2 349.4L208.7 362.9M210.6 237.8L221 253.2M25.2 328.2L17.7 317.9M37.4 357.9L30 351.8M26.7 332.1L17.9 318M220.1 339.1L214.8 357.1M108.1 193.4L111.8 192.2M32.7 343.6L23.5 341.1M81.3 201.6L95.7 200.6M224.4 338.3L213.4 349.5M41.5 232.6L52 220.1M217.3 349.9L216 353.7M89.2 198.9L111.1 196.1M112.7 408L108.2 405.4M211.6 239.9L220.3 258.3M141.6 406L133 409.8M229.3 315.5L224 338.4M27.2 333.3L18.7 316.3M76.7 208.4L87 202.4M42.5 227.7L61.9 217.1M215.3 245.2L218.4 247.7M16.3 289.3L18.1 276.2M24 322.4L19.8 304.4M92.8 202.9L101.4 195.2M205.6 369.8L199.6 375M151 196.7L160 203.8M164.9 399.8L151.2 395.5M229.8 311.7L225.9 321.2M225.4 306.8L224 311.7M17.5 280.7L18 277M142.2 404.5L119.5 409M141.7 193.3L148.4 195.1M31.4 349L29.9 341.3M214.3 357L199.9 370M170.4 399L156.9 398.7M229.2 319.4L221 340.7M33 242.3L44.7 237.3M221.3 347.1L215.9 350.1M54.3 384.4L53.3 376M161.9 401.4L151.4 399.5M29.2 353.6L20.7 334.2M219.8 251.1L226.9 270.1M99.2 405.9L95.2 400.9M201.2 224.5L206.1 232M216.4 333.7L219.3 346.9M25.2 341L26.8 336.6M197.5 362.9L190.1 379.3M146.5 198.1L151.8 195.3M165.6 391.3L155.7 397.5M69.5 207.3L82.1 200.4M115.2 193.7L131.9 192M66.2 392.6L54.9 379.6M221 256L225.3 278.1M46.2 225.9L49.7 220.4M27.3 339.9L21.8 327.7M221.5 332.6L221 342.1M181.9 383L171.3 396.3M149.6 402.1L134.5 407.4M93.1 403.6L88.9 399.8M34.2 240.7L37.4 237.3M126.3 405.9L116.7 409.9M56.6 385.9L57.3 376.2M165.2 394.4L156.6 400.6M213 238.1L210.8 249.3M189 218.3L198.9 221.5M52.8 222L53.9 216.8M183.5 209.4L188.2 214.7M40.3 357.1L30.9 353.1M223.7 316L228.9 325.1M112.6 401.9L103.5 408.3M183.2 214.1L194.4 226.1M27.8 250.9L37.4 247.4M92.6 401.4L94.3 379.2M204.2 229.8L194.8 237.9M64.9 210.7L70.9 213.9M201.7 227.1L195.4 244.8M116.8 383.7l-0 1.8M153.7 366.9l1.1 1M122.5 327l0.9 0.9M44.8 276.2l3.3 0.6M62.1 321.7l1.4 1.7M117.1 394.1l1.2 1.2M188.9 325.5l-1.5 1.1M110.6 222l3.2 0.8M187.9 213.4L194.1 210.1M71.2 205.6L71.3 192.6" stroke="#4f5fc0" stroke-width="0.9" stroke-opacity="0.85" fill="none"/>
<path d="M226.3 298.7L226.6 304.6M85.2 201.8L102.3 196.2M43.9 227.5L54 221.3M216.2 244.7L221.2 254.2M30.6 353.8L21.8 336.6M23.5 264.5L31.4 243.1M124.9 405.5L111.8 407.7M101.5 194.1L120 193.2M213.2 357L202.5 370M36.8 355.2L33.5 339.4M39.2 365.6L43 358.8M58.4 383.7L43.5 372M20.7 329.3L23.4 312M21.8 322.8L16.9 303.6M158.3 402.4L145.6 407.2M101.7 404.1L88.6 404.1M228.8 310.1L224.8 330.8M229.1 286.2L227.2 303.8M34.3 353.7L29.3 352.7M33.6 355.4L21.9 338.4M210.7 342.2L215.5 353.7M18.6 314.4L21.6 307.9M28.7 349L29.3 342.4M219.8 252.4L228.3 273.8M92.8 399.5L78.1 398M28.8 260.1L37.2 240.5M37.1 246.8L45.5 225.3M41.1 230.3L53.1 220.7M110.6 194.3L132.7 192.3M34.3 349L22.3 334.7M221.4 346.3L206.4 359.3M34.1 242.2L37.5 236.6M205.9 368.5L199.2 372.5M42 233L53 221.3M31 332.2L23.1 322.9M102.1 407L79.1 401.5M39.1 236.2L48.7 230.4M112.9 410L106.8 406.7M211.9 346.1L215.6 354.4M190.7 380.6L169.8 389.5M47 224.1L59.3 215M131.5 194.7L147.3 199.9M20 296.6L22.2 277.3M29.1 348.3L20.7 329.9M100.3 196.9L108.5 195.6M54.9 217.3L72.9 206.5M16 306.8L17.1 286.7M187.2 219L195 227.5M227.6 308.3L225.7 323.8M151.9 403.1L131.2 409.3M45.7 372.7L41 357.2M197.8 367.4L182.8 384M161.3 401.4L140.7 398.9M75 205.5L86.4 205.2M196.1 224.4L207.6 235.2M181.4 215.7L200.2 227.3M88.6 396.7L78 399.4M43.6 361.1L37 352.7M152.4 404.2L132.8 407.1M21.4 328.8L22.4 322.6M22.5 329.1L18.5 311.3M77.6 202.6L96.3 202M47.4 369.5L38.7 368.8M178.2 210.6L195 224.6M59.8 386.1L56.7 364.4M226.7 275.8L228.8 298.2M196.4 374.5L187.7 386.4M110.4 402.3L94 402.6M21.6 302.8L19 292.9M17.7 279.8L24.5 261.7M161.4 402.1L143.5 398.7M63.8 387.3L53.6 384.4M22.3 338.2L17.7 322.8M197.8 222.4L205.3 231.1M113.2 406.6L102 401.1M112.7 395.9L93 400.9M92 401.2L81.1 384.7M205.5 367.6L184.4 360.8M143.6 404.1L133.4 397.8M223.8 263.3L217.1 286.2M206.3 366.6L189.3 371.1M143.4 194.9L148.4 202.5M222.6 260.3L201.7 265.9M115.2 193.3L108.7 206.2M168.2 396.2L151.4 388.9M209.3 362.7L200.3 365.6M154.3 402.5L150.4 408.6M65.9 390.2L60.8 398.6" stroke="#c42a36" stroke-width="0.9" stroke-opacity="0.85" fill="none"/>
<rect x="87.8" y="377.8" width="79" height="46.4" fill="none" stroke="#d38a38" stroke-width="1.6"/>
<rect x="257.1" y="174" width="487.1" height="252.2" fill="#e2e1e0" stroke="#1c1c1c" stroke-width="1.6"/>
<clipPath id="cbr"><rect x="258" y="175" width="485.5" height="250.5"/></clipPath>
<g clip-path="url(#cbr)">
<path d="M296 280.7L303.6 281.3L311.3 282.2L318.9 285.1L326.5 288.1L334.1 291.2L341.8 293.9L349.4 295.7L357 297.5L364.6 299.4L372.3 301.2L379.9 303L387.5 304.4L395.2 305.7L402.8 307.1L410.4 308.5L418 309.8L425.7 311.2L433.3 312.4L440.9 313.4L448.5 314.4L456.2 315.4L463.8 316.4L471.4 317.4L479.1 318.4L486.7 319.2L494.3 319.9L501.9 320.7L509.6 321.5L517.2 322.2L524.8 322.5L532.4 322.5L540.1 322.5L547.7 322.5L555.3 322.5L562.9 322.4L570.6 322L578.2 321.6L585.8 321.2L593.5 320.8L601.1 320.4L608.7 319.6L616.3 318.9L624 318.1L631.6 317.3L639.2 316.6L646.8 315.8L654.5 315.1L662.1 314.3L669.7 313.5L677.4 312.8L685 312L692.6 311.2L700.2 310.5L707.9 309.8L715.5 309.2L723.1 308.5L730.7 307.8L738.4 307.2L746 306.5L746 315.5L738.4 316.2L730.7 316.8L723.1 317.5L715.5 318.2L707.9 318.8L700.2 319.5L692.6 320.2L685 321L677.4 321.8L669.7 322.5L662.1 323.3L654.5 324.1L646.8 324.8L639.2 325.6L631.6 326.3L624 327.1L616.3 327.9L608.7 328.6L601.1 329.4L593.5 329.8L585.8 330.2L578.2 330.6L570.6 331L562.9 331.4L555.3 331.5L547.7 331.5L540.1 331.5L532.4 331.5L524.8 331.5L517.2 331.2L509.6 330.5L501.9 329.7L494.3 328.9L486.7 328.2L479.1 327.4L471.4 326.4L463.8 325.4L456.2 324.4L448.5 323.4L440.9 322.4L433.3 321.4L425.7 320.2L418 318.8L410.4 317.5L402.8 316.1L395.2 314.7L387.5 313.4L379.9 312L372.3 310.2L364.6 308.4L357 306.5L349.4 304.7L341.8 302.9L334.1 300.2L326.5 297.1L318.9 294.1L311.3 291.2L303.6 288.4L296 285.5Z" fill="#c4c4c4"/>
<path d="M372 302.1L374.1 290.9M374 302.6L373.5 292.6M379 303.8L377.2 293M383.6 304.7L382.9 294.4M385.6 305L383.8 291.9M389.6 305.7L387.4 293.9M391.5 306.1L388 295.4M393.9 306.5L395.9 295.5M398 307.2L399.8 297.1M402.3 308L402.4 298.1M407.1 308.9L409.3 297M410.2 309.4L410.5 300.9M414.1 310.1L413.9 300.9M416.3 310.5L417.2 300.7M418.7 311L420.6 300.1M422.5 311.6L426.2 301.2M424.8 312.1L427 302.2M428.1 312.7L426.9 303.7M431.2 313.2L434.8 300.6M436.2 313.8L438.1 303.2M438.2 314.1L440.1 305.3M440.9 314.4L441.2 304.6M443.5 314.8L441.2 305.2M446.4 315.1L449.1 304.4M450.4 315.6L449.1 302.8M454.1 316.1L454.1 303M455.9 316.4L453.8 303.5M457.9 316.6L458.7 300M460.8 317L462.2 301.5M463.8 317.4L462.6 302.5M468.4 318L470 303.7M471.8 318.4L468.6 302.3M476.3 319L476.7 302.7M480.4 319.5L480.8 304.6M483 319.8L484 306.7M487.2 320.2L485.8 306.6M489.1 320.4L487.1 300.3M493.1 320.8L490.5 306.3M496.5 321.2L496.2 306.7M501.3 321.6L502.7 306M504.1 321.9L507 305M505.9 322.1L504 304.6M510.9 322.6L509 306.3M513 322.8L512.2 305.1M516.8 323.2L513.8 304.1M520.1 323.5L523.1 306.7M523.3 323.5L522.5 309.1M525.8 323.5L526.1 305.2M528.1 323.5L525.7 308.5M530.3 323.5L531.9 309.6M535.1 323.5L533.4 307.1M539.7 323.5L536.7 307.7M542.8 323.5L544.1 309.4M546 323.5L547.4 303.8M549.2 323.5L548.1 301.3M552.8 323.5L553.3 304.6M555.6 323.5L555.6 304.7M559.9 323.5L559.7 303.6M563.3 323.3L562.1 302.9M567.6 323.1L571.8 300.5M570.1 323L568 307.2M572.1 322.9L569.6 301.7M576.5 322.7L574.1 307.2M580.9 322.5L583.6 305.5M584.6 322.3L587.7 304.7M588.2 322.1L590.2 299.6M590.3 322L591.5 305.3M592.9 321.9L593 306.8M595.3 321.7L598.2 302.2M599.4 321.5L602.5 303M603 321.2L600 301.9M606.5 320.8L604 305.8M609.3 320.6L606.6 303.3M611.2 320.4L609.8 304.5M616.1 319.9L615.7 306.5M619.5 319.5L621.3 299.3M622.8 319.2L626.2 297.3M625.3 319L628 298.2M627.7 318.7L628.1 298.5M631.2 318.4L632.3 299.1M633.6 318.1L632.7 300.6M635.9 317.9L637.7 304.6M638 317.7L637.9 300M642.2 317.3L640.6 303.2M644.4 317.1L647.2 298.6M648.8 316.6L648.5 301.8M652.7 316.2L655.9 297.1M657.4 315.8L654.4 299.7M659.7 315.5L661.2 298.1M662.2 315.3L665.1 300.2M666.5 314.9L666.8 297.3M670.1 314.5L671.7 298.6M674.7 314L672.2 290.6M679.1 313.6L675.9 295.6M681.2 313.4L683.7 298.8M683.4 313.2L685.7 298.5M685.9 312.9L687.4 298.1M690.4 312.5L692.4 294.3M693.5 312.1L690.8 296.4M696.6 311.8L694.9 294.1M700.3 311.5L701.8 290.7M703.5 311.2L705.7 293.1M708.3 310.8L706.3 292.8M712.1 310.5L713.1 295.6M715.3 310.2L715 293.3M718.6 309.9L717.6 290M720.7 309.7L718.1 290.7M724.1 309.4L720.8 291.4M727.3 309.1L723.9 288.7M730.1 308.9L729.1 287.2M734.4 308.5L733.3 287.9M738 308.2L739.1 293.5M741.6 307.9L739.6 285.8M744.5 307.6L741.1 286.2M257.7 304.2L281.2 262M264.8 302.4L284.2 254.4M274.8 302.5L292.7 258.3M279 302L300 264.3M281.2 302.1L304.8 256.9M286.1 301.6L303.8 262.7M292.4 303L311.9 267.2M340 292L368 297L345 296" stroke="#4e7a34" stroke-width="1.4" fill="none" stroke-opacity="0.92" stroke-linejoin="round"/>
<path d="M374.1 290.9L375.7 282.8M373.5 292.6L372.9 281M383.8 291.9L382.9 285.5M388 295.4L385.5 287.5M395.9 295.5L397.6 285.7M399.8 297.1L401.5 287.3M402.4 298.1L402.4 288.5M426.9 303.7L425.9 296.4M434.8 300.6L436.4 294.8M438.1 303.2L440.1 292M441.2 305.2L438.2 293.5M449.1 304.4L451.1 296.3M449.1 302.8L448.4 295.9M453.8 303.5L451.7 290.9M458.7 300L459.1 291.9M462.6 302.5L461.9 294.8M470 303.7L471.1 293.5M468.6 302.3L466.3 290.7M485.8 306.6L484.7 295.9M487.1 300.3L486.1 290.3M496.2 306.7L496 293.3M502.7 306L504.1 291.2M507 305L509.4 290.6M512.2 305.1L511.7 295.3M522.5 309.1L521.6 292.6M526.1 305.2L526.3 290.8M531.9 309.6L533.9 293M533.4 307.1L532.2 294.7M536.7 307.7L534.6 296.4M544.1 309.4L545.4 295.2M547.4 303.8L548.1 293.1M553.3 304.6L553.6 294.5M555.6 304.7L555.6 296.2M559.7 303.6L559.6 293.8M562.1 302.9L561.4 292.2M568 307.2L566.3 293.9M569.6 301.7L568.3 290.7M583.6 305.5L586.1 289M598.2 302.2L600.1 289M602.5 303L604.1 293M615.7 306.5L615.4 291.2M626.2 297.3L627.8 286.6M628 298.2L629.2 288.9M632.7 300.6L631.8 285.1M637.9 300L637.9 285.8M647.2 298.6L648.7 289.1M648.5 301.8L648.3 285.4M654.4 299.7L651.5 283.9M661.2 298.1L662.5 283.5M666.8 297.3L667 284.6M671.7 298.6L672.9 286.5M683.7 298.8L686.5 282.1M687.4 298.1L689 281.9M690.8 296.4L688.4 282.7M701.8 290.7L702.8 278.4M705.7 293.1L707.5 277.6M717.6 290L716.8 275.1M718.1 290.7L716.5 279.6M720.8 291.4L718.3 277.9M723.9 288.7L721.4 273.4M260.1 305.1L277.3 254.9M266.8 303.4L288.1 256.1M271.4 303.2L293 257.3M288.5 300.7L306.8 263M260.6 300L263.2 273.8M265.3 300L268 263.7M272.5 300L272.6 266.2M277.3 300L279.1 266.4M284.1 300L284.8 267.6M290.8 300L292.6 268.8M257.8 296L298.3 302M262 292L263 267M621.5 325L619 344M632 324L636.5 345M666.6 323L668 345M676 323L680 345M683.8 322L682 344M590 326L586 339M700 320L703 342" stroke="#3f2a70" stroke-width="1.4" fill="none" stroke-opacity="0.92" stroke-linejoin="round"/>
<path d="M377.2 293L375.8 284.5M382.9 294.4L382.4 286.8M387.4 293.9L386.3 288.1M409.3 297L411.2 286.9M410.5 300.9L410.9 292.7M413.9 300.9L413.7 291.9M417.2 300.7L417.9 292.4M420.6 300.1L422.3 291.1M426.2 301.2L428.4 295.1M427 302.2L428.9 294.2M440.1 305.3L442.2 296M441.2 304.6L441.5 293.8M454.1 303L454.1 295.1M462.2 301.5L463 293.1M476.7 302.7L476.9 290.5M480.8 304.6L481.2 293.4M484 306.7L485.1 293.6M490.5 306.3L487.9 291.6M504 304.6L502.5 290.5M509 306.3L507.8 295.5M513.8 304.1L512 293.3M523.1 306.7L525.5 292.7M525.7 308.5L523.7 296M548.1 301.3L547.6 291.2M571.8 300.5L573.6 290.3M574.1 307.2L571.2 289.4M587.7 304.7L590.3 289.8M590.2 299.6L591.1 289.9M591.5 305.3L592.3 292.8M593 306.8L593.1 289.5M600 301.9L598.1 290.3M604 305.8L601.4 290.9M606.6 303.3L604.1 287.8M609.8 304.5L608.3 287.8M621.3 299.3L622.3 287.7M628.1 298.5L628.3 287.3M632.3 299.1L633 285.9M637.7 304.6L639.8 288.4M640.6 303.2L638.9 288.7M655.9 297.1L658.2 283.8M665.1 300.2L668.2 284.7M672.2 290.6L671.1 280.1M675.9 295.6L673.6 282.7M685.7 298.5L688.1 283.1M692.4 294.3L694 280.3M694.9 294.1L693.5 279.8M706.3 292.8L704.7 277.8M713.1 295.6L714.3 277.8M715 293.3L714.7 277.7M729.1 287.2L728.5 273.8M733.3 287.9L732.5 272.5M739.1 293.5L740.3 276.9M739.6 285.8L738.7 275.2M741.1 286.2L739.2 274.1M257.5 234.5L349.8 262M257.5 238.2L327.2 257.2M257.5 243.8L342.3 274.6M257.5 248.2L324.9 268.5M257.5 254.7L334.5 280M449.4 305.2L532.1 312.7M639.2 299.1L701.4 292.8M346.7 271.6L377.6 283.6M570 296.4L678.9 280.5M680.6 284.3L762.3 272M640 289.3L758.9 272M672.4 296.2L771.1 296.2M711.6 285.1L765.2 279.1M618.1 304.3L707.7 300.3M569.5 291.9L595.6 288.4M711.2 286.5L783.7 279.3M527.3 292.8L602.4 287.8M655.6 304.5L720.4 294.2M684.2 283.1L750.6 279.7M724.6 301.9L831.5 299.1M341.4 269L414 288.8M498.8 304.4L604.1 315.6M625.7 286.3L730.6 274M386.4 303.1L496 317.3M651.3 313.5L774.8 306M368.7 279L489.8 291.1M421.5 297.2L490.7 303.3M670.2 304.2L760.4 297.7M703.2 302.8L742.4 302.5M582.1 301.3L639.8 293.2M396.2 304.9L515.8 314.7M518.8 315.4L600.8 317.8M495 308.1L541.1 303.5M360 273.9L395.1 285L430.2 292.8L465.3 291.7L500.4 291.9L535.5 292.1L570.5 290.2L605.6 287.8L640.7 284.1L675.8 280L710.9 276.8L746 271M390 286.1L422.4 293.3L454.7 294L487.1 294.5L519.5 293.9L551.8 294.3L584.2 292.7L616.5 289.7L648.9 287.8L681.3 283.9L713.6 280.1L746 274.2M420 295.1L449.6 298.2L479.3 297.1L508.9 296.3L538.5 297.7L568.2 296.8L597.8 293.6L627.5 292.1L657.1 289.6L686.7 285.1L716.4 282.2L746 277.5M450 301.5L476.9 300.1L503.8 300L530.7 299.8L557.6 300.9L584.5 298.1L611.5 296.7L638.4 293.2L665.3 291.2L692.2 287.7L719.1 285.3L746 281.3M355.9 194.3L449.2 291.9M679.5 278L748 223M377.2 285.4L467.3 278.8M257.8 236.7L346 267L440 290M257.8 241.6L346 282.6M257.8 250L330 270M556 333.5Q600 346 640 345.5Q690 346 748 313M560 325L557 334M548 322L545 333" stroke="#4f2f96" stroke-width="1.2" fill="none" stroke-opacity="0.92" stroke-linejoin="round"/>
<path d="M269.3 230.7L274.1 265.7M292 304L300 298L308 306L316 300L326 312M275 250L282 262L290 252M296 262L300 274M541.8 295L626.8 285.9M541.4 304.6L605.1 295M525.5 303.4L634.2 297.8M732.5 305.9L757.7 306M525.3 303.1l-0.4 -6.8l-2.4 -0.6M280.9 243.8l-6.9 1.7l-6.9 6.3M562.7 312.2l-6.4 0.1l-4.1 5.9M431.1 294.7l-1 -2.5l-5 3.9M363.8 302.8l3.3 5.1l3.2 5.4M724 271.2l-3.4 5.7l0.6 5.9M483.1 298.9l4.7 -3.3l-1.3 4.6M448.1 310l-4.9 -4.1l6.7 -4.3M338.2 263l-5.9 -1.4l1.6 5.3M739 281l-0 -1.4l-0.5 5M459.4 312.9l5 -1.3l-2.2 -5.7M586 312.6l1.9 -3.1l2.8 -3.9M649.7 312l-2.4 1.5l-0.6 -2.3M692.1 285.7l4.1 3.5l-5.4 4.6M440.8 300.4l-0.8 -1.4l-1.1 3.6M409.5 289.3l3.6 -1l0.5 -4.6M586.7 306.2l1.9 6l-6 0.3M280.6 255.8l2 4.4l-3.1 5.5M706.6 304.5l-0.9 1.8l-0.3 -6M391.4 308.8l-4.5 -0.8l2.4 -1.2M542.2 306.9l-5.2 -6.5l0.3 1.9M529.3 320.6l-4.9 -5.8l4.7 5.5M730 300.4l-1.4 0.9l1.9 1M462.6 315.7l3.8 -6.6l5.8 -1.1M613.8 315.9l2.1 -3.3l1.5 -1M346.7 270.7l3.7 -1l-0.9 -2M555.2 309.2l4.1 -2.8l1.4 0.1M304.4 282.5l1.5 -0.2l0.3 0.3M457.9 305l4.5 -1.7l3.6 -6.8M413 309.9l2.2 -5.7l-2 -0.8M654.7 283.2l-4.9 -2.8l-1.3 2.9M449.9 312.1l-3.8 -1.9l3.8 -0.9M505.8 301.5l-5.7 0.1l-6.4 -4.8M615.7 308l6.6 3.5l-1.4 -4.1M359.5 279l5.8 -1l0.4 0.2M314.5 276.6l-6.9 1.9l-3.8 6.4M564.9 304.4l-5.3 -3.2l-3.1 6M509.4 304.5l-0.4 -2l2.4 -0.5M531.4 311.7l2 -4.5l5.7 -4.6M532.7 318.7l6.8 -2l0.8 2.1M372.1 289.1l1.4 -4.1l3.6 7M260.1 269.1l-0.1 4.1l-0.1 -0.5M296.4 259.6l-6.5 0.6l2.2 -1.4M695.5 307l-3.6 -2.4l-4.2 -4M588.6 311.2l6.6 0.3l-1.3 6.3M362.5 183.8V201.8M388.7 243.4L410 245.4M403 240L404 248M704.2 242.6L715 254.4M370 290L385 265L393 290" stroke="#4f5fc0" stroke-width="1.0" fill="none" stroke-opacity="0.92" stroke-linejoin="round"/>
<path d="M535.2 296.4L556 282.4L569.9 294L578.3 283.9M699.2 283.1L710.5 272.4L731.5 279.4M500.4 294.5L514.8 286L530.7 296.7M544.9 298.9L564.7 287L586 295.7M694.6 279.4L716.3 267.2L726.7 279L746.7 263.6M635.9 289.7L652.2 278.6L671.2 283.6M701.1 280.4L721.7 266.9L736.2 278M664.8 283.9L677.6 275.2L693.6 286.1L702.6 273.6M524 299.3L543.1 287.6L562.9 295.2M557.4 293.2L573.2 284.1L595 294.9M603.2 295.7L618.9 279.3L627 289.3M592.8 296.3L614.3 277L626.6 287.4L648.3 278.9M662 283.9L681.1 272.1L692.4 286.2L710.5 271.8M545.3 312l15.3 5.9M513.6 294.5l21.8 6.6M627.8 284.2l-6.7 6M517.7 310.1l16.4 5M559.6 299.7l20.8 5.2M532.8 304.7l21.5 -8.7M589.8 309.4l-21 10.5M548.4 302.6l16.8 10.7M725.6 278.6l18.9 -3.7M562.5 293.4l-14 -4.3M476.1 298l-16.9 -4.3M653.3 309.5l9.7 -6.4M394.4 289.5l5.7 5.6M707.8 289l-4.9 4.2M541.3 291.7l-7 5.2M692 293.9l-5.4 -4.7M683.4 298l19.1 -7.2M385.3 311.7l-17.4 -11M723.3 301.7l9.7 -5.7M710.5 289.1l8.8 -1.8M541.2 295.7l10.2 8.6M551.8 297.8l-14.5 7.2M660.5 299.8l10.8 -1.4M605.9 288.7l10.5 -8.3M389 293.3l19.8 -13.7M613.1 310l-18.6 -9.8M531.6 321.3l-19.6 3.4M587.8 297.8l19.9 -12.1M264.5 222.9L257.8 227M264.5 222.9L257.8 232M264.5 222.9L257.8 237M264.5 222.9L295.9 277.8L318.8 297.1M257.8 276.6L346 302M257.8 287.5L316.4 310.4M301.3 317.7L346 308L357.5 303.4M364 308.3L412.6 328M603.3 244.1L724.6 273.7L748 280M519 256.7L473 329.8M537 352.7L563.6 336.7M264.5 222.9L258 230M264.5 222.9L258 240" stroke="#c42a36" stroke-width="1.25" fill="none" stroke-opacity="0.92" stroke-linejoin="round"/>
</g>
<g font-size="12.5" font-weight="bold">
<text x="292.5" y="376" fill="#c42a36">MOTOR</text>
<text x="292.5" y="389.2" fill="#4e1f86">FILAMENT</text>
<text x="292.5" y="402.6" fill="#4b5cab">CROSSLINKER</text>
<text x="292.5" y="416" fill="#4b7033">TETHER</text>
</g>
<path d="M75.8 574.92L77.59 574.2L79.39 573.44L81.18 572.64L82.97 571.8L84.76 570.92L86.56 570.01L88.35 569.05L90.14 568.07L91.94 567.04L93.73 565.99L95.52 564.9L97.31 563.78L99.11 562.63L100.9 561.45L102.69 560.24L104.48 559L106.28 557.74L108.07 556.45L109.86 555.13L111.66 553.8L113.45 552.43L115.24 551.05L117.03 549.65L118.83 548.22L120.62 546.78L122.41 545.32L124.21 543.84L126 542.35L127.79 540.84L129.58 539.32L131.38 537.78L133.17 536.24L134.96 534.68L136.76 533.11L138.55 531.53L140.34 529.95L142.13 528.35L143.93 526.75L145.72 525.15L147.51 523.54L149.31 521.93L151.1 520.31L152.89 518.7L154.68 517.08L156.48 515.47L158.27 513.85L160.06 512.24L161.85 510.63L163.65 509.03L165.44 507.43L167.23 505.84L169.03 504.26L170.82 502.68L172.61 501.12L174.4 499.56L176.2 498.02L177.99 496.49L179.78 494.97L181.58 493.47L183.37 491.98L185.16 490.51L186.95 489.05L188.75 487.62L190.54 486.2L192.33 484.8L194.13 483.43L195.92 482.07L197.71 480.74L199.5 479.44L201.3 478.16L203.09 476.9L204.88 475.68L206.67 474.48L208.47 473.31L210.26 472.17L212.05 471.06L213.85 469.98L215.64 468.93L217.43 467.92L219.22 466.95L221.02 466.01L222.81 465.1L224.6 464.24L226.4 463.41L228.19 462.63L229.98 461.88L231.77 461.18L233.57 460.52L235.36 459.9L237.15 459.34L238.95 458.84L240.74 458.4L242.53 458.04L244.32 457.76L246.12 457.55L247.91 457.44L249.7 457.43L251.49 457.52L253.29 457.72L255.08 458.03L256.87 458.47L258.67 459.04L260.46 459.74L262.25 460.58L264.04 461.56L265.84 462.7L267.63 464L269.42 465.47L271.22 467.11L273.01 468.93L274.8 470.93L276.59 473.12L278.39 475.51L280.18 478.1L281.97 480.9L283.77 483.92L285.56 487.16L287.35 490.63L289.14 494.33L290.94 498.28L292.73 502.47L294.52 506.92L296.32 511.62L298.11 516.6L299.9 521.87L301.69 527.48L303.49 533.47L305.28 539.85L307.07 546.67L308.86 553.97L310.66 561.77L312.45 570.12L314.24 579.04L316.04 588.39L317.83 597.51L319.62 605.68L321.41 612.85L323.21 622.71L325 640.18" stroke="#4f7a35" stroke-width="3" fill="none" stroke-linejoin="round"/>
<path d="M75.8 478.86L77.59 478.1L79.39 477.36L81.18 476.62L82.97 475.89L84.76 475.18L86.56 474.47L88.35 473.78L90.14 473.09L91.94 472.42L93.73 471.75L95.52 471.1L97.31 470.46L99.11 469.84L100.9 469.22L102.69 468.62L104.48 468.03L106.28 467.45L108.07 466.89L109.86 466.34L111.66 465.81L113.45 465.28L115.24 464.78L117.03 464.28L118.83 463.81L120.62 463.34L122.41 462.9L124.21 462.46L126 462.05L127.79 461.65L129.58 461.27L131.38 460.9L133.17 460.55L134.96 460.22L136.76 459.9L138.55 459.6L140.34 459.32L142.13 459.06L143.93 458.82L145.72 458.6L147.51 458.39L149.31 458.2L151.1 458.04L152.89 457.89L154.68 457.76L156.48 457.66L158.27 457.57L160.06 457.5L161.85 457.46L163.65 457.44L165.44 457.43L167.23 457.45L169.03 457.5L170.82 457.56L172.61 457.65L174.4 457.76L176.2 457.89L177.99 458.04L179.78 458.22L181.58 458.43L183.37 458.65L185.16 458.91L186.95 459.18L188.75 459.48L190.54 459.81L192.33 460.16L194.13 460.54L195.92 460.94L197.71 461.37L199.5 461.82L201.3 462.31L203.09 462.81L204.88 463.35L206.67 463.91L208.47 464.5L210.26 465.12L212.05 465.77L213.85 466.44L215.64 467.15L217.43 467.88L219.22 468.64L221.02 469.43L222.81 470.26L224.6 471.11L226.4 471.99L228.19 472.9L229.98 473.84L231.77 474.81L233.57 475.82L235.36 476.86L237.15 477.94L238.95 479.07L240.74 480.25L242.53 481.49L244.32 482.8L246.12 484.18L247.91 485.64L249.7 487.18L251.49 488.82L253.29 490.55L255.08 492.39L256.87 494.33L258.67 496.39L260.46 498.58L262.25 500.89L264.04 503.34L265.84 505.92L267.63 508.66L269.42 511.55L271.22 514.59L273.01 517.78L274.8 521.1L276.59 524.55L278.39 528.11L280.18 531.76L281.97 535.49L283.77 539.29L285.56 543.16L287.35 547.07L289.14 551.01L290.94 554.97L292.73 558.94L294.52 562.93L296.32 566.93L298.11 570.95L299.9 574.97L301.69 579L303.49 583.05L305.28 587.1L307.07 591.16L308.86 595.23L310.66 599.31L312.45 603.39L314.24 607.48L316.04 611.67L317.83 616.13L319.62 621.02L321.41 626.53L323.21 632.83L325 640.08" stroke="#4a5db0" stroke-width="3" fill="none" stroke-linejoin="round"/>
<path d="M75.8 564.79L77.59 561.45L79.39 558.15L81.18 554.9L82.97 551.69L84.76 548.53L86.56 545.42L88.35 542.36L90.14 539.34L91.94 536.37L93.73 533.45L95.52 530.58L97.31 527.76L99.11 524.99L100.9 522.26L102.69 519.59L104.48 516.96L106.28 514.39L108.07 511.87L109.86 509.4L111.66 506.98L113.45 504.61L115.24 502.3L117.03 500.04L118.83 497.83L120.62 495.67L122.41 493.57L124.21 491.52L126 489.53L127.79 487.59L129.58 485.71L131.38 483.88L133.17 482.11L134.96 480.39L136.76 478.73L138.55 477.13L140.34 475.58L142.13 474.09L143.93 472.66L145.72 471.29L147.51 469.98L149.31 468.72L151.1 467.52L152.89 466.38L154.68 465.31L156.48 464.29L158.27 463.33L160.06 462.43L161.85 461.6L163.65 460.82L165.44 460.11L167.23 459.46L169.03 458.87L170.82 458.35L172.61 457.89L174.4 457.49L176.2 457.15L177.99 456.88L179.78 456.67L181.58 456.52L183.37 456.44L185.16 456.41L186.95 456.45L188.75 456.56L190.54 456.72L192.33 456.95L194.13 457.23L195.92 457.58L197.71 457.99L199.5 458.47L201.3 459L203.09 459.59L204.88 460.25L206.67 460.96L208.47 461.74L210.26 462.58L212.05 463.47L213.85 464.43L215.64 465.45L217.43 466.53L219.22 467.66L221.02 468.86L222.81 470.12L224.6 471.43L226.4 472.8L228.19 474.24L229.98 475.73L231.77 477.28L233.57 478.89L235.36 480.56L237.15 482.28L238.95 484.07L240.74 485.91L242.53 487.81L244.32 489.77L246.12 491.78L247.91 493.86L249.7 495.99L251.49 498.18L253.29 500.42L255.08 502.72L256.87 505.08L258.67 507.5L260.46 509.97L262.25 512.51L264.04 515.12L265.84 517.79L267.63 520.54L269.42 523.37L271.22 526.27L273.01 529.26L274.8 532.33L276.59 535.48L278.39 538.72L280.18 542.04L281.97 545.44L283.77 548.91L285.56 552.45L287.35 556.06L289.14 559.73L290.94 563.47L292.73 567.26L294.52 571.11L296.32 575.01L298.11 578.95L299.9 582.94L301.69 586.98L303.49 591.04L305.28 595.13L307.07 599.24L308.86 603.37L310.66 607.51L312.45 611.65L314.24 615.78L316.04 619.91L317.83 624.03L319.62 628.12L321.41 632.19L323.21 636.23L325 640.23" stroke="#c0262f" stroke-width="3" fill="none" stroke-linejoin="round"/>
<path d="M75.8 598.15L77.59 594.32L79.39 590.5L81.18 586.69L82.97 582.9L84.76 579.12L86.56 575.37L88.35 571.63L90.14 567.93L91.94 564.25L93.73 560.61L95.52 556.99L97.31 553.42L99.11 549.88L100.9 546.39L102.69 542.95L104.48 539.55L106.28 536.2L108.07 532.91L109.86 529.67L111.66 526.49L113.45 523.38L115.24 520.33L117.03 517.34L118.83 514.43L120.62 511.58L122.41 508.8L124.21 506.09L126 503.46L127.79 500.89L129.58 498.39L131.38 495.96L133.17 493.6L134.96 491.31L136.76 489.1L138.55 486.95L140.34 484.88L142.13 482.88L143.93 480.95L145.72 479.09L147.51 477.31L149.31 475.6L151.1 473.96L152.89 472.4L154.68 470.9L156.48 469.49L158.27 468.15L160.06 466.88L161.85 465.69L163.65 464.57L165.44 463.53L167.23 462.56L169.03 461.67L170.82 460.85L172.61 460.11L174.4 459.45L176.2 458.86L177.99 458.34L179.78 457.9L181.58 457.53L183.37 457.22L185.16 456.99L186.95 456.83L188.75 456.73L190.54 456.7L192.33 456.73L194.13 456.83L195.92 457L197.71 457.22L199.5 457.51L201.3 457.86L203.09 458.27L204.88 458.74L206.67 459.27L208.47 459.85L210.26 460.49L212.05 461.19L213.85 461.94L215.64 462.74L217.43 463.6L219.22 464.51L221.02 465.47L222.81 466.48L224.6 467.54L226.4 468.66L228.19 469.84L229.98 471.07L231.77 472.36L233.57 473.71L235.36 475.12L237.15 476.6L238.95 478.14L240.74 479.75L242.53 481.44L244.32 483.19L246.12 485.01L247.91 486.91L249.7 488.88L251.49 490.93L253.29 493.07L255.08 495.28L256.87 497.57L258.67 499.95L260.46 502.41L262.25 504.96L264.04 507.59L265.84 510.3L267.63 513.1L269.42 515.98L271.22 518.94L273.01 521.98L274.8 525.11L276.59 528.33L278.39 531.62L280.18 535L281.97 538.46L283.77 542L285.56 545.61L287.35 549.3L289.14 553.06L290.94 556.89L292.73 560.79L294.52 564.76L296.32 568.79L298.11 572.88L299.9 577.03L301.69 581.24L303.49 585.51L305.28 589.83L307.07 594.2L308.86 598.61L310.66 603.08L312.45 607.59L314.24 612.13L316.04 616.72L317.83 621.35L319.62 626.01L321.41 630.7L323.21 635.42L325 640.17" stroke="#4a1f8c" stroke-width="3" fill="none" stroke-linejoin="round"/>
<path d="M75.5 448.7V640.2H325" stroke="#111" stroke-width="1.5" fill="none"/>
<g font-size="12.5" fill="#333">
<path d="M56.49 460L56.49 452.69L54.11 454.25L54.11 453.19L56.86 451.05L57.55 451.05L57.55 460Z" fill="#333"/><text x="60.25" y="460" font-size="12.5" fill="#333">.0</text>
<text x="64.7" y="643">0</text>
<text x="73.8" y="655.5">0</text>
<text x="193.2" y="654.3">50</text>
<path d="M319.19 654.3L319.19 646.99L316.81 648.55L316.81 647.49L319.56 645.35L320.25 645.35L320.25 654.3Z" fill="#333"/><text x="322.95" y="654.3" font-size="12.5" fill="#333">00</text>
</g>
<g font-size="15.5" font-weight="bold" fill="#111">
<text x="140.5" y="670.5" font-size="15.75">Percent Closure</text>
<text transform="translate(36.6 589.6) rotate(-90)">Normalized</text>
<text transform="translate(55.4 590.2) rotate(-90)">Abundance</text>
</g>
<g font-size="12.5" font-weight="bold">
<text x="84.5" y="594.8" fill="#c42a36">MOTOR</text>
<text x="84.5" y="608.2" fill="#4e1f86">FILAMENT</text>
<text x="84.5" y="621.6" fill="#4b5cab">CROSSLINKER</text>
<text x="84.5" y="634.8" fill="#4b7033">TETHER</text>
</g>
<path d="M432.9 612L449.3 573.4L460.4 543.9L468.6 531L475.7 516.5L487.9 496.3L497.5 480.9L507.1 471.2L516.8 463.5L526.4 459.6L536.1 456.8L545.7 452.9L560 450L571.2 450.5L582.3 462.3L590 471L595.4 477L600.7 486.1L606.1 493.6L611.5 500.6L616.8 507.6L627 526L640 542.7L648 555L656.3 567L661.2 578.8L666 580.4L670.9 567.4L673.3 549.5L674.5 552L674.6 583.6L674.6 616L673.3 616.1L667.7 625.8L661.2 630L653 625.8L649.8 616.1L641.7 603.1L628.7 583.6L612.5 557.7L596.2 531.7L580 507.3L560 486.3L545.7 481.8L536.1 482.8L526.4 488.6L516.8 502.1L507.1 525.2L500 536.3L490.9 548.5L483.3 559.1L475.7 571.3L468 589.6L460.4 601.7L449.8 613.9L439.1 626L433.9 631.3Z" fill="#bdbdbd" stroke="none"/>
<path d="M556 465.39L558.51 465.41L561.03 465.64L563.54 466.1L566.05 466.78L568.56 467.61L571.08 468.44L573.59 469.37L576.1 470.77L578.62 472.57L581.13 474.53L583.64 476.62L586.15 478.85L588.67 481.23L591.18 483.74L593.69 486.39L596.21 489.17L598.72 492.09L601.23 495.15L603.74 498.34L606.26 501.67L608.77 505.12L611.28 508.71L613.79 512.43L616.31 516.28L618.82 520.26L621.33 524.37L623.85 528.61L626.36 532.97L628.87 537.46L631.38 542.06L633.9 546.76L636.41 551.51L638.92 556.28L641.44 561.04L643.95 565.75L646.46 570.38L648.97 574.9L651.49 579.27L654 583.46L654 617.36L651.49 609.76L648.97 602.77L646.46 596.33L643.95 590.38L641.44 584.85L638.92 579.69L636.41 574.84L633.9 570.23L631.38 565.82L628.87 561.53L626.36 557.32L623.85 553.11L621.33 548.85L618.82 544.49L616.31 540.04L613.79 535.52L611.28 530.98L608.77 526.45L606.26 521.98L603.74 517.6L601.23 513.36L598.72 509.29L596.21 505.42L593.69 501.8L591.18 498.4L588.67 495.23L586.15 492.26L583.64 489.48L581.13 486.87L578.62 484.42L576.1 482.13L573.59 479.73L571.08 477.2L568.56 474.91L566.05 472.96L563.54 471.23L561.03 469.65L558.51 468.23L556 466.99Z" fill="#a3a3a3"/>
<path d="M432.9 624.57L434.78 622L436.65 618.66L438.53 614.8L440.41 610.68L442.29 606.53L444.16 602.62L446.04 599.18L447.92 596.24L449.8 593.58L451.67 590.98L453.55 588.2L455.43 585L457.31 581.28L459.18 577.19L461.06 572.94L462.94 568.72L464.81 564.63L466.69 560.66L468.57 556.81L470.45 553.08L472.32 549.45L474.2 545.92L476.08 542.48L477.96 539.13L479.83 535.86L481.71 532.67L483.59 529.54L485.46 526.47L487.34 523.46L489.22 520.5L491.1 517.59L492.97 514.74L494.85 511.95L496.73 509.22L498.61 506.55L500.48 503.95L502.36 501.42L504.24 498.96L506.12 496.56L507.99 494.25L509.87 492.01L511.75 489.84L513.62 487.76L515.5 485.76L517.38 483.84L519.26 482.02L521.13 480.28L523.01 478.63L524.89 477.08L526.77 475.62L528.64 474.26L530.52 473L532.4 471.84L534.27 470.78L536.15 469.83L538.03 468.99L539.91 468.27L541.78 467.65L543.66 467.15L545.54 466.77L547.42 466.5L549.29 466.36L551.17 466.34L553.05 466.45L554.93 466.68L556.8 467.05L558.68 467.54L560.56 468.18L562.43 468.94L564.31 469.84L566.19 470.86L568.07 472L569.94 473.26L571.82 474.62L573.7 476.09L575.58 477.67L577.45 479.34L579.33 481.1L581.21 482.95L583.08 484.88L584.96 486.92L586.84 489.05L588.72 491.29L590.59 493.65L592.47 496.12L594.35 498.72L596.23 501.45L598.1 504.32L599.98 507.31L601.86 510.4L603.74 513.59L605.61 516.85L607.49 520.17L609.37 523.52L611.24 526.91L613.12 530.3L615 533.69L616.88 537.05L618.75 540.38L620.63 543.65L622.51 546.85L624.39 550.02L626.26 553.16L628.14 556.3L630.02 559.47L631.89 562.7L633.77 566.01L635.65 569.42L637.53 572.96L639.4 576.65L641.28 580.52L643.16 584.6L645.04 588.9L646.91 593.45L648.79 598.29L650.67 603.42L652.55 608.88L654.42 614.7L656.3 620.89" fill="none" stroke="#666" stroke-width="3" stroke-linejoin="round"/>
<path d="M432.9 619.6L434.86 614.37L436.82 609.22L438.78 604.17L440.74 599.21L442.69 594.34L444.65 589.56L446.61 584.87L448.57 580.27L450.53 575.76L452.49 571.35L454.45 567.02L456.41 562.79L458.36 558.64L460.32 554.59L462.28 550.63L464.24 546.76L466.2 542.98L468.16 539.29L470.12 535.7L472.08 532.19L474.04 528.78L475.99 525.45L477.95 522.22L479.91 519.08L481.87 516.03L483.83 513.07L485.79 510.2L487.75 507.42L489.71 504.73L491.66 502.14L493.62 499.63L495.58 497.22L497.54 494.9L499.5 492.66L501.46 490.52L503.42 488.47L505.38 486.52L507.34 484.65L509.29 482.87L511.25 481.19L513.21 479.59L515.17 478.09L517.13 476.68L519.09 475.36L521.05 474.13L523.01 472.99L524.96 471.94L526.92 470.99L528.88 470.12L530.84 469.35L532.8 468.66L534.76 468.07L536.72 467.57L538.68 467.16L540.64 466.84L542.59 466.62L544.55 466.48L546.51 466.44L548.47 466.48L550.43 466.62L552.39 466.85L554.35 467.17L556.31 467.58L558.26 468.08L560.22 468.67L562.18 469.35L564.14 470.13L566.1 470.99L568.06 471.94L570.02 472.98L571.98 474.1L573.94 475.32L575.89 476.62L577.85 478.01L579.81 479.49L581.77 481.05L583.73 482.7L585.69 484.43L587.65 486.25L589.61 488.15L591.56 490.13L593.52 492.2L595.48 494.36L597.44 496.59L599.4 498.91L601.36 501.31L603.32 503.79L605.28 506.35L607.24 509L609.19 511.72L611.15 514.53L613.11 517.41L615.07 520.37L617.03 523.41L618.99 526.53L620.95 529.73L622.91 533.01L624.86 536.36L626.82 539.79L628.78 543.3L630.74 546.87L632.7 550.51L634.66 554.19L636.62 557.9L638.58 561.62L640.54 565.33L642.49 569.03L644.45 572.69L646.41 576.29L648.37 579.83L650.33 583.28L652.29 586.63L654.25 589.86L656.21 592.96L658.16 595.91L660.12 598.7L662.08 601.31L664.04 603.72L666 605.91L668 603.5L669.3 598.2L670.5 590L671.7 582L673 583L674.2 586.9L674.8 598L675 610" fill="none" stroke="#1c1c1c" stroke-width="3" stroke-linejoin="round"/>
<path d="M432.5 445.4V636.3H681.8" stroke="#111" stroke-width="1.5" fill="none"/>
<g font-size="12.5" fill="#333">
<path d="M414.49 471.8L414.49 464.49L412.11 466.05L412.11 464.99L414.86 462.85L415.55 462.85L415.55 471.8Z" fill="#333"/><text x="418.25" y="471.8" font-size="12.5" fill="#333">.0</text>
<text x="418" y="640">0</text>
<text x="429.5" y="651">0</text>
<text x="550.5" y="651">50</text>
<path d="M674.69 651.5L674.69 644.19L672.31 645.75L672.31 644.69L675.06 642.55L675.75 642.55L675.75 651.5Z" fill="#333"/><text x="678.45" y="651.5" font-size="12.5" fill="#333">00</text>
</g>
<g font-size="15.5" font-weight="bold" fill="#111">
<text x="497.6" y="666.7" font-size="15.75">Percent Closure</text>
<text transform="translate(388.3 610.8) rotate(-90)">Normalized Radial</text>
<text transform="translate(407.3 614.4) rotate(-90)">Constriction Speed</text>
</g>
<path d="M188 824.3L220.1 847.31L207.84 884.54L168.16 884.54L155.9 847.31Z" stroke="#878787" stroke-width="1.7" stroke-dasharray="3.4 2.7" fill="none"/>
<path d="M188 791L252.2 837.02L227.68 911.48L148.32 911.48L123.8 837.02Z" stroke="#878787" stroke-width="1.7" stroke-dasharray="3.4 2.7" fill="none"/>
<path d="M188 757.7L284.29 826.73L247.51 938.42L128.49 938.42L91.71 826.73Z" stroke="#878787" stroke-width="1.7" stroke-dasharray="3.4 2.7" fill="none"/>
<path d="M188 724.4L316.39 816.44L267.35 965.36L108.65 965.36L59.61 816.44Z" stroke="#878787" stroke-width="1.7" stroke-dasharray="3.4 2.7" fill="none"/>
<path d="M188 857.6L188 724.4" stroke="#878787" stroke-width="1.7" stroke-dasharray="3.4 2.7" fill="none"/>
<path d="M188 857.6L316.39 816.44" stroke="#878787" stroke-width="1.7" stroke-dasharray="3.4 2.7" fill="none"/>
<path d="M188 857.6L267.35 965.36" stroke="#878787" stroke-width="1.7" stroke-dasharray="3.4 2.7" fill="none"/>
<path d="M188 857.6L108.65 965.36" stroke="#878787" stroke-width="1.7" stroke-dasharray="3.4 2.7" fill="none"/>
<path d="M188 857.6L59.61 816.44" stroke="#878787" stroke-width="1.7" stroke-dasharray="3.4 2.7" fill="none"/>
<path d="M188 824.3L233.79 842.92L207.96 884.7L160.6 894.81L155.9 847.31Z" fill="#9e9e9e" stroke="#5c5c5c" stroke-width="3.6" stroke-linejoin="miter"/>
<path d="M188 857.6L188 824.3M188 857.6L233.79 842.92M188 857.6L207.96 884.7M188 857.6L160.6 894.81M188 857.6L155.9 847.31" stroke="#7a7a7a" stroke-width="1"/>
<path d="M188 824.3L220.1 847.31L207.84 884.54L168.16 884.54L155.9 847.31Z" fill="#a2a2a2" stroke="#000" stroke-width="1.6"/>
<path d="M188 857.6L188 824.3M188 857.6L220.1 847.31M188 857.6L207.84 884.54M188 857.6L168.16 884.54M188 857.6L155.9 847.31" stroke="#000" stroke-width="1.6"/>
<g font-size="14.5" fill="#7c7c7c">
<path d="M188.1 718.9L188.1 710.42L185.34 712.23L185.34 711L188.53 708.52L189.33 708.52L189.33 718.9Z" fill="#7c7c7c"/>
<text x="325" y="816.8">2</text>
<text x="272.8" y="980.9">3</text>
<text x="95" y="980.9">4</text>
<text x="40" y="817.2">5</text>
</g>
</svg>
</body></html>
